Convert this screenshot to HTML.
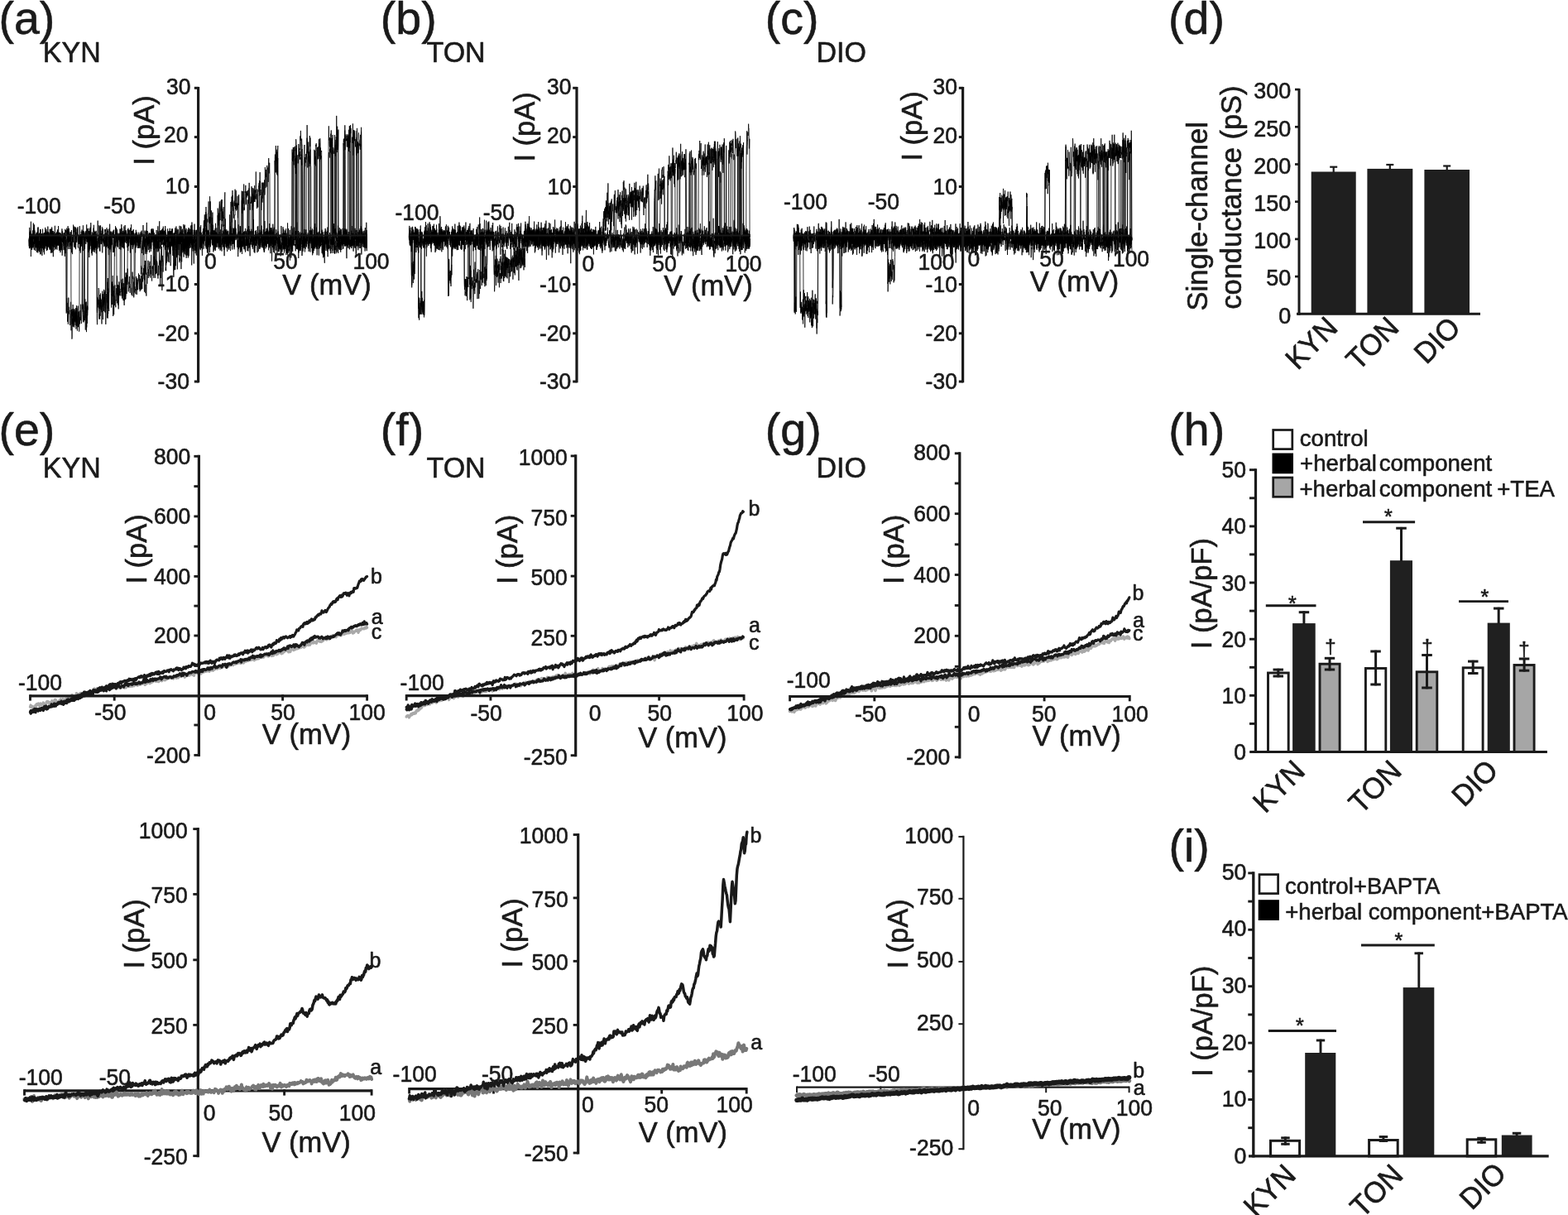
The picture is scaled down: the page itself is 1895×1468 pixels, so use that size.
<!DOCTYPE html>
<html lang="en"><head><meta charset="utf-8"><title>Figure</title>
<style>
html,body{margin:0;padding:0;background:#fff;}
body{width:1895px;height:1468px;overflow:hidden;}
svg{display:block;font-family:"Liberation Sans",sans-serif;}
text{fill:#1a1a1a;stroke:#1a1a1a;stroke-width:.6px;stroke-linejoin:round;}
</style></head><body>
<svg width="1895" height="1468" viewBox="0 0 1895 1468">
<rect width="1895" height="1468" fill="#fff"/>
<text transform="translate(-1.6 40.9)" font-size="55.5">(a)</text>
<text transform="translate(51.8 75) scale(1 1.035)" font-size="34">KYN</text>
<path transform="translate(35 285.5) scale(0.24044 .1)" d="M0 33l1 91 1 19 1-110 1-18 1-20 1 68 1-21 1 48 1-159 1 181 1-56 1 35 1-44 1-29 1 48 1 38 1-57 1-14 1 52 1-89 1-69 1 106 1-39 1-96 1 45 1 36 1-119 1 49 1 92 1 84 1-51 1-50 1 60 1 40 1-57 1 39 1 44 1-70 1-63 1 60 1 10 1 60 1-141 1-1 1-13 1-64 1 105 1 58 1-69 1 122 1-2 1-14 1-20 1 31 1-144 1 87 1 25 1-152 1 96 1-11 1 66 1-62 1 10 1 27 1-74 1 77 1-25 1 33 1-59 1 91 1-5 1-54 1 38 1 53 1 52 1-210 1 102 1 2 1-37 1-72 1 130 1-130 1 83 1 74 1-173 1 34 1-57 1 86 1 110 1 66 1-235 1 10 1 87 1 85 1-53 1-95 1 42 1-9 1-16 1-40 1 63 1 14 1-23 1-15 1-77 1 31 1 123 1-57 1-100 1 155 1-7 1 104 1-106 1-66 1-86 1 161 1 132 1-187 1-44 1 70 1-74 1 15 1 0 1 36 1 72 1-51 1 45 1-76 1 27 1-157 1-1 1 150 1-47 1 63 1 17 1 57 1-17 1 9 1-73 1-62 1-20 1 10 1-41 1 27 1 38 1 35 1-30 1-114 1 89 1 47 1 72 1-13 1-85 1-31 1 173 1-32 1 63 1 38 1-186 1 24 1 12 1 10 1 1 1-23 1-9 1-116 1 54 1-24 1 51 1-25 1 65 1 32 1-25 1-8 1-17 1-42 1 5 1-20 1 52 1-10 1 34 1-118 1 112 1-77 1-22 1 29 1-16 1 52 1-43 1-46 1 1 1 146 1-41 1-93 1 51 1-89 1 197 1-163 1 86 1 30 1-124 1 131 1 22 1-14 1-17 1 42 1-39 1 1 1-30 1 43 1-91 1 90 1-59 1-56 1 82 1 114 1-14 1-103 1 52 1-61 1 4 1 17 1-156 1 122 1-45 1 9 1-49 1-17 1 33 1 129 1 95 1-85 1 50 1-77 1-134 1 98 1 48 1-44 1 35 1 28 1-88 1-69 1 63 1 19 1-5 1 88 1 74 1-122 1 37 1 27 1-8 1 19 1-91 1 49 1 100 1-53 1-111 1 48 1 58 1-42 1-75 1 118 1-151 1 73 1-13 1-82 1 137 1-17 1-106 1 87 1-43 1-110 1 49 1 79 1 49 1-16 1-12 1 24 1-38 1 82 1-44 1-3 1 16 1-101 1-7 1 148 1-35 1-52 1 27 1-47 1 19 1-34 1 48 1-110 1 162 1-75 1-94 1 62 1 9 1 37 1-76 1 80 1 240 1-257 1 31 1-34 1 23 1-127 1 6 1 110 1-1 1 112 1-124 1 22 1 190 1-190 1-66 1 38 1 11 1 62 1-29 1-68 1 45 1 176 1-39 1-283 1 92 1-21 1 94 1-25 1 134 1-26 1-11 1-50 1-30 1 16 1 70 1-30 1-68 1 87 1-44 1-32 1-57 1-1 1-5 1-145 1 212 1 34 1-41 1 73 1-18 1-10 1-193 1 93 1 80 1 97 1 45 1-15 1-177 1-122 1 149 1 8 1 65 1-53 1 7 1-113 1 97 1-31 1 44 1 20 1-32 1 19 1-17 1 46 1-4 1-71 1-25 1 149 1-79 1 49 1-26 1-71 1-34 1 48 1 24 1 31 1-116 1 10 1 37 1 125 1-227 1 120 1-29 1 58 1-44 1 45 1 94 1-51 1-9 1-5 1-76 1 65 1-31 1-48 1 37 1 0 1 66 1-33 1-43 1 121 1 5 1 20 1-38 1-60 1-38 1-3 1 81 1-32 1-117 1 61 1-74 1 83 1-68 1-25 1 84 1 11 1-104 1 130 1 133 1-206 1 159 1-122 1-24 1 13 1-82 1 159 1-7 1-86 1 6 1-82 1 53 1 102 1-148 1 42 1 51 1 75 1 43 1-108 1-51 1 65 1-36 1-6 1 91 1 69 1-75 1-52 1 36 1-153 1 74 1-41 1 218 1-47 1-53 1-38 1-167 1 166 1 112 1-125 1 56 1 19 1-147 1 122 1 64 1-58 1-37 1 45 1-143 1 65 1 83 1-129 1 110 1-63 1-131 1 93 1-30 1 77 1-77 1 125 1-83 1 48 1-50 1 3 1 102 1-34 1-51 1-73 1 141 1 14 1-66 1 19 1-79 1-22 1 7 1 82 1 21 1-62 1 81 1 29 1-32 1 50 1-73 1-9 1 38 1-21 1 50 1-121 1 144 1-104 1 11 1-77 1 110 1 78 1 11 1-13 1-163 1 3 1 23 1-24 1 131 1-23 1-21 1 29 1-88 1-23 1-5 1 91 1 17 1 22 1 40 1-152 1 9 1 50 1-86 1 29 1 112 1 40 1 11 1-66 1-37 1 76 1-75 1 25 1 74 1-91 1-44 1 28 1 48 1 7 1-20 1 21 1-138 1 7 1 71 1-52 1-43 1-4 1 19 1 55 1-39 1 73 1 120 1-88 1 69 1-45 1-107 1 26 1-41 1 105 1-97 1 136 1-9 1-177 1 135 1 91 1-129 1 80 1-163 1 59 1-72 1 113 1-118 1-93 1 175 1 179 1-140 1 54 1-33 1-39 1 50 1 84 1-168 1 69 1 6 1-117 1 168 1 73 1-173 1 128 1-74 1-38 1 101 1-56 1-11 1 76 1 7 1-25 1-161 1-61 1 162 1-89 1 45 1-68 1 38 1-62 1 177 1-125 1 22 1 2 1 94 1-147 1 48 1 2 1 51 1 11 1-60 1 29 1-32 1 46 1-24 1-44 1 29 1 35 1 138 1-143 1 10 1 80 1-213 1-42 1 24 1 79 1 194 1-80 1 31 1-87 1-177 1-44 1 210 1 6 1-97 1 132 1-139 1 137 1 62 1-131 1-62 1 111 1-97 1 101 1-108 1 101 1-17 1-41 1-44 1 63 1-124 1 71 1 13 1 76 1-107 1 167 1-87 1-81 1 144 1 62 1-106 1-79 1 37 1-37 1 14 1 129 1-40 1-29 1 5 1-26 1 52 1 17 1-79 1 8 1 156 1-87 1-67 1 129 1-98 1-104 1 87 1-78 1 3 1 56 1-14 1-46 1 0 1-4 1 117 1-91 1-17 1 169 1-122 1 100 1 18 1-93 1-112 1 46 1 88 1 32 1-50 1 61 1 30 1-155 1 120 1-49 1-65 1-3 1 145 1-16 1-191 1 68 1 5 1 0 1-23 1-70 1 135 1-81 1 14 1-11 1-12 1 95 1 5 1-69 1-39 1 20 1 66 1 12 1-1 1-37 1-6 1 30 1-128 1 193 1-102 1-15 1 123 1-37 1-24 1-49 1-80 1 94 1 95 1-111 1 119 1-131 1-12 1 79 1-9 1 44 1-82 1-44 1-68 1 24 1 17 1-18 1 112 1-32 1-97 1 270 1-140 1-70 1 147 1 40 1-143 1-63 1 13 1 147 1-52 1-48 1 39 1 95 1-145 1 25 1-59 1 221 1 43 1-45 1-86 1 28 1-176 1 107 1-76 1-21 1 34 1 35 1 72 1 30 1-21 1-87 1 82 1-29 1 78 1-117 1-160 1 105 1 208 1-51 1-61 1 54 1-10 1-6 1-67 1 19 1 13 1-52 1-48 1 69 1 76 1 2 1-10 1-3 1 139 1-114 1 18 1 67 1-108 1-18 1 47 1 57 1-75 1-18 1-24 1-93 1 128 1-53 1-113 1 72 1-85 1 24 1 76 1-40 1 122 1-133 1 76 1 42 1 74 1-14 1-51 1-25 1-17 1 74 1-97 1 49 1-27 1 15 1-30 1 151 1-142 1 18 1 7 1 24 1-4 1-3 1 37 1-155 1 55 1-66 1 78 1-70 1-6 1 59 1 115 1-19 1-24 1 67 1-136 1-118 1 78 1 34 1 112 1 95 1-203 1 195 1-3 1-48 1-128 1 206 1-119 1-73 1 20 1-95 1 95 1-11 1 27 1 10 1-92 1 131 1-116 1 92 1-139 1 90 1-53 1 42 1-35 1-113 1 37 1 90 1 64 1-121 1-81 1 59 1 62 1-10 1-15 1 106 1 39 1-4 1-114 1 33 1-9 1-85 1 128 1-15 1-43 1 114 1-10 1 3 1 23 1-27 1-141 1 15 1 97 1-91 1 26 1 31 1 78 1 13 1-23 1-81 1 49 1-11 1-51 1 87 1-33 1-93 1 107 1-70 1 36 1-131 1 61 1-43 1-15 1-68 1 252 1-78 1 3 1 60 1-64 1 39 1-133 1 69 1-20 1 55 1-5 1-107 1-63 1 37 1 128 1 17 1 3 1-163 1-94 1 110 1 51 1-3 1 63 1-17 1-73 1-2 1 67 1 15 1-7 1 154 1-123 1-12 1-79 1 19 1 65 1 22 1-42 1 24 1-15 1-134 1-133 1 335 1 1 1-58 1-130 1-8 1 174 1-226 1 98 1 109 1-16 1 36 1-48 1 154 1-182 1-78 1 86 1 103 1-69 1 53 1-101 1-60 1 151 1 56 1 14 1-129 1-87 1-28 1 55 1 71 1 16 1-126 1 72 1 10 1 9 1-4 1-13 1 51 1-16 1 3 1-60 1 56 1-17 1-138 1 133 1 54 1 14 1-50 1-10 1 18 1-9 1-32 1-99 1 214 1-165 1 33 1 77 1 5 1 14 1 17 1 38 1-53 1 158 1-215 1 19 1-35 1-23 1 49 1 93 1-118 1-36 1 86 1 13 1 98 1-33 1-64 1-57 1 20 1-21 1-87 1 66 1 7 1-2 1-14 1 137 1-26 1 8 1-102 1-59 1 32 1 44 1-26 1 3 1 78 1-20 1-92 1 10 1-12 1 53 1-74 1 45 1 72 1-22 1-70 1-1 1 50 1 38 1 36 1-55 1-95 1 156 1-29 1-2 1-7 1-92 1 20 1 45 1 65 1-46 1-227 1 10 1 191 1 86 1-14 1 116 1-37 1-16 1-32 1-165 1 101 1 14 1-71 1 54 1 79 1-130 1 6 1-8 1 32 1-34 1 55 1-148 1 66 1-74 1 59 1 85 1-7 1-11 1 9 1 103 1-148 1 89 1-134 1 30 1 51 1-52 1 55 1 51 1-113 1 41 1-8 1-107 1 86 1-14 1 138 1-106 1 141 1-107 1 134 1-54 1-21 1 17 1 12 1 37 1 34 1-129 1-99 1-125 1 116 1 112 1 8 1-15 1-35 1-30 1 15 1 50 1-128 1 129 1-108 1 56 1-15 1 14 1-41 1-19 1 57 1-39 1 227 1-124 1-52 1-8 1-36 1-103 1 117 1 74 1-99 1 73 1-59 1 61 1 46 1 22 1 4 1-75 1 84 1-64 1 35 1 34 1-57 1-83 1 102 1-85 1-11 1-18 1 125 1-31 1-149 1 155 1 136 1 21 1-152 1-3 1 27 1 33 1-48 1-91 1 96 1 19 1-125 1 27 1 50 1-3 1 33 1 28 1-9 1-48 1-97 1 102 1 83 1 63 1-116 1-35 1 88 1 26 1-65 1 5 1-97 1 62 1-76 1 23 1 8 1-20 1-116 1 52 1 93 1 2 1-21 1 49 1 33 1 21 1-104 1 25 1-16 1-41 1-54 1 77 1-28 1 194 1-93 1-36 1-22 1 145 1-145 1 9 1-38 1 32 1 15 1 81 1-144 1 50 1 125 1-106 1-9 1-50 1-132 1 129 1 125 1-73 1-114 1 108 1 20 1 68 1 14 1-74 1 22 1-141 1 153 1-16 1 55 1 15 1-86 1-17 1-54 1-96 1 101 1 49 1-69 1 100 1-11 1 21 1-76 1-90 1 144 1 32 1-38 1-32 1 0 1 11 1-22 1-106 1 155 1-105 1 47 1 17 1 43 1-112 1 156 1 11 1 11 1 37 1-126 1-194 1 174 1 118 1 26 1-105 1-2 1 25 1-132 1 37 1 13 1 153 1-104 1 118 1-68 1-134 1 221 1-148 1 62 1 91 1-122 1-84 1 127 1-27 1-95 1-19 1 40 1 103 1-53 1 47 1 80 1-2 1 10 1-11 1-194 1 130 1-21 1-38 1-76 1-57 1 14 1 78 1-54 1 7 1 16 1 90 1-38 1-2 1 98 1-81 1 37 1-100 1 63 1 4 1 5 1-42 1-51 1 34 1-1 1 100 1 22 1-135 1 82 1-49 1 48 1-49 1-81 1 142 1 4 1-111 1-78 1 67 1-23 1 47 1 80 1 81 1-99 1 87 1 12 1-104 1-113 1 134 1 24 1 124 1-30 1-46 1 46 1-181 1 43 1-21 1 128 1-40 1-255 1 221 1-87 1 87 1-58 1 32 1 36 1-18 1-82 1 133 1-27 1-36 1 38 1-71 1 140 1-68 1-11 1-4 1-86 1-43 1 80 1 33 1 77 1-38 1-115 1 74 1 42 1 24 1-38 1-115 1 124 1-90 1 60 1-126 1 119 1-68 1 105 1 76 1-17 1-161 1-34 1-6 1 101 1 9 1-10 1 7 1 20 1 10 1 73 1-95 1-12 1-141 1-7 1 39 1-21 1 87 1 82 1-75 1-26 1-9 1 39 1-84 1 105 1 8 1 4 1 30 1-41 1-5 1 107 1-89 1 29 1-40 1-47 1-14 1-28 1 48 1-27 1 5 1 112 1-57 1 69 1-38 1 28 1-89 1 24 1 174 1-68 1-8 1-53 1 26 1-126 1-17 1 82 1 51 1-67 1-5 1-13 1 8 1-66 1-35 1 80 1-87 1 25 1 30 1-18 1 82 1-21 1 18 1-57 1 1 1 84 1 15 1-51 1 41 1 0 1-2 1 95 1-105 1 23 1 7 1-42 1-75 1 101 1 2 1-14 1-6 1-2 1-63 1 60 1-123 1 82 1-75 1 54 1 88 1-40 1-27 1 57 1-36 1-21 1-6 1 124 1-20 1-20 1-119 1 85 1-103 1 87 1-81 1 180 1-190 1 137 1 13 1-169 1 53 1 128 1 18 1-182 1 22 1-37 1-1 1 26 1 175 1-62 1-42 1-20 1 63 1 21 1-100 1 131 1-131 1 16 1 55 1 101 1-106 1 11 1 72 1-23 1 27 1 2 1-51 1 10 1 22 1-56 1 92 1-213 1 8 1 161 1-19 1-77 1 45 1 61 1-92 1 62 1-41 1-12 1-1 1 79 1-127 1 12 1 73 1-105 1-56 1 127 1 0 1-10 1 17 1-71 1 240 1-190 1-20 1-72 1 45 1 143 1-58 1 21 1-67 1 133 1-70 1-116 1 100 1-46 1 52 1-16 1 3 1-7 1-72 1-62 1 147 1-31 1 19 1-45 1-118 1 14 1 184 1-92 1 0 1-73 1 41 1 22 1 17 1 15 1-32 1-7 1 36 1 33 1-22 1 120 1-67 1-23 1-62 1 95 1-160 1-21 1 22 1 114 1-84 1 139 1-46 1-209 1 147 1 151 1-75" fill="none" stroke="#000" stroke-width="0.8" stroke-linejoin="bevel" vector-effect="non-scaling-stroke"/>
<path transform="translate(35 285.5) scale(0.24044 .1)" d="M0 51l1-30 1 13 1-21 1 6 1-3 1 79 1-2 1-40 1-47 1 239 1-146 1 58 1-148 1-17 1 121 1-113 1-32 1 55 1-28 1 20 1 34 1 55 1-28 1-2 1 65 1 25 1-106 1-129 1 15 1 137 1-58 1-33 1 34 1 104 1-59 1-45 1-35 1-36 1 239 1-112 1-22 1-37 1 78 1-110 1-92 1 59 1 75 1 146 1-106 1-82 1 15 1-31 1-9 1 53 1 29 1-53 1 97 1-46 1-1 1-41 1 45 1 16 1 21 1-88 1 67 1-56 1 26 1 49 1 65 1-106 1-74 1 58 1 87 1-74 1 155 1-229 1 148 1 23 1 4 1-124 1 104 1 20 1 11 1-91 1-29 1 91 1-34 1-38 1-64 1 57 1-87 1 98 1 2 1-108 1 95 1 77 1-38 1-113 1 13 1 96 1-108 1 27 1 106 1-60 1-36 1 78 1 75 1-55 1-127 1-56 1 70 1-78 1 87 1 90 1-201 1 99 1 62 1-37 1 50 1 22 1 43 1 119 1-116 1-114 1-41 1-26 1 117 1 11 1 12 1-14 1 86 1-6 1-7 1-111 1-11 1-66 1 22 1 54 1-68 1 17 1 176 1-89 1-111 1-17 1 70 1 80 1-35 1 51 1-19 1-97 1 109 1-62 1 132 1-119 1-7 1-27 1 9 1 50 1-26 1 81 1-24 1-66 1 57 1 55 1 11 1-83 1 147 1-22 1-69 1-69 1-14 1-11 1 25 1-84 1 51 1-28 1 136 1-17 1 52 1 61 1-104 1 66 1-86 1-10 1-105 1 34 1 96 1-31 1-66 1 4 1-47 1-10 1-53 1 147 1 43 1-64 1-99 1 41 1 156 1-167 1 2 1 2 1 82 1-108 1 65 1-50 1 14 1-50 1 96 1-36 1-18 1 103 1-17 1 124 1-87 1-47 1-12 1 165 1-46 1-112 1 5 1-52 1 61 1-57 1-20 1 58 1 76 1-9 1-10 1-48 1-172 1 92 1 26 1 55 1 94 1-35 1-171 1 61 1 2 1 61 1-32 1-128 1 26 1 45 1-98 1 94 1 17 1 92 1-49 1-47 1 19 1-28 1 109 1-104 1-114 1 288 1-42 1-59 1 136 1-189 1-34 1 13 1 64 1-42 1 67 1-53 1 91 1-26 1-145 1 61 1-53 1 48 1 23 1 151 1-114 1-124 1 73 1-61 1 174 1-20 1 49 1-113 1-76 1 62 1-89 1-1 1 13 1 44 1-76 1-58 1 209 1-65 1 5 1 52 1 6 1-68 1-7 1 132 1 17 1-27 1 52 1-214 1 68 1-6 1-108 1 115 1 92 1-45 1-135 1 63 1 48 1-15 1 30 1 24 1 67 1-57 1 139 1-115 1-30 1 24 1-49 1-30 1 93 1-192 1-33 1 239 1-14 1-17 1-21 1-7 1-82 1 19 1-42 1 129 1 4 1-24 1 2 1-34 1-76 1 162 1-20 1-60 1 32 1 53 1 10 1-31 1 1 1-68 1 82 1-1 1 0 1-147 1 83 1 26 1 76 1-277 1-18 1 134 1-41 1 75 1-9 1 59 1-75 1-55 1 86 1-26 1-66 1-73 1 312 1-135 1-33 1-122 1 24 1 63 1 50 1 44 1-87 1 54 1 59 1-91 1 2 1-113 1 30 1-28 1 126 1-19 1 110 1-58 1 22 1-13 1-24 1-91 1 151 1-69 1-136 1 42 1-22 1 143 1 34 1 42 1 72 1-185 1-132 1 23 1 96 1-176 1 86 1 121 1-75 1 26 1-44 1 162 1 62 1-176 1-42 1 53 1 53 1-1 1 15 1 28 1 24 1 52 1-95 1-71 1 6 1 155 1-45 1-21 1 36 1 4 1 76 1-186 1 11 1 40 1 17 1-75 1-105 1 59 1-11 1 36 1 91 1 1 1-122 1-10 1 60 1 80 1-55 1 2 1-113 1 33 1-9 1 62 1-12 1-45 1-27 1 77 1-35 1 108 1-34 1-38 1 66 1-157 1 141 1-78 1 72 1-72 1-39 1-72 1 103 1 59 1-107 1 177 1-66 1-94 1 175 1-104 1 91 1-256 1 251 1-60 1-24 1 12 1-94 1 109 1 0 1-8 1-61 1-58 1 83 1 56 1-29 1-31 1-31 1 72 1 69 1-85 1-71 1 196 1-205 1 58 1-7 1 91 1-68 1-120 1-2 1 81 1 16 1-37 1-5 1-67 1-15 1 51 1 12 1 39 1-56 1 163 1-169 1 122 1 16 1 73 1 9 1-175 1 57 1 44 1 25 1-21 1-77 1 99 1-63 1-43 1 31 1-32 1-24 1 45 1 177 1-98 1-45 1-48 1 38 1-89 1 82 1 10 1-9 1 23 1-38 1 46 1 5 1 4 1-35 1 47 1-55 1 80 1-67 1 71 1-45 1-32 1-73 1 2 1 92 1-18 1 19 1-11 1-72 1-38 1 108 1 3 1 89 1 60 1-59 1-29 1-13 1-34 1-58 1-147 1 177 1 42 1-23 1-1 1 55 1 13 1-43 1-42 1 43 1 26 1 100 1-174 1 40 1-79 1 5 1 184 1-125 1-19 1-35 1 84 1-59 1-99 1 88 1 72 1-35 1 2 1-55 1-33 1 52 1-59 1 28 1-28 1 41 1 80 1-31 1 67 1-30 1-41 1-63 1 46 1-68 1 105 1-106 1-35 1 24 1-46 1 102 1-26 1 12 1 74 1-162 1 79 1 64 1 63 1-39 1-65 1 86 1 26 1 92 1 24 1-147 1 59 1-57 1-98 1 83 1 65 1-220 1 175 1-89 1 132 1-50 1-20 1 75 1-90 1 131 1-160 1-24 1-39 1 95 1-11 1 53 1 36 1-9 1 15 1 5 1-75 1-66 1-36 1 102 1-53 1-45 1-5 1 38 1 41 1-20 1-56 1 85 1-156 1 77 1 112 1-18 1 55 1-55 1 14 1-32 1-40 1 40 1 51 1-178 1 23 1-78 1 53 1-7 1 50 1 27 1 90 1 45 1-119 1-15 1 69 1-62 1-3 1-94 1 140 1 13 1-75 1-46 1 4 1 99 1-30 1-56 1 42 1 90 1 54 1 23 1-72 1-12 1-1 1 25 1 3 1-99 1-15 1 19 1 76 1-55 1-34 1 107 1 60 1-135 1 9 1 87 1-75 1 64 1-133 1 38 1 68 1 76 1-15 1-172 1-47 1 29 1 119 1 29 1 31 1-17 1-87 1-14 1-39 1 100 1-107 1 53 1 28 1 71 1-109 1 43 1-79 1 107 1-59 1-14 1-47 1 8 1 0 1 2 1 115 1-105 1 48 1 52 1-112 1-100 1 139 1-96 1 27 1 52 1 40 1-24 1-36 1 99 1-20 1 104 1-152 1 7 1 5 1 39 1-8 1-16 1 121 1-101 1 8 1-13 1-56 1 72 1-147 1 150 1-129 1 42 1 39 1-26 1-10 1 109 1 110 1-54 1-73 1-73 1-30 1 118 1 16 1 32 1-10 1 18 1-119 1-48 1-29 1 55 1 6 1 21 1-78 1 65 1 60 1-29 1-187 1 116 1 13 1 85 1-44 1 38 1-55 1 30 1 50 1-65 1 17 1-4 1 27 1-40 1 26 1-141 1 60 1 86 1 15 1-101 1-21 1 71 1 18 1 12 1-23 1-5 1 58 1-109 1-61 1 134 1-73 1 71 1-66 1-47 1 155 1-57 1-103 1 45 1 17 1 3 1 26 1-77 1 33 1 57 1-35 1 39 1-64 1-93 1 192 1-107 1 11 1 34 1 38 1-18 1-55 1 33 1 145 1 72 1-152 1 10 1-150 1 81 1 56 1-48 1 122 1-24 1-24 1-213 1 63 1 104 1-45 1-95 1 47 1 149 1-10 1 10 1-40 1 79 1-258 1 25 1 207 1 7 1-49 1-52 1-109 1 56 1 35 1-39 1 135 1 19 1-78 1 52 1-44 1 7 1-46 1 175 1-201 1 26 1 83 1 24 1-162 1-6 1 53 1-30 1 0 1 26 1 15 1 84 1-154 1 130 1-43 1 39 1-48 1 158 1-218 1 126 1-67 1 5 1 93 1-75 1 52 1 51 1-116 1 133 1-8 1-97 1 0 1-60 1 47 1 51 1 24 1-42 1-60 1-26 1-28 1 36 1 67 1-56 1-22 1-31 1 96 1-25 1-93 1 146 1 41 1-54 1-40 1 9 1-54 1 107 1 57 1-5 1-52 1-16 1 14 1 80 1-136 1 9 1-40 1-46 1 86 1 76 1-116 1 95 1 9 1-11 1 54 1-113 1 111 1-92 1 29 1-124 1 123 1-23 1-45 1-43 1 65 1 91 1-23 1-63 1-46 1-31 1 36 1-70 1 57 1 111 1-41 1-18 1-34 1 73 1 17 1 55 1-118 1-63 1 14 1-37 1 64 1-6 1-29 1 42 1 80 1 5 1-84 1 16 1 23 1 28 1-56 1-77 1 80 1-60 1 20 1 12 1 79 1-65 1 21 1-18 1-27 1 83 1-61 1 42 1 0 1-135 1-28 1-103 1 188 1 54 1-33 1-10 1 10 1-17 1 33 1 11 1-51 1 132 1 13 1-86 1 139 1 59 1-59 1-21 1-119 1-18 1-86 1 48 1 104 1-57 1-98 1 180 1 77 1-5 1-195 1 91 1-77 1 20 1 59 1 71 1-117 1-17 1-64 1 62 1-44 1 17 1 86 1-23 1 1 1 11 1 37 1 48 1-147 1-73 1 114 1 46 1 58 1-21 1 55 1-62 1-91 1 77 1-97 1-15 1 65 1-22 1 70 1-62 1 122 1-145 1 68 1-54 1 104 1-96 1 57 1-233 1 85 1 179 1-40 1-18 1 45 1 111 1-191 1 9 1-22 1 69 1-70 1-75 1-20 1 134 1 12 1 45 1-144 1 2 1 64 1 55 1 3 1-39 1-65 1 56 1-26 1 79 1 78 1-81 1-103 1 193 1-54 1-23 1-34 1-7 1-8 1 8 1-111 1 17 1 44 1 28 1 12 1 18 1-139 1 13 1 23 1 59 1-4 1 139 1-109 1-24 1-90 1 189 1-54 1-29 1-42 1 34 1-18 1 95 1-101 1-7 1-8 1 69 1 5 1 43 1-15 1-3 1-34 1 44 1-13 1-14 1-120 1 26 1-5 1-74 1 178 1 62 1-6 1-34 1 48 1-189 1 132 1-172 1 88 1 24 1 33 1 18 1 10 1-88 1-24 1-18 1 56 1-13 1-84 1 138 1-93 1 14 1-12 1-4 1 84 1-56 1-63 1 30 1-14 1-35 1 146 1 60 1-147 1 149 1 62 1-186 1 59 1-26 1 63 1-221 1 162 1-14 1 50 1 41 1-194 1 90 1 30 1 49 1 49 1-9 1-100 1 65 1-74 1 76 1-37 1-12 1 17 1-105 1 50 1-41 1 123 1 59 1-156 1-97 1 129 1-13 1-27 1 198 1-113 1-74 1 26 1 44 1 95 1-52 1-115 1 14 1 153 1-183 1 53 1 94 1-30 1-40 1-55 1 50 1 38 1-8 1 48 1-38 1 58 1-56 1 32 1-69 1 111 1 2 1-36 1-118 1 40 1-188 1 107 1 66 1-47 1 52 1 47 1 88 1-89 1-127 1-55 1 79 1 102 1 44 1-52 1-64 1-22 1 21 1 32 1 40 1-19 1 115 1-84 1-4 1 69 1-31 1-100 1-93 1-7 1 105 1 45 1-2 1 28 1 41 1-119 1 177 1 60 1-102 1-90 1 0 1-105 1 61 1-35 1 36 1-3 1 152 1-140 1 33 1-35 1 118 1 2 1-164 1-14 1 77 1-34 1 59 1-6 1-75 1 27 1 59 1-18 1 8 1 18 1-27 1 86 1-141 1 68 1-43 1 46 1 41 1-1 1 1 1 6 1-13 1-54 1 46 1 28 1 1 1-37 1 138 1-298 1 30 1 48 1 91 1 40 1-55 1-98 1 74 1 54 1 2 1-92 1-52 1-5 1-12 1 129 1-5 1 117 1 2 1-40 1-119 1 50 1 2 1-118 1-26 1 26 1 135 1-65 1-83 1 69 1 54 1-100 1 169 1-119 1 80 1 0 1-91 1 12 1 13 1-20 1 65 1-26 1-122 1 80 1-55 1 42 1 42 1-10 1 69 1-49 1-43 1 126 1-21 1-63 1-10 1-29 1 22 1-60 1 156 1 12 1-219 1 16 1 63 1-20 1-101 1 151 1-76 1 97 1 15 1 72 1-133 1 134 1-155 1 127 1 11 1-38 1-109 1 140 1-9 1-162 1-108 1 91 1 15 1 105 1-5 1 10 1-50 1 79 1-74 1-83 1-82 1 164 1-24 1-78 1 31 1 40 1 83 1-157 1 65 1 93 1 12 1 27 1 83 1-157 1-30 1 100 1 2 1 1 1-60 1-72 1 94 1 11 1-88 1 9 1-27 1 93 1-13 1 78 1 32 1-56 1 39 1 2 1 30 1-117 1 35 1 90 1-50 1-83 1 17 1 137 1-131 1-55 1 83 1-58 1-94 1-29 1 94 1-14 1 131 1-93 1-79 1 16 1-25 1 147 1-81 1 123 1-24 1 88 1-111 1 27 1-180 1 50 1-3 1 122 1-46 1 38 1-78 1-60 1 60 1 107 1-55 1 89 1-97 1-30 1-10 1 4 1-27 1 21 1-31 1-24 1 157 1 5 1-75 1-43 1-75 1 116 1-48 1 153 1-192 1 76 1 78 1-90 1 138 1-25 1-9 1-123 1 85 1 24 1-50 1 92 1-66 1-189 1 112 1 125 1-115 1 53 1-74 1 19 1-200 1 39 1 100 1 12 1-80 1 142 1 49 1-103 1-99 1 141 1-27 1 71 1 47 1-82 1-17 1 58 1-49 1-126 1 129 1 19 1-52 1 54 1-42 1-15 1 73 1-120 1-51 1 79 1-52 1 126 1-66 1-84 1 62 1-101 1 204 1-29 1 37 1 1 1-20 1-87 1 93 1-44 1-41 1-94 1 187 1-42 1-24 1-104 1 153 1-22 1 66 1-48 1-67 1 71 1-117 1-34 1 86 1 78 1 48 1-64 1-20 1 15 1-23 1-25 1 56 1-48 1 4 1 93 1-35 1-59 1 62 1-36 1 41 1-86 1-21 1-48 1 150 1 63 1 5 1-53 1-26 1-36 1 42 1-38 1-64 1 110 1 26 1-16 1-43 1-33 1 21 1 14 1-84 1 20 1-32 1 130 1-119 1-26 1 13 1 71 1-49 1 158 1-18 1-206 1 107 1 40 1-92 1 48 1 25 1-39 1 22 1 34 1-44 1 14 1-69 1 96 1-53 1 103 1 84 1 0 1-138 1 16 1-41 1 34 1-73 1-34 1 51 1-33 1 119 1 3 1-24 1-39 1-13 1 69 1-36 1-15 1 114 1-76 1-48 1-13 1 93 1-86 1-24 1 93 1 32 1 26 1-137" fill="none" stroke="#000" stroke-width="0.8" stroke-linejoin="bevel" vector-effect="non-scaling-stroke"/>
<path transform="translate(35 285.5) scale(0.24044 .1)" d="M0 50l1-3 1 57 1-158 1 202 1-59 1-12 1-93 1-19 1 83 1-226 1 239 1-64 1-23 1 49 1 141 1-72 1 38 1-148 1 0 1 100 1-108 1-133 1 91 1 50 1 25 1 71 1 17 1-68 1 47 1-31 1 6 1-70 1 89 1-41 1 94 1-150 1 127 1-118 1 74 1-82 1-10 1 107 1-127 1 136 1 122 1-58 1-170 1 98 1-21 1 13 1-9 1 71 1 65 1-73 1 52 1-113 1 160 1-178 1-63 1 30 1 90 1 38 1-162 1 74 1 33 1 156 1-147 1-119 1-55 1 84 1 73 1 2 1-21 1-54 1 34 1 15 1 174 1-126 1-106 1 12 1 19 1-124 1 105 1 64 1-7 1-74 1 28 1 46 1 52 1-21 1-115 1 102 1 90 1-95 1-188 1 179 1 69 1-48 1-44 1 95 1 7 1-54 1-26 1 18 1 62 1-42 1-102 1 8 1 55 1 32 1-56 1 74 1-72 1 88 1 74 1-36 1-60 1 14 1-181 1 190 1-102 1-40 1 26 1-31 1 54 1-4 1 14 1 87 1-25 1-76 1 4 1-42 1 112 1-110 1 14 1 144 1-89 1 4 1 25 1-138 1 84 1 78 1-31 1 19 1-96 1 35 1-14 1 18 1-86 1 22 1 81 1-52 1 64 1 87 1-60 1-29 1 27 1-94 1-2 1-38 1 5 1 173 1-114 1 18 1-18 1-10 1 6 1 7 1 40 1-31 1 38 1-26 1-16 1 1 1 128 1-154 1 24 1 64 1 9 1-98 1-36 1 58 1 99 1 2 1-53 1-35 1-1 1 885 1-109 1-31 1 108 1-718 1-63 1-149 1-2 1 68 1-40 1 69 1-42 1-16 1-40 1 103 1 25 1 12 1 22 1-46 1 74 1-125 1 80 1-52 1-21 1 848 1 103 1-2 1 79 1-154 1 53 1-88 1 105 1 110 1-177 1 128 1-149 1 176 1-65 1 15 1-142 1 197 1-93 1-60 1 109 1-123 1 8 1-8 1-40 1 154 1 99 1-204 1 162 1 6 1-128 1 51 1 134 1-193 1-52 1-55 1 256 1-19 1-166 1 7 1 74 1-60 1 108 1-66 1 86 1-55 1-28 1-81 1 59 1 60 1-194 1 131 1 102 1-1 1-46 1-68 1-235 1-722 1 889 1-49 1 88 1-26 1-38 1 184 1-49 1 30 1-1041 1 104 1-60 1 140 1 688 1-1 1 139 1 150 1-263 1 30 1-37 1 195 1 100 1-123 1 18 1-128 1-84 1 121 1-48 1-795 1-47 1 88 1-68 1-11 1 59 1-32 1 67 1-108 1-53 1 101 1 5 1-69 1-56 1 11 1 44 1-2 1-55 1-2 1 90 1 63 1 45 1-135 1-61 1 88 1-31 1 60 1 27 1-76 1-7 1-53 1-70 1 137 1 129 1-204 1-46 1 47 1 91 1-139 1 79 1 109 1-199 1 11 1 122 1 64 1-105 1 866 1 35 1-192 1 53 1-26 1 15 1 49 1-100 1-99 1 13 1 10 1 98 1 128 1-88 1-43 1 4 1 111 1-108 1 64 1-63 1 35 1-20 1 127 1-58 1 82 1-42 1-31 1-183 1 76 1-42 1 154 1-12 1 0 1-51 1 116 1-260 1 158 1-52 1-71 1 2 1 58 1 46 1 83 1-841 1 662 1-592 1 37 1-128 1-19 1 61 1 679 1 75 1-105 1-23 1 318 1-76 1 21 1-100 1-123 1 124 1 67 1-836 1-35 1 44 1-30 1-103 1 113 1 42 1-157 1 185 1-136 1-49 1 654 1 79 1 16 1-141 1 117 1 62 1-83 1-172 1 53 1 52 1 143 1-67 1 61 1 231 1-185 1-73 1-604 1 41 1 18 1-80 1-111 1-76 1 46 1 49 1-43 1-32 1 66 1 640 1-7 1 212 1-15 1-208 1 138 1-55 1-77 1-4 1 292 1-165 1-120 1 28 1 90 1-29 1-41 1-79 1 0 1-650 1 79 1 57 1 14 1-31 1 85 1-35 1 638 1-151 1 18 1-2 1 138 1-68 1-24 1-14 1 156 1-143 1-63 1 72 1-7 1 129 1 18 1-71 1-63 1-3 1 120 1-50 1 4 1-275 1 29 1 96 1 100 1 30 1-42 1-183 1 112 1-51 1-141 1 69 1 64 1 72 1 73 1-33 1-28 1-56 1 26 1-93 1 138 1-24 1 85 1-18 1-93 1-2 1-546 1 6 1-173 1 564 1 283 1-82 1 95 1-150 1-137 1 70 1 15 1-34 1 169 1 72 1-172 1 188 1-38 1-203 1 140 1-20 1-39 1-160 1-384 1-51 1 157 1-160 1-58 1 110 1-77 1 156 1-114 1 75 1-93 1 4 1 46 1-43 1 81 1-70 1 122 1 1 1-169 1 193 1-55 1-94 1 47 1 3 1 49 1 17 1 29 1-157 1 56 1 420 1-104 1 37 1-13 1 125 1-25 1 51 1-26 1 11 1 33 1-108 1 25 1 5 1-32 1-55 1 99 1 60 1 128 1-113 1-30 1-134 1 52 1 135 1 106 1-106 1 72 1 23 1 45 1-111 1-159 1 22 1 100 1-134 1 7 1-73 1 2 1-82 1 212 1-106 1 38 1 46 1-61 1-93 1 14 1-40 1 94 1-41 1 145 1-93 1 50 1-119 1-115 1 95 1 145 1 44 1 32 1-139 1-39 1 32 1-34 1 68 1 47 1-372 1-112 1 512 1-262 1 64 1-2 1 44 1-353 1 94 1-100 1 432 1-142 1 57 1 53 1 69 1-175 1-248 1 412 1-148 1 13 1 14 1 146 1-19 1 38 1 21 1-69 1-89 1 116 1 2 1-63 1-215 1 47 1 107 1-53 1 113 1 189 1-177 1-30 1 35 1-256 1-243 1 37 1 141 1-57 1-131 1 113 1-91 1 124 1 42 1-79 1-77 1 91 1-32 1-5 1-22 1 1 1-33 1 114 1 54 1-119 1 165 1-111 1 365 1-40 1 42 1-306 1 212 1-53 1-63 1 42 1-141 1-17 1 107 1 78 1 31 1-34 1-7 1-71 1 12 1 109 1-228 1-131 1 47 1-101 1 84 1 36 1-86 1 420 1-198 1-65 1-155 1 115 1-144 1 52 1-39 1 97 1-47 1 27 1 38 1-72 1 5 1 262 1-87 1 95 1-171 1 297 1 3 1-407 1-7 1 27 1 71 1 33 1 250 1 20 1-204 1 54 1-14 1 64 1-51 1-299 1 51 1 441 1-327 1 50 1 105 1-212 1 9 1-14 1 69 1 86 1-158 1 201 1 27 1-79 1-148 1 62 1-8 1-95 1 130 1 120 1 27 1-150 1 142 1 72 1-189 1-114 1-22 1 70 1-36 1 45 1 13 1-108 1 145 1 139 1-274 1 80 1 2 1-30 1 65 1-85 1 144 1-65 1-83 1 105 1 1 1 120 1-191 1-54 1 138 1-73 1-11 1 70 1-115 1-3 1-47 1 170 1-139 1-59 1-20 1 195 1 8 1-117 1-38 1 197 1-71 1-66 1 1 1 132 1-73 1-154 1 132 1-24 1-31 1-38 1-87 1 37 1 200 1-179 1 145 1 113 1-30 1-75 1 42 1 10 1-173 1 78 1-82 1-98 1 178 1-67 1 52 1-90 1 130 1 11 1-60 1-58 1-5 1 58 1-38 1-36 1 98 1 66 1-2 1 5 1-139 1 47 1-54 1-49 1 88 1-1 1 47 1-44 1 62 1-38 1 17 1 60 1 65 1-124 1-149 1-14 1 186 1 91 1-33 1 33 1-115 1-47 1 110 1-2 1-15 1 0 1-43 1-124 1 152 1-140 1-101 1-11 1 116 1-107 1-79 1 112 1 72 1 25 1-4 1-53 1-64 1-181 1 104 1 184 1 180 1-99 1 26 1 40 1-118 1-38 1 153 1 42 1-182 1 64 1 105 1-114 1-215 1 13 1-39 1-28 1-205 1 76 1 93 1 77 1 166 1 111 1-65 1-130 1-157 1 34 1 125 1-75 1 14 1 96 1-172 1 253 1 142 1-19 1 21 1-39 1-99 1 130 1-78 1 38 1 17 1-2 1-109 1 78 1-97 1 81 1-25 1 123 1-105 1-2 1-1 1-119 1 79 1 36 1-38 1 30 1-258 1 25 1 22 1 52 1 23 1-124 1 19 1-28 1-48 1-19 1-59 1 97 1 98 1-97 1-35 1-51 1-53 1 4 1 116 1-133 1 256 1 3 1-69 1-80 1 112 1-79 1 182 1-135 1 13 1-114 1 139 1-12 1-4 1 104 1-199 1-149 1-57 1 481 1 45 1 12 1 62 1 58 1-104 1 100 1-89 1-57 1 99 1 37 1-1 1-113 1 125 1-28 1-88 1 29 1 19 1-10 1-40 1 140 1-104 1 28 1-21 1 15 1-121 1 205 1 29 1-95 1-305 1-75 1 42 1 316 1-538 1 40 1 14 1-7 1-122 1 123 1 110 1 14 1-103 1 192 1-30 1-66 1-47 1-69 1 64 1-79 1-40 1-83 1 158 1 85 1-36 1-42 1 1 1 92 1-93 1 11 1 39 1-32 1 29 1 36 1-74 1 173 1-182 1 5 1 23 1-21 1-106 1 71 1 414 1 38 1 57 1 32 1-42 1-42 1 161 1-101 1 97 1-142 1 25 1 96 1-626 1-84 1 167 1 103 1-38 1-46 1-101 1 46 1 538 1-69 1-103 1 150 1-106 1-43 1 45 1 117 1-122 1 51 1 135 1-56 1-58 1-56 1-67 1 174 1-128 1 59 1 72 1-81 1 0 1-427 1-49 1 81 1 513 1 27 1-183 1-477 1 1 1-24 1-143 1 93 1 153 1 532 1-106 1 8 1 1 1 61 1-50 1-52 1-57 1 128 1-399 1-88 1-9 1 14 1-168 1 104 1 634 1-534 1-113 1-85 1 567 1 119 1-82 1 23 1 15 1-30 1-50 1 74 1-56 1 5 1 105 1 4 1-188 1 13 1 128 1-72 1 92 1 44 1 13 1 51 1-184 1-29 1 18 1 8 1 96 1-2 1-85 1-1 1-50 1-569 1-71 1 828 1-11 1-79 1-11 1 60 1-36 1-495 1-68 1 170 1-96 1-188 1-49 1 27 1 212 1-123 1 74 1-190 1 118 1-119 1 11 1 687 1-81 1 223 1-792 1-80 1 182 1-20 1-315 1 153 1 97 1-166 1 35 1-64 1-27 1 208 1-4 1-166 1-88 1 149 1 800 1-36 1 27 1-94 1 8 1 4 1 132 1-43 1-79 1-5 1 119 1-12 1-62 1-7 1 71 1-47 1-11 1-32 1-125 1 163 1-1 1 66 1 172 1-178 1 9 1-61 1-43 1-17 1 24 1 35 1 123 1-54 1-79 1 80 1-102 1 77 1-8 1-1021 1 63 1 77 1-23 1-235 1-63 1 126 1 18 1-97 1 167 1 26 1 72 1-61 1 111 1-181 1-30 1 1067 1 2 1-126 1-30 1 138 1-2 1-57 1 13 1 13 1 0 1 45 1 27 1-87 1 180 1-79 1-53 1 118 1-88 1-105 1-41 1 36 1 8 1-72 1 69 1-11 1 139 1-14 1-90 1 97 1-51 1-136 1 90 1 125 1-53 1-62 1 27 1-36 1 68 1-1 1-40 1 64 1 78 1-67 1 44 1-17 1-72 1-6 1 94 1-44 1 25 1-160 1 106 1-134 1 207 1-48 1 24 1-96 1 12 1-65 1-11 1 75 1-14 1-1 1 8 1 105 1 7 1 62 1-123 1-59 1 36 1 46 1-1210 1 132 1-45 1 56 1 2 1-53 1-61 1 28 1 130 1-214 1 105 1 2 1-4 1 34 1 30 1-30 1 109 1-113 1 188 1-310 1 221 1-112 1-111 1 1082 1 24 1 51 1-2 1 31 1-10 1-31 1-13 1 55 1-17 1 94 1-1178 1-28 1-19 1-35 1 21 1-38 1-131 1 2 1 51 1-119 1 122 1 166 1 19 1-167 1-43 1 75 1-1 1 1190 1-3 1 7 1-32 1 70 1-28 1-853 1-105 1-81 1-60 1-50 1-55 1 1169 1-1017 1 110 1-78 1 32 1-45 1-61 1 49 1 19 1-70 1-22 1 4 1-173 1 161 1-108 1 305 1-130 1 0 1 7 1-187 1 240 1-122 1 120 1 59 1-20 1-352 1 52 1 79 1-107 1 152 1 178 1 23 1 927 1-79 1 104 1 30 1-60 1-58 1 148 1 54 1-13 1-35 1-94 1 19 1-89 1 155 1-136 1-19 1-1063 1 21 1 156 1-12 1-154 1 1129 1-1060 1 116 1-256 1 22 1-38 1 102 1 1156 1-54 1 147 1-172 1 24 1-49 1-65 1 47 1 47 1-37 1-10 1 39 1-32 1 102 1-1053 1-48 1 76 1-279 1 34 1 218 1-136 1 95 1 29 1-32 1 1045 1-76 1-45 1-28 1 140 1 11 1 27 1-91 1 55 1 88 1-99 1-11 1 6 1 170 1-13 1 54 1 64 1-178 1-15 1-189 1 114 1-8 1 36 1 16 1-153 1 125 1-16 1-63 1 27 1 104 1-70 1 121 1-25 1-46 1-78 1-19 1-965 1-55 1 5 1 2 1 52 1 5 1-102 1 29 1-38 1 53 1-177 1 1220 1 120 1-142 1-1169 1 80 1-112 1 1243 1 35 1 42 1-1173 1 1145 1-51 1-1126 1 12 1 22 1 32 1 9 1-3 1-41 1-30 1-64 1 88 1 79 1-136 1 62 1-53 1-22 1-85 1 43 1 95 1 15 1 36 1-131 1-183 1 217 1-7 1 1229 1 94 1-25 1-229 1 43 1 24 1 140 1-121 1-8 1 96 1-172 1 34 1-48 1 6 1 108 1 3 1-12 1 2 1-26 1 18 1 45 1-76 1 41 1-29 1 88 1 47 1-25 1 19 1-1301 1-26 1 42 1-34 1 72 1-50 1-119 1-11 1 115 1 232 1 1044 1-146 1 80 1-41 1-56 1 257 1 61 1-151 1-45 1-31 1 68 1 21 1-1154 1-195 1 18 1 106 1-29 1-162 1 90 1 121 1-258 1 268 1-79 1 130 1-10 1 1141 1-45 1-19 1-42 1 46 1 27 1-120 1 27 1-115 1 21 1 60 1 106 1-1 1 6 1-1275 1-77 1 160 1 1242 1-1372 1 31 1 71 1-115 1-10 1 113 1 4 1 80 1-94 1 59 1 7 1 130 1-211 1 3 1-87 1 124 1 46 1 103 1-144 1 54 1-41 1 125 1-117 1 1184 1 59 1-47 1-56 1-91 1 128 1 92 1-49 1 46 1-82 1-1175 1 32 1-109 1-125 1 67 1 1300 1 58 1-166 1 186 1-5 1-60 1-74 1 7 1 75 1 22 1 2 1-133 1 37 1 41 1-1 1-29 1 46 1 87 1-147 1 130 1-112 1-33 1-14 1 119 1 15 1 45 1-113 1-62" fill="none" stroke="#000" stroke-width="0.8" stroke-linejoin="bevel" vector-effect="non-scaling-stroke"/>
<path transform="translate(35 285.5) scale(0.24044 .1)" d="M0 53l1 64 1-20 1-203 1 105 1-18 1 99 1 56 1-37 1-64 1 44 1 38 1 33 1 3 1-84 1 4 1-9 1 75 1-156 1-51 1 159 1 48 1-13 1-58 1 55 1-52 1-54 1 70 1-97 1 68 1-18 1 17 1 118 1-175 1 61 1 76 1 2 1-30 1-95 1 121 1-81 1 133 1-90 1 40 1 5 1-91 1 1 1 82 1-79 1 58 1-53 1 43 1-19 1 0 1 70 1-122 1-43 1-72 1 302 1-139 1 62 1-78 1-35 1-30 1 181 1-136 1-54 1 77 1 36 1-3 1-93 1 46 1 63 1-84 1 129 1-102 1 36 1-7 1-36 1 79 1-138 1 47 1-61 1 90 1-122 1 127 1-46 1 88 1-60 1 113 1-86 1-6 1-54 1 3 1-67 1 86 1-100 1 78 1-4 1 9 1-29 1 26 1 20 1 26 1 91 1-90 1 45 1 22 1 2 1-65 1 126 1-191 1 0 1 59 1-47 1 40 1 44 1-33 1-27 1 44 1-43 1-27 1-85 1 130 1 109 1-147 1-19 1 121 1-132 1-24 1 90 1-4 1 38 1-125 1 106 1-64 1 100 1 8 1-86 1 81 1-63 1-72 1 15 1-57 1 56 1-32 1 130 1-106 1 118 1 2 1-156 1 52 1 7 1-21 1 21 1 152 1-98 1-98 1-10 1 88 1 125 1-124 1 91 1-164 1 15 1 11 1 1 1 47 1 24 1-30 1-86 1 75 1 8 1 49 1-88 1 118 1-28 1-110 1 102 1-88 1-7 1 25 1 47 1 148 1-123 1 14 1 0 1-47 1 751 1 100 1-155 1 169 1-111 1 123 1 104 1-127 1 39 1 118 1-177 1-144 1 89 1 108 1-84 1 66 1 40 1 57 1 57 1-51 1-126 1 10 1-114 1 169 1 176 1-252 1 93 1 45 1 217 1-20 1-223 1 58 1-4 1-227 1 102 1-6 1 171 1-118 1 28 1 98 1-11 1-206 1 49 1 49 1 29 1-60 1 91 1-124 1-10 1 167 1-106 1-131 1 213 1-179 1 0 1 85 1 76 1 20 1 26 1-10 1-20 1-54 1-48 1-37 1 242 1-51 1-969 1 45 1-29 1-5 1-25 1 16 1-22 1-105 1 71 1 45 1-25 1-26 1 22 1-11 1-74 1 47 1 826 1-59 1 130 1 27 1 60 1-84 1 40 1-17 1 34 1-114 1 119 1-109 1-150 1 127 1-89 1 192 1-139 1 75 1-133 1 143 1 166 1-149 1 101 1-90 1-114 1 41 1-883 1 86 1 21 1 82 1-139 1 3 1-30 1-23 1 24 1 66 1 27 1 34 1-81 1-12 1-23 1-205 1 167 1 51 1-23 1 41 1 73 1-132 1 68 1-48 1 18 1 3 1-4 1 115 1-72 1-31 1-65 1 160 1-29 1-37 1-69 1 12 1 135 1-126 1-46 1 144 1-115 1 77 1 105 1-178 1-25 1 126 1 859 1 77 1-135 1-47 1-135 1 39 1 19 1 52 1-94 1 29 1 118 1 88 1-63 1 0 1 62 1-295 1 258 1-97 1-177 1 124 1 72 1-96 1 131 1 10 1 130 1-173 1-48 1-60 1-70 1 106 1 190 1-193 1-78 1 62 1-58 1 89 1-42 1-37 1-14 1 47 1 137 1-263 1 265 1-58 1 202 1-150 1-35 1-141 1-44 1 134 1 18 1 140 1-434 1 103 1-150 1 367 1-133 1-109 1 158 1 54 1-165 1 1 1-646 1 127 1-115 1 13 1 74 1-35 1-45 1 19 1 87 1 639 1 65 1-162 1 13 1-28 1 140 1-151 1-97 1 160 1 107 1 122 1-303 1-61 1 212 1 3 1-100 1 35 1 85 1-23 1-224 1 90 1 45 1 96 1 38 1-90 1 10 1-81 1-70 1 77 1-128 1-98 1 33 1 185 1 9 1-16 1 142 1-64 1-82 1 112 1-77 1-171 1 38 1 17 1 78 1-13 1 51 1-31 1-36 1-17 1 7 1-19 1-102 1 25 1 129 1-113 1 188 1-33 1-61 1-145 1 81 1 11 1 79 1 82 1 8 1-25 1 7 1 79 1-707 1 602 1-117 1 23 1 49 1-191 1 266 1-108 1 40 1-249 1 134 1-74 1 69 1-74 1-19 1-62 1-344 1-79 1-48 1-43 1 79 1 139 1-69 1-75 1 29 1-28 1 21 1-27 1 137 1 92 1-142 1-80 1 53 1 10 1 61 1-83 1-1 1 12 1-7 1 36 1 17 1 2 1-148 1 112 1 11 1-137 1 91 1-23 1 31 1 440 1 151 1 34 1 40 1-34 1-9 1 1 1 60 1-90 1 47 1-170 1 124 1-49 1 145 1-57 1-141 1 74 1-57 1 124 1-62 1-35 1-1 1-101 1 79 1-8 1 25 1 98 1-177 1 45 1 155 1-104 1-50 1 35 1 99 1-72 1 74 1-173 1 159 1-102 1 52 1 52 1-138 1-320 1-72 1-65 1 118 1-24 1 91 1-118 1-124 1 531 1-168 1 184 1-14 1-223 1 129 1-33 1-95 1 54 1 20 1 91 1-71 1-279 1 103 1-78 1-118 1 19 1 7 1 4 1-38 1 110 1-106 1 81 1-51 1-67 1 27 1 85 1-40 1-46 1 10 1-50 1 66 1 67 1 27 1 60 1-59 1-209 1 111 1-85 1 39 1-8 1 79 1-13 1-51 1 47 1-102 1 9 1 109 1 114 1-126 1 87 1-74 1 72 1-137 1 415 1 104 1-516 1 39 1-51 1 28 1 53 1-29 1-31 1 46 1-47 1 11 1-22 1 58 1-51 1-25 1-9 1-17 1 99 1 67 1-54 1-87 1 225 1 77 1 26 1 45 1 3 1 56 1-106 1 213 1-203 1 1 1 12 1-52 1-138 1 245 1 284 1-122 1-299 1 72 1-3 1 128 1-58 1-47 1-68 1-200 1-31 1 34 1 17 1-17 1-11 1-22 1 12 1-82 1 130 1 141 1 121 1-64 1-52 1 58 1-80 1-24 1 45 1-193 1 6 1 88 1-79 1-100 1 0 1 25 1 37 1-56 1 100 1 137 1-186 1 107 1-54 1 146 1 7 1-13 1-100 1-74 1 96 1-21 1-36 1 26 1-40 1-25 1-63 1 127 1 139 1-188 1 12 1 377 1 60 1-12 1-155 1 81 1-311 1 92 1 80 1 34 1 102 1-155 1-251 1 65 1 35 1 82 1-63 1-76 1 11 1 193 1-261 1 46 1 130 1-64 1-89 1-6 1 89 1-90 1 53 1 173 1 53 1 28 1 9 1-48 1 26 1-64 1-95 1-109 1 54 1 41 1 274 1-169 1-112 1-35 1 98 1-171 1-95 1 109 1 177 1-151 1 6 1 132 1-93 1 33 1-69 1 119 1 34 1-128 1 102 1-156 1 187 1 6 1-108 1 26 1-43 1 69 1 99 1-105 1-100 1 66 1 44 1 63 1-223 1 95 1 94 1 63 1-198 1 39 1 138 1-44 1-194 1 51 1-44 1 108 1-107 1-48 1 62 1 10 1 2 1-56 1 89 1-33 1-26 1 340 1-123 1-195 1 63 1-100 1 111 1 48 1-29 1 7 1 13 1 68 1 118 1-350 1 96 1-20 1 116 1-69 1 2 1-60 1 82 1 2 1-42 1 97 1 47 1-86 1-69 1-56 1 172 1-151 1 38 1-67 1-23 1-9 1 152 1-83 1-113 1 10 1-23 1 59 1 10 1 138 1-120 1-52 1 75 1 134 1-109 1-58 1 123 1-168 1 59 1-9 1 68 1 8 1-40 1-26 1 19 1-19 1-22 1 32 1 18 1 15 1-79 1-145 1 56 1-71 1 193 1-72 1-113 1-70 1 123 1-105 1-69 1 76 1-48 1 57 1-6 1 189 1 12 1-12 1-182 1 39 1-100 1 3 1-7 1-57 1-91 1 228 1-6 1 172 1-183 1-27 1 81 1-77 1 55 1-243 1 312 1-15 1 129 1-67 1-90 1 90 1 13 1 29 1 8 1 28 1-120 1-34 1 169 1-2 1 74 1-140 1 17 1-51 1 242 1-226 1-18 1 96 1 73 1-189 1 19 1-83 1 187 1 39 1-44 1-73 1 49 1 6 1 32 1-78 1 126 1-109 1-317 1 24 1 110 1-55 1 143 1 268 1-430 1 92 1-164 1-69 1 540 1-19 1 70 1-103 1-55 1-35 1 155 1-21 1-518 1-5 1 11 1-43 1 201 1-52 1 59 1 300 1-129 1 34 1-20 1 127 1 3 1-66 1 117 1 106 1-201 1-120 1 107 1 47 1-140 1-5 1 24 1 109 1 9 1-105 1-7 1-16 1 75 1 163 1 7 1-38 1-149 1 107 1-92 1-31 1 119 1-53 1 51 1 2 1-81 1 30 1 37 1-33 1-87 1 142 1-82 1-40 1-401 1 135 1-24 1 135 1-261 1 16 1 55 1-20 1-116 1 438 1 32 1 13 1 26 1-1 1-52 1-58 1 187 1 68 1-80 1-337 1 5 1-2 1-143 1 25 1-49 1-118 1-11 1 136 1 19 1 48 1-23 1 2 1 12 1-122 1-8 1 273 1 331 1 40 1-107 1 8 1 91 1-43 1 3 1 26 1-55 1-97 1-35 1-9 1-11 1-48 1 48 1 47 1 174 1-117 1-454 1-17 1-2 1-101 1 126 1 445 1 99 1-511 1-160 1 152 1-148 1-90 1 318 1-37 1 29 1-122 1-41 1-60 1 18 1-3 1-88 1 235 1-140 1 129 1-149 1 71 1-77 1 18 1 35 1-26 1 30 1-9 1-59 1 63 1 24 1 77 1-75 1-112 1 17 1 57 1 1 1 87 1 101 1-72 1-20 1 10 1-80 1 8 1 70 1 5 1-206 1 66 1 13 1 45 1 130 1 33 1-195 1 151 1-136 1 87 1-28 1 14 1-136 1 129 1 13 1-196 1 198 1-75 1 39 1-110 1 31 1 3 1-253 1 320 1 12 1-62 1 160 1 15 1-13 1-222 1 216 1-79 1 83 1-201 1 9 1-64 1 5 1-31 1-14 1 160 1-49 1-27 1-212 1 189 1-78 1 168 1-70 1 52 1 553 1-49 1-43 1 133 1-17 1-86 1 63 1 73 1-40 1 33 1-69 1-123 1 3 1 67 1 56 1 62 1 89 1-103 1-26 1 42 1-29 1-44 1 14 1 103 1-80 1-131 1 176 1-59 1 75 1-100 1-129 1 57 1-41 1 98 1 29 1-875 1 175 1-205 1-83 1 103 1 81 1-34 1-94 1 126 1 676 1 2 1 64 1-83 1 97 1 1 1 18 1 24 1 38 1-13 1-9 1-134 1 67 1-22 1 9 1-121 1 60 1 67 1 131 1-127 1-74 1 98 1 144 1-23 1-79 1-942 1-96 1 59 1-34 1 194 1-202 1 57 1 6 1-48 1 14 1 195 1-273 1 60 1 82 1-148 1-68 1 995 1 226 1-22 1-85 1-19 1 11 1 48 1 35 1-19 1 28 1 56 1-42 1 2 1-16 1 42 1-25 1-61 1-41 1-12 1 42 1-48 1 36 1-36 1 44 1 5 1 30 1 63 1-52 1-135 1 120 1 0 1 9 1-19 1-46 1-59 1 165 1-58 1-98 1 32 1-83 1-9 1 173 1-20 1 102 1-170 1 62 1 74 1 18 1 74 1-79 1-22 1-7 1 16 1-22 1-28 1-20 1 51 1-60 1-45 1 107 1-50 1-19 1 37 1-43 1-42 1 111 1 48 1-125 1 11 1 51 1 62 1-1053 1-6 1-106 1 25 1 82 1-171 1 1185 1-1076 1-81 1 83 1 12 1-91 1 10 1-54 1 1118 1-51 1-38 1 140 1-118 1-1137 1 25 1 285 1-236 1 1112 1-13 1 96 1-73 1 111 1-1116 1 101 1-60 1-19 1-155 1 22 1 45 1 2 1 80 1-32 1 69 1-67 1-32 1 96 1-22 1 4 1 11 1 989 1-1039 1 31 1-18 1 116 1-195 1 1112 1 19 1 62 1-78 1 27 1-55 1-70 1 11 1 157 1-134 1 77 1-98 1 115 1 25 1-26 1-53 1 20 1 26 1-37 1-126 1 146 1-1078 1-17 1-36 1-278 1 209 1 40 1 90 1 5 1-90 1 86 1 1047 1 18 1-19 1 42 1-1049 1-8 1 95 1-10 1-59 1-101 1 1077 1 21 1 6 1-56 1-35 1 93 1 1 1 5 1-121 1-35 1 120 1 84 1 28 1-27 1 9 1-144 1 114 1 8 1-182 1 182 1 51 1-92 1-83 1 145 1-40 1-100 1 3 1 84 1-42 1 127 1-120 1 67 1 43 1-52 1-1057 1-109 1 145 1-65 1-87 1 33 1 113 1-88 1-149 1 3 1 200 1-62 1-92 1 1169 1 29 1-1057 1-87 1 28 1 14 1 0 1 8 1-13 1-2 1 995 1-2 1 142 1-41 1-46 1 83 1 126 1 36 1-147 1-24 1-85 1 91 1 39 1-90 1-91 1 11 1 74 1-93 1 135 1-27 1-45 1 27 1-49 1 92 1-38 1 44 1 77 1-98 1-5 1-166 1 153 1 28 1 10 1-66 1-1164 1-183 1 171 1-18 1 69 1 20 1 11 1-116 1 130 1 10 1-85 1-99 1 39 1-81 1 123 1-21 1 188 1-8 1-149 1-32 1 1 1-47 1 1302 1-55 1-145 1 85 1-114 1 127 1 87 1-45 1-97 1-1144 1 1305 1-35 1-119 1 2 1 76 1-1170 1 1220 1-1263 1-247 1 190 1 201 1 18 1-233 1 27 1-2 1 211 1-53 1-192 1 1248 1 149 1-7 1-47 1-118 1-40 1 267 1-110 1-86 1 26 1 192 1 7 1-54 1-95 1 65 1 57 1-82 1-50 1 24 1 29 1-58 1-124 1 223 1-2 1-98 1-1153 1 67 1 41 1 1082 1-32 1 4 1-1144 1-234 1 299 1-95 1-5 1-66 1-22 1 77 1-18 1 18 1-62 1 137 1-102 1 23 1-75 1 115 1 30 1 12 1-124 1 32 1 42 1 101 1-103 1 1224 1-25 1-71 1-1309 1-13 1 189 1-211 1 101 1-62 1 1330 1 0 1 94 1-26 1-86 1-1130 1-75 1 75 1-83 1-155 1 190 1-33 1 226 1-124 1-181 1 32 1 1388 1-71 1-51 1 9 1 21 1-34 1-48 1-38 1 149 1 162 1-1311 1-2 1-7 1-52 1-170 1 1330 1 32 1-19 1-20 1 26 1 2 1-1271 1-26 1 28 1 43 1 15 1 10 1 63 1-26 1 49 1 23 1-179 1 17 1 6 1 15 1-78 1 236 1 993 1 21 1 84 1-123 1 51 1 46 1-43 1 75 1-133 1-3 1 193 1-48 1-9 1-143 1 42 1 88 1-84 1-6 1 117 1-100 1 47 1-10 1-65 1 68 1 37 1-140 1 159 1-81" fill="none" stroke="#000" stroke-width="0.8" stroke-linejoin="bevel" vector-effect="non-scaling-stroke"/>
<line x1="35" y1="284.5" x2="443.5" y2="284.5" stroke="#1a1a1a" stroke-width="2.0"/>
<line x1="239.6" y1="105" x2="239.6" y2="462.2" stroke="#1a1a1a" stroke-width="3.2"/>
<line x1="234.8" y1="106.3" x2="240.1" y2="106.3" stroke="#1a1a1a" stroke-width="3.0"/>
<line x1="234.8" y1="165.6" x2="240.1" y2="165.6" stroke="#1a1a1a" stroke-width="3.0"/>
<line x1="234.8" y1="225.5" x2="240.1" y2="225.5" stroke="#1a1a1a" stroke-width="3.0"/>
<line x1="234.8" y1="343.5" x2="240.1" y2="343.5" stroke="#1a1a1a" stroke-width="3.0"/>
<line x1="234.8" y1="402.8" x2="240.1" y2="402.8" stroke="#1a1a1a" stroke-width="3.0"/>
<line x1="234.8" y1="461" x2="240.1" y2="461" stroke="#1a1a1a" stroke-width="3.0"/>
<text transform="translate(201.1 113.5) scale(1 1.035)" font-size="26.5">30</text>
<text transform="translate(198.1 172.2) scale(1 1.035)" font-size="26.5">20</text>
<text transform="translate(199.7 234.3) scale(1 1.035)" font-size="26.5">10</text>
<text transform="translate(190.6 352.2) scale(1 1.035)" font-size="26.5">-10</text>
<text transform="translate(190.6 411.7) scale(1 1.035)" font-size="26.5">-20</text>
<text transform="translate(190.6 469.9) scale(1 1.035)" font-size="26.5">-30</text>
<text transform="translate(20.7 257.7) scale(1 1.035)" font-size="26.5">-100</text>
<text transform="translate(125.2 257.7) scale(1 1.035)" font-size="26.5">-50</text>
<text transform="translate(246.9 325.2) scale(1 1.035)" font-size="26.5">0</text>
<text transform="translate(330.2 325.2) scale(1 1.035)" font-size="26.5">50</text>
<text transform="translate(426.4 325.2) scale(1 1.035)" font-size="26.5">100</text>
<text transform="translate(341.3 356)" font-size="34.5">V (mV)</text>
<text transform="translate(186.2 199.7) rotate(-90)" font-size="34.5">I (pA)</text>
<text transform="translate(459.8 41)" font-size="55.5">(b)</text>
<text transform="translate(515.5 75) scale(1 1.035)" font-size="34">TON</text>
<path transform="translate(494.3 285.5) scale(0.24250 .1)" d="M0 12l1-81 1-31 1 37 1 151 1-161 1 124 1 59 1-92 1-50 1 64 1 70 1 85 1-60 1 30 1-130 1-67 1-77 1 15 1 58 1 56 1-86 1 119 1-26 1-45 1-21 1 182 1-71 1-94 1-32 1 180 1-110 1 86 1 42 1-241 1 176 1-53 1-76 1 14 1 78 1 11 1-4 1-66 1 112 1 49 1 36 1-45 1 46 1 28 1-87 1-14 1-24 1-10 1 19 1-169 1 43 1 68 1-155 1-2 1 204 1-117 1 5 1 58 1-40 1-37 1 12 1 9 1-7 1 50 1 111 1-51 1 71 1-39 1-5 1-18 1-65 1 29 1 1 1-96 1 97 1 18 1-9 1-65 1-160 1 229 1-35 1-153 1 146 1-48 1 80 1-30 1 75 1-39 1-8 1-12 1 70 1-150 1 122 1 3 1-83 1 12 1-27 1 26 1 67 1-90 1 70 1 33 1-11 1 60 1-94 1 24 1 127 1-127 1-50 1-6 1 38 1-71 1 4 1-101 1 17 1 7 1-8 1 46 1 91 1-46 1-77 1 82 1 20 1-100 1 74 1-60 1 57 1-49 1 105 1-80 1 10 1 37 1 69 1 30 1-139 1 107 1-27 1 53 1 6 1-105 1 7 1-20 1 39 1 99 1-79 1-72 1 195 1-179 1 13 1 3 1-83 1 114 1 53 1-62 1-9 1-17 1-114 1 102 1-70 1-2 1 91 1 64 1-103 1 106 1 74 1-86 1-42 1 6 1-28 1-69 1 104 1 32 1-73 1-16 1-19 1-11 1-22 1-43 1 150 1-39 1 16 1 122 1-118 1 37 1-119 1 13 1 93 1-37 1-90 1-35 1 116 1-51 1 93 1 1 1-40 1 5 1 56 1-31 1-76 1 64 1-27 1 0 1 54 1 0 1 46 1-67 1-38 1-4 1 47 1-65 1 10 1-28 1-4 1 38 1 185 1-130 1 3 1-9 1-20 1 8 1 130 1-107 1 91 1-35 1-111 1-19 1 8 1-39 1 136 1-8 1 6 1-101 1 69 1-45 1 183 1-112 1-8 1 6 1-57 1-11 1-4 1 81 1-80 1 14 1 36 1-38 1-130 1 44 1 48 1-22 1 120 1-26 1-11 1-68 1 81 1-35 1-49 1 5 1 200 1-137 1-58 1 114 1 8 1-66 1 89 1-160 1 16 1-71 1 175 1-34 1 156 1-93 1-27 1-114 1-38 1 34 1 101 1-98 1-118 1 176 1 57 1-104 1 57 1 62 1 21 1-174 1 55 1-39 1 102 1-27 1-95 1 58 1 49 1-127 1-26 1 36 1 34 1-7 1-86 1-9 1 97 1 58 1-68 1 48 1 128 1-100 1-45 1-31 1 68 1 5 1 3 1-40 1 40 1 12 1-33 1 76 1-156 1 103 1-24 1 57 1 87 1-96 1-44 1-2 1 93 1 39 1-79 1 8 1 79 1-59 1-153 1 0 1 22 1 66 1-44 1 116 1-88 1 109 1-114 1 99 1-47 1 68 1 57 1 4 1-46 1-132 1-43 1-171 1 260 1 64 1 4 1-143 1 218 1-163 1 54 1-150 1 23 1 130 1 26 1-133 1 27 1 89 1-172 1 123 1-118 1 111 1-27 1 75 1-78 1-13 1-5 1-42 1 32 1-41 1 18 1 89 1-41 1 81 1 0 1 8 1-130 1 65 1 89 1-10 1 19 1 25 1-196 1 81 1 23 1-43 1-89 1 72 1 1 1 142 1-1 1-115 1-79 1-9 1 51 1-30 1 173 1-161 1 25 1 24 1 26 1-83 1 23 1 34 1 20 1-55 1 2 1 37 1 125 1-172 1 76 1 82 1-174 1 139 1 39 1-78 1 37 1 47 1-96 1-2 1-88 1-1 1 52 1 5 1 116 1-88 1-93 1 114 1 36 1-24 1-42 1-56 1-8 1 144 1-6 1-47 1 8 1-49 1-53 1 14 1 33 1-97 1 16 1-55 1 78 1 95 1-103 1-18 1-37 1 65 1-30 1 3 1-6 1 224 1-91 1-65 1-6 1 86 1 33 1-37 1-162 1 150 1 50 1-5 1-21 1-34 1 66 1-82 1 66 1-82 1-19 1-9 1-11 1 1 1 84 1 80 1-129 1-61 1 207 1-137 1 22 1-2 1 50 1-105 1 105 1 8 1-199 1 77 1 8 1 54 1-14 1-50 1 12 1 50 1-5 1-15 1 155 1-67 1-130 1 44 1 27 1-80 1 51 1-49 1-107 1 140 1 61 1 18 1-46 1-43 1 42 1 26 1 41 1 41 1-23 1-100 1 5 1-88 1 116 1 25 1 49 1-32 1 62 1-133 1 29 1-30 1-8 1-106 1 36 1-73 1 89 1 2 1 56 1-115 1 53 1 33 1-127 1 225 1-10 1-86 1 151 1 9 1-253 1 70 1-1 1 45 1-53 1 30 1 32 1-163 1 127 1 115 1-38 1 54 1 46 1-72 1-14 1-3 1-56 1 165 1-73 1-14 1 23 1 42 1-177 1-31 1 70 1 46 1-102 1-42 1 131 1 36 1-57 1-17 1-29 1-45 1 6 1 71 1-3 1 77 1-132 1-65 1 133 1-63 1 23 1 30 1-78 1-42 1 108 1-169 1 174 1-110 1 140 1 9 1-2 1 16 1-18 1-107 1 115 1-12 1 19 1-112 1 60 1 74 1 23 1-40 1-108 1-14 1-9 1 140 1 2 1-29 1-22 1-46 1 91 1-97 1-16 1 110 1 19 1-41 1-93 1-27 1 134 1 8 1 78 1-109 1-6 1-60 1 156 1-177 1 101 1 98 1-144 1-76 1 6 1-26 1 111 1 4 1-55 1 26 1 128 1-80 1-35 1 147 1-147 1-16 1 126 1-60 1-149 1 25 1-86 1 82 1 89 1-106 1 182 1 36 1-20 1-110 1 18 1 41 1 39 1 33 1-222 1 31 1-21 1 49 1 51 1 157 1-115 1 33 1-44 1-23 1 114 1-160 1 74 1 116 1 127 1-229 1-97 1-51 1 42 1 40 1 13 1 80 1-74 1 20 1-127 1 29 1 43 1-137 1 127 1 90 1-27 1 1 1-15 1-85 1 58 1-23 1 37 1 9 1 6 1-96 1 56 1 140 1-14 1-84 1-59 1 99 1-38 1-132 1 50 1 159 1-181 1 64 1-37 1 36 1-14 1-36 1-126 1 122 1 53 1 5 1-63 1 12 1 197 1-169 1 4 1-62 1 52 1 47 1 80 1-43 1-27 1 16 1 18 1-35 1-9 1 82 1-107 1 10 1-53 1 11 1 140 1-107 1 50 1 125 1-71 1-68 1-62 1-139 1 66 1 22 1 134 1 23 1-129 1 91 1-58 1 150 1 21 1-48 1-86 1 121 1-23 1 12 1-37 1-65 1 53 1-94 1 82 1-17 1-130 1 106 1-5 1-24 1 13 1 62 1-111 1-30 1 114 1-3 1-131 1 86 1-98 1 133 1 12 1 17 1-132 1 11 1 115 1-120 1 94 1-22 1 18 1-61 1 79 1 10 1 35 1 262 1-287 1-24 1-83 1 166 1-93 1 49 1-114 1 26 1 66 1 11 1-47 1 66 1-33 1 55 1-71 1 39 1-63 1 99 1-56 1-12 1-47 1 94 1-29 1-35 1 94 1-113 1 85 1 60 1-201 1 117 1 12 1-21 1 4 1-105 1 85 1 7 1-115 1 54 1-53 1 72 1-45 1 54 1-88 1 34 1 18 1 19 1 97 1 100 1-220 1 93 1-47 1-15 1-5 1 9 1 7 1 64 1 50 1-47 1-35 1 25 1-3 1 94 1-159 1-77 1 52 1 54 1-20 1 23 1-182 1 67 1 26 1-38 1 38 1 35 1 52 1-72 1-72 1 117 1 136 1-77 1-25 1-82 1 56 1 108 1-203 1 137 1-156 1 183 1 11 1-72 1 19 1 98 1-153 1 105 1-7 1-41 1 84 1-180 1 47 1-57 1 59 1 57 1-126 1 88 1 26 1-50 1 19 1 83 1-27 1 80 1-155 1-60 1 144 1-125 1 132 1-43 1 33 1-58 1 74 1 42 1 4 1-47 1-134 1 117 1-29 1 73 1-166 1 80 1-35 1 17 1 65 1 16 1 45 1-51 1-9 1-18 1-103 1 117 1-91 1-7 1 61 1-55 1-2 1-136 1 186 1-116 1 33 1 87 1-27 1 0 1 17 1 65 1 25 1-37 1-54 1 59 1-60 1-10 1 29 1-43 1-53 1-25 1 54 1 51 1 43 1-80 1 42 1 1 1-31 1 187 1-158 1-54 1 49 1 108 1-93 1 84 1-128 1 2 1 15 1 0 1 21 1-3 1-7 1-53 1 82 1-4 1 13 1 66 1-24 1-23 1 70 1-100 1-102 1 34 1-32 1 55 1-84 1 118 1 28 1 31 1-4 1-19 1-34 1-23 1 24 1-9 1-56 1 27 1 79 1-18 1-62 1 50 1 40 1-97 1 147 1 11 1-80 1 58 1-37 1 13 1-93 1-3 1 16 1 13 1-21 1-76 1 7 1 100 1-23 1 125 1 17 1-96 1-1 1-130 1 122 1 62 1-100 1-31 1 4 1 83 1 45 1-115 1 4 1 59 1-2 1-33 1 42 1-78 1-60 1 115 1 43 1 49 1-87 1-60 1 40 1 3 1 10 1-7 1 87 1-38 1 54 1-114 1-53 1 106 1-103 1-27 1-7 1-47 1 132 1 116 1-36 1 7 1-73 1-61 1 77 1-84 1-49 1 27 1 130 1-5 1-41 1-65 1-12 1 78 1-3 1-46 1 108 1-82 1-86 1 60 1 102 1 7 1 16 1-106 1 47 1-5 1-27 1-65 1 132 1-33 1-52 1 67 1 134 1-217 1 47 1 114 1 35 1-173 1-19 1-103 1 97 1-69 1 11 1 161 1-119 1-72 1 95 1 42 1 15 1 66 1-99 1 8 1 53 1-51 1 102 1 5 1-59 1-31 1 6 1 20 1-141 1 1 1 33 1 6 1 15 1 6 1 46 1-12 1 39 1 10 1-21 1-30 1-29 1 88 1-53 1 27 1 46 1-25 1-124 1 16 1 180 1-179 1 132 1-112 1 42 1 76 1-112 1 96 1-180 1 79 1-7 1 65 1 43 1 40 1 9 1-98 1-61 1 68 1-42 1-115 1-39 1 101 1 31 1 41 1 20 1-111 1 90 1-67 1 83 1-5 1 103 1-48 1-72 1-3 1 18 1 41 1 25 1-98 1-39 1 104 1-16 1 65 1-18 1 74 1-46 1-134 1 11 1 68 1-85 1 44 1 57 1 46 1-2 1-154 1 128 1-96 1 35 1-48 1 100 1-34 1 10 1 15 1-28 1-45 1 22 1 80 1 7 1-162 1-64 1 217 1 3 1-160 1 93 1 5 1-67 1 15 1 150 1-120 1 41 1-71 1-68 1 234 1-43 1-87 1-20 1 0 1-51 1 81 1 36 1-57 1 6 1-79 1 76 1-121 1 84 1 125 1-74 1 171 1-194 1-4 1 14 1 64 1 38 1-55 1-125 1 151 1-4 1 8 1-152 1 87 1-16 1 68 1 70 1-145 1 4 1 10 1-48 1 69 1 19 1-84 1-24 1 65 1-111 1 100 1 65 1 19 1-109 1 142 1 61 1-185 1 126 1 12 1-22 1-112 1 80 1-111 1 40 1 62 1 0 1-50 1 26 1-23 1 19 1-60 1-44 1 26 1-36 1 139 1 135 1-81 1 7 1-139 1 16 1-57 1 94 1-5 1-73 1 131 1-52 1 36 1 18 1 39 1 2 1-78 1-41 1-39 1-38 1 164 1-98 1 94 1-116 1-26 1 97 1-43 1-54 1 135 1-142 1-14 1 89 1 78 1-72 1-74 1 171 1-89 1-67 1 27 1 75 1-229 1 43 1 124 1 26 1-22 1-20 1 41 1-19 1-27 1-18 1 70 1-48 1-76 1 49 1-43 1 96 1 45 1-80 1 8 1 34 1 67 1 6 1-43 1-6 1 62 1-24 1-14 1-103 1 49 1 31 1-13 1-73 1-70 1 130 1 41 1-19 1-70 1 6 1 27 1 59 1-23 1-64 1 0 1-41 1 174 1-105 1 103 1-41 1 84 1-155 1 67 1-84 1-23 1 1 1-36 1 14 1 43 1 132 1-91 1-96 1 105 1 79 1-224 1 122 1-81 1-53 1 141 1 93 1 52 1-98 1-54 1 19 1 32 1 29 1 39 1-48 1-2 1-23 1-68 1 55 1 82 1-20 1-189 1 177 1-98 1 169 1 42 1-79 1 50 1-154 1-8 1-34 1 57 1-3 1 10 1-4 1 85 1-68 1-49 1 19 1 29 1 6 1-92 1 6 1 13 1-37 1-55 1 46 1-116 1 113 1-30 1 52 1 28 1 139 1 47 1 30 1-127 1-76 1 63 1-102 1 29 1-34 1 35 1 63 1-100 1 56 1 12 1 5 1 19 1-51 1 4 1-16 1-82 1 171 1 0 1-1 1-86 1-96 1 101 1-45 1 160 1 2 1-88 1 80 1-15 1-55 1-112 1 106 1 51 1 18 1-87 1 12 1 6 1 1 1-226 1 282 1-2 1-63 1 35 1 46 1-27 1-9 1 27 1-91 1 67 1-67 1 36 1 77 1-85 1 78 1-8 1 44 1-171 1-207 1 129 1 234 1-44 1-48 1 5 1 29 1-31 1 151 1-96 1-122 1-35 1 65 1 26 1 62 1 26 1 13 1-128 1 55 1-53 1 38 1-68 1 133 1 44 1-180 1 26 1 94 1-13 1-113 1 95 1 43 1-12 1-150 1 114 1 51 1-85 1 83 1-12 1 26 1-167 1 43 1 63 1-110 1 71 1 125 1-174 1 139 1 8 1-113 1-89 1 47 1 73 1-150 1 149 1-98 1 45 1 9 1 80 1-91 1-16 1 125 1 68 1-91 1-48 1 25 1-4 1-6 1-68 1-101 1 129 1 20 1 83 1 23 1 41 1-128 1 41 1-116 1 63 1 49 1-85 1 19 1 139 1-130 1 75 1-138 1 130 1-209 1 19 1 76 1 147 1-76 1-93 1 24 1 87 1-127 1 67 1 3 1-13 1 49 1-60 1 69 1 24 1 79 1-67 1-46 1-82 1 12 1-46 1 161 1-193 1 121 1 39 1 25 1-65 1 154 1-120 1-119 1 25 1 2 1 134 1-48 1-72 1-21 1 44 1-8 1 22 1 79 1-132 1 7 1 63 1-94 1 111 1 83 1-56 1 30 1-66 1 4 1 19 1-14 1 78 1-86 1 64 1-68 1 111 1 21 1-61 1-133 1-26 1-102 1 192 1-29 1-28 1 42 1-85 1 38 1 54 1 68 1 104 1-169 1 64 1-83 1-53 1 76 1-5 1-98 1 68 1 153 1-133 1-41 1 121 1-28 1-74 1 60 1-49 1-31 1 68 1-65 1 91 1 81 1-124 1-40 1-14 1 41" fill="none" stroke="#000" stroke-width="0.8" stroke-linejoin="bevel" vector-effect="non-scaling-stroke"/>
<path transform="translate(494.3 285.5) scale(0.24250 .1)" d="M0 21l1-73 1-74 1 44 1 192 1-137 1 128 1-58 1-12 1-11 1-19 1 124 1-165 1-20 1 148 1-32 1-7 1 34 1-126 1 72 1-114 1 37 1 5 1 47 1 73 1 5 1-69 1-21 1 99 1-168 1 55 1 118 1-109 1-7 1 39 1 146 1 31 1-77 1 11 1-151 1-13 1-57 1 30 1 88 1 14 1-10 1 46 1-60 1 0 1 90 1 4 1-13 1-102 1-48 1 184 1-63 1-39 1 107 1-103 1 38 1-91 1 1 1 171 1-73 1-93 1 97 1-62 1-51 1 114 1 16 1-45 1 18 1-46 1 111 1-8 1-125 1 82 1-135 1-24 1 42 1-81 1 100 1 76 1-11 1 25 1 20 1-70 1 212 1-93 1-45 1-76 1-3 1-25 1 6 1-159 1 138 1-74 1 31 1 38 1 35 1 17 1 15 1 31 1-28 1 33 1 9 1-139 1 83 1 110 1-65 1 15 1-118 1-36 1 88 1 31 1-80 1 56 1 39 1-12 1-13 1-51 1 69 1 15 1-55 1 56 1-50 1 72 1-47 1-41 1 15 1 61 1 100 1-159 1 24 1-68 1-20 1 21 1-12 1 168 1-43 1-80 1-21 1 45 1 6 1-39 1-4 1 150 1-151 1 64 1-230 1 149 1 76 1 23 1-82 1-12 1 168 1-159 1-31 1 78 1 89 1-191 1 52 1 48 1 134 1-80 1-84 1-54 1 106 1 5 1-3 1-4 1-96 1 81 1-46 1 29 1 4 1-52 1-60 1 26 1 45 1 93 1-37 1-107 1 59 1-21 1 65 1-2 1-57 1 56 1-52 1 5 1-55 1-20 1 216 1-77 1-33 1-129 1 108 1-38 1-87 1 105 1 91 1 19 1-31 1-26 1 25 1-88 1 141 1-139 1 8 1 10 1-63 1 75 1 13 1-53 1-18 1 130 1-180 1 78 1 90 1 29 1-42 1-116 1 34 1-45 1-24 1 103 1-86 1 120 1-135 1 69 1 39 1-22 1 115 1-127 1 23 1 56 1 22 1-70 1 51 1-2 1 48 1-174 1 105 1-47 1 8 1 1 1 7 1 51 1 32 1-12 1-22 1 43 1-164 1 97 1 57 1 29 1 21 1-2 1-34 1-29 1 13 1-72 1 54 1-43 1-147 1 108 1-42 1 111 1 22 1 14 1-118 1 88 1-3 1-86 1-10 1 50 1-30 1 64 1-19 1 116 1-20 1-13 1-57 1 40 1-30 1-130 1 73 1 40 1-59 1 54 1-6 1-124 1 74 1 139 1-104 1-53 1-18 1 129 1-79 1-7 1 23 1 64 1-79 1-18 1-40 1 152 1-114 1 58 1-82 1-36 1 77 1 89 1-52 1-51 1 69 1-24 1-36 1 21 1 41 1 111 1-129 1 25 1 48 1-18 1-72 1 101 1-51 1 45 1-18 1-112 1 109 1 60 1-181 1-8 1 42 1 47 1 32 1-114 1 130 1-54 1-102 1 34 1 160 1-117 1-9 1-43 1-4 1 3 1 132 1-3 1 52 1-103 1 43 1-108 1-9 1 37 1 63 1-135 1 70 1-104 1 14 1 68 1-40 1 73 1 74 1-51 1 156 1-79 1-90 1-87 1 109 1 8 1-21 1-46 1 60 1-60 1 113 1 37 1-35 1-8 1-11 1-33 1-39 1 25 1-243 1 203 1 77 1-142 1 147 1-12 1 4 1-151 1-33 1 85 1 85 1 47 1-41 1 4 1 1 1-40 1 18 1-40 1 21 1 121 1-123 1-88 1 7 1 52 1 13 1-85 1 15 1 98 1-15 1-80 1 138 1 82 1-101 1-67 1 124 1 30 1-31 1 32 1-43 1-45 1 10 1-57 1 48 1 30 1-81 1 24 1-41 1 55 1 48 1 45 1-98 1 10 1 76 1-98 1 48 1-16 1-175 1-27 1 181 1-56 1 97 1 33 1-39 1-9 1-78 1 66 1-36 1 45 1-23 1-70 1 50 1 182 1-230 1-86 1 138 1-18 1-34 1-13 1 69 1-27 1 75 1 39 1-27 1 83 1-68 1-153 1 101 1 33 1-79 1 101 1-125 1 63 1-32 1-111 1-22 1 66 1 18 1 11 1 79 1 41 1-75 1 35 1 34 1-49 1 94 1-155 1-37 1 81 1-63 1 66 1 70 1-58 1-11 1-6 1-17 1-123 1-67 1 115 1-23 1 109 1-54 1 45 1 43 1-123 1 110 1-33 1 53 1-152 1 176 1-43 1 78 1-160 1 80 1-29 1 29 1-35 1 139 1-3 1-168 1 107 1-26 1 15 1-109 1 201 1-50 1-38 1-143 1 41 1 94 1 48 1-10 1-157 1 108 1 105 1-86 1-121 1-20 1-37 1 105 1 23 1-34 1 64 1 20 1-68 1-12 1 58 1-37 1 168 1-182 1-19 1 58 1-119 1 10 1 69 1 21 1-64 1 6 1 77 1 50 1-68 1-45 1 71 1-80 1 87 1 56 1-101 1 73 1 13 1-84 1 58 1-85 1 125 1-127 1 76 1-55 1-160 1 97 1-42 1 101 1-25 1 1 1 16 1 58 1-24 1-31 1 31 1 164 1-87 1-30 1-88 1 44 1 60 1-127 1-37 1 107 1-150 1 37 1 98 1-14 1-69 1 178 1-16 1-104 1 2 1-72 1-2 1 40 1 126 1-96 1-22 1 84 1-72 1 97 1 30 1-77 1 6 1-132 1 125 1-153 1 146 1-24 1-25 1 213 1-73 1 58 1-149 1-83 1 101 1-40 1 79 1-47 1-128 1 190 1-82 1-47 1 117 1-37 1 9 1-114 1 48 1-175 1 175 1-10 1-101 1 53 1 32 1 14 1 45 1-7 1 14 1-100 1 11 1 65 1 75 1 57 1-145 1 28 1-30 1 228 1-221 1-86 1 86 1-46 1 59 1 34 1-27 1 75 1 19 1-54 1-70 1 130 1-104 1-19 1 41 1-21 1-85 1 132 1-64 1 46 1 4 1 38 1-8 1-78 1 96 1 8 1-55 1-96 1 119 1 46 1-49 1 59 1 90 1-160 1-68 1 74 1-31 1-59 1-56 1 106 1 124 1-137 1 129 1-137 1 69 1-47 1-17 1-59 1 60 1 239 1-190 1-28 1-35 1 43 1-18 1 117 1-17 1-87 1-119 1 90 1 45 1-64 1 27 1-26 1-1 1 60 1 12 1-53 1 31 1 45 1-67 1-77 1 19 1 46 1 69 1-145 1 38 1 123 1-43 1 5 1-90 1-1 1-16 1 202 1 43 1-78 1-118 1 30 1-141 1 139 1 83 1 31 1-32 1-7 1-139 1 145 1 9 1-12 1-147 1 97 1-29 1 11 1 24 1-26 1 41 1-113 1 19 1 62 1 15 1-90 1 182 1-75 1-128 1 44 1 109 1-116 1 58 1-113 1 166 1-22 1-103 1 103 1 65 1-99 1 28 1-62 1 42 1 50 1-32 1-22 1 91 1-136 1 96 1-51 1 37 1-9 1 67 1-58 1 1 1-75 1-136 1 125 1 90 1-94 1 68 1-70 1 111 1-5 1-160 1 105 1-1 1-77 1-69 1 74 1 181 1 41 1-171 1-41 1 9 1-79 1 258 1-75 1 6 1 22 1-91 1-3 1-17 1 65 1 67 1-151 1 135 1 36 1 22 1-139 1-113 1 8 1 47 1 187 1-77 1-81 1 45 1-99 1 4 1 70 1 162 1-49 1-149 1 179 1-36 1-125 1 146 1-86 1-58 1-12 1 98 1-62 1 37 1-56 1-91 1-57 1 88 1 70 1 28 1-72 1 23 1 54 1-8 1 17 1-112 1 10 1-9 1 145 1-56 1-68 1-20 1 65 1 107 1 8 1-108 1-21 1 105 1-47 1 29 1 56 1-163 1 47 1 67 1-12 1-51 1-79 1-24 1 70 1-16 1-119 1 145 1-28 1-162 1 132 1 1 1 143 1 27 1-164 1 53 1-89 1-30 1 43 1 83 1 2 1 114 1-82 1-77 1 141 1-60 1 20 1-134 1 136 1-81 1-21 1-33 1 61 1-52 1 30 1 110 1-162 1-24 1 12 1-51 1 93 1 86 1-64 1 164 1-65 1 41 1-5 1-118 1-7 1 35 1-10 1 6 1-85 1 112 1-91 1 119 1-36 1-63 1 20 1-1 1-57 1 99 1 39 1-8 1-168 1 107 1 92 1-72 1-16 1-25 1 166 1-132 1 161 1-41 1 15 1-17 1-90 1-4 1-134 1 15 1-41 1 198 1-67 1 42 1-59 1 105 1-62 1-46 1 31 1-1 1-23 1 93 1-52 1 12 1-61 1-32 1 73 1-98 1 53 1-117 1 123 1-20 1 30 1-1 1-46 1 61 1 101 1-19 1-19 1 19 1 19 1 51 1-75 1-79 1-60 1 31 1 5 1 33 1 136 1-99 1 54 1-75 1-34 1-41 1 74 1-69 1 144 1-74 1 51 1-72 1 87 1-118 1 16 1 41 1-59 1-8 1 25 1 32 1-60 1 16 1 87 1 78 1-71 1-121 1-2 1 41 1 111 1-88 1-73 1 10 1 148 1-39 1-45 1-44 1 34 1 89 1-57 1-86 1 100 1 65 1-47 1-38 1-23 1 66 1-18 1-10 1 29 1-72 1-41 1 84 1 53 1 6 1-16 1 44 1-115 1-6 1 62 1 78 1 1 1-157 1 84 1-84 1 116 1-32 1 22 1-152 1 27 1 143 1-113 1-183 1 84 1-72 1 185 1-32 1-51 1 108 1 2 1-4 1-122 1 173 1 5 1-135 1 81 1-175 1 162 1 51 1-2 1-38 1-97 1-12 1 70 1 45 1-179 1 198 1 14 1 37 1-6 1-36 1-102 1-36 1-29 1 50 1-7 1 112 1 47 1 26 1-144 1 71 1-82 1-8 1-4 1 127 1-90 1 143 1 32 1-218 1-82 1 134 1-66 1 67 1 79 1-41 1-181 1 119 1 49 1-101 1 13 1 103 1 116 1-178 1-21 1 7 1-69 1 26 1-19 1 24 1 24 1-1 1-17 1 25 1 11 1 60 1-31 1 149 1-287 1 23 1 73 1 80 1-88 1 28 1-57 1 98 1 66 1 18 1-176 1-20 1 104 1-33 1-19 1 90 1-105 1-28 1 124 1-102 1 56 1-48 1 50 1 29 1-175 1 69 1 59 1-123 1 69 1 4 1 106 1-121 1 45 1 37 1 2 1-17 1-94 1 42 1 32 1-47 1 62 1 33 1-151 1 107 1 48 1-83 1-5 1 258 1-102 1-89 1-53 1 119 1-53 1 20 1 56 1-65 1-4 1-43 1 1 1-28 1 84 1-109 1 228 1-56 1-85 1 30 1-22 1 23 1-50 1-44 1 18 1 94 1-196 1 126 1 2 1 15 1-59 1 103 1-103 1 73 1-152 1 145 1 19 1-18 1-78 1 78 1 95 1 78 1-119 1-165 1 56 1-50 1-108 1 227 1 14 1 21 1-132 1-32 1 104 1 41 1-92 1 75 1-144 1 118 1 38 1 8 1 5 1-5 1-7 1 2 1-61 1-128 1 46 1 55 1-72 1 78 1 77 1-8 1 102 1-57 1-42 1-66 1-58 1 28 1 19 1 5 1-74 1 30 1 207 1-93 1 88 1-123 1 33 1-8 1 40 1 17 1-44 1-8 1-81 1 93 1-56 1 44 1-97 1 63 1-24 1-3 1 62 1 60 1-130 1 58 1-27 1 169 1 24 1-191 1-96 1 172 1-55 1-81 1 302 1-57 1-210 1 53 1-46 1 22 1 15 1-65 1-14 1 93 1 24 1-71 1 104 1-45 1-63 1 25 1-12 1-5 1 41 1-92 1 75 1-148 1 25 1 62 1 109 1 78 1 67 1-118 1-20 1 6 1 31 1 3 1-4 1 63 1-165 1-46 1-1 1 20 1 9 1 164 1-110 1 4 1-104 1 28 1-21 1 84 1 98 1 27 1 41 1-168 1 49 1 57 1 30 1-67 1 8 1 73 1-92 1-17 1-5 1-127 1 140 1-15 1-39 1 49 1 8 1 40 1-55 1-24 1-45 1-8 1 32 1-57 1 44 1 22 1 7 1-72 1 169 1-98 1-18 1 62 1-19 1 23 1 4 1-8 1 0 1-34 1 53 1-196 1 101 1 33 1 79 1 31 1-32 1-146 1 112 1-71 1-6 1-54 1 38 1 115 1-50 1 1 1-107 1-35 1 14 1 54 1-40 1 21 1 136 1-75 1 47 1 87 1-164 1-13 1-62 1 43 1 0 1 21 1 106 1-110 1-25 1-25 1 64 1-15 1-86 1 127 1-7 1 50 1-13 1-58 1-1 1 6 1-124 1 29 1-10 1 99 1-79 1 102 1-24 1 50 1 10 1 43 1 32 1-142 1 28 1-59 1 50 1 26 1-17 1 87 1-37 1-99 1-59 1 40 1 33 1 99 1-76 1 57 1-82 1-125 1 142 1 17 1-82 1 114 1 1 1-63 1 35 1 11 1 12 1-87 1-83 1 104 1 4 1 55 1-8 1-23 1-34 1 78 1-119 1 159 1-84 1-52 1 14 1 15 1 33 1 124 1-159 1 138 1 16 1-54 1-40 1 67 1-46 1-2 1-27 1 59 1-81 1-68 1 71 1-70 1 38 1-10 1 20 1 159 1-73 1 138 1-118 1 134 1-202 1-35 1-28 1 36 1-64 1 100 1-20 1-45 1 161 1-132 1-76 1 178 1-119 1-14 1 24 1 54 1-112 1 8 1 126 1-170 1 38 1-83 1 77 1-80 1 153 1-149 1 28 1 139 1-120 1 91 1-96 1 25 1 10 1 175 1-2 1-99 1-46 1 40 1 156 1-190 1-24 1-68 1 100 1-38 1 6 1 90 1 114 1-89 1-12 1-22 1-173 1 172 1-15 1 91 1-119 1 23 1 81 1-28 1 33 1-141 1 71 1 7 1 50 1-148 1 21 1 7 1 22 1-4 1-16 1 113 1-1 1-46 1-7 1 82 1-114 1-36 1 51 1-137 1 114 1 72 1 30 1-43 1 57 1-107 1 25 1 32 1-28 1-13 1 6 1 7 1-11 1 83 1 25 1 82 1-135 1-84 1 5 1 106 1-63 1-24 1-204 1 108 1 144 1 62 1-133 1 109 1-70 1 72 1-135 1 100 1 81 1-212 1 88 1 44 1-44 1 42 1-8 1 47 1-7 1 13 1-100 1-44 1 15 1 66 1 46 1 25 1 57 1-107 1 7 1 25 1 29 1 79 1-114 1-71 1-41 1 81 1-87 1 104 1 75 1-15 1-35 1-13 1-101 1 67 1 32 1 9 1 36 1-69 1-129 1 58 1 59 1-55 1 56 1 18 1-43 1-40 1 86 1-48 1 11 1 14 1 52 1 5 1-35 1-21 1-91 1-47 1 22 1 14 1 162 1-156 1 18 1 127 1-122 1 92 1 60 1-117 1 105 1-104 1 100" fill="none" stroke="#000" stroke-width="0.8" stroke-linejoin="bevel" vector-effect="non-scaling-stroke"/>
<path transform="translate(494.3 285.5) scale(0.24250 .1)" d="M0 22l1 25 1-60 1 51 1-79 1-28 1 155 1-88 1-3 1-9 1 130 1-224 1 578 1 3 1 146 1-99 1-201 1 101 1 59 1-56 1 121 1 21 1-206 1-56 1 79 1 72 1 66 1-239 1-123 1 75 1-337 1-12 1 125 1 44 1-20 1-19 1-81 1 78 1-96 1-7 1 114 1 114 1-199 1 23 1-21 1 24 1 46 1 886 1 93 1-231 1 29 1-45 1 4 1 28 1 43 1 112 1-122 1 32 1 104 1-35 1-128 1 60 1-72 1 108 1 70 1-117 1-85 1 72 1-3 1 105 1-48 1 77 1-95 1-28 1 92 1-145 1 185 1-94 1-923 1 87 1 75 1-155 1-58 1 126 1-69 1 42 1-55 1 52 1-11 1 75 1-82 1 70 1-38 1-64 1 32 1-68 1 6 1 49 1 94 1-37 1 11 1-41 1-1 1-35 1-95 1 96 1-19 1 13 1-50 1 58 1 10 1 46 1-58 1 17 1 136 1-99 1-48 1 82 1-44 1-115 1 110 1-38 1 56 1 1 1-150 1 135 1 123 1-149 1 120 1-111 1 93 1 55 1-188 1 181 1-124 1-9 1 19 1 68 1-155 1 190 1-82 1 58 1 78 1-4 1-116 1 36 1-61 1 79 1-103 1 38 1 67 1-18 1 4 1-56 1-156 1-107 1 54 1 137 1 45 1-90 1 106 1 25 1-84 1-11 1 61 1-64 1 66 1-27 1 2 1-39 1 151 1-68 1-72 1 110 1-89 1-45 1 134 1-85 1 144 1-56 1-57 1-9 1 94 1 20 1-69 1-137 1-46 1 30 1 56 1 10 1 1 1 92 1 17 1 23 1-31 1 519 1 150 1-105 1-184 1-157 1-6 1 38 1 220 1-24 1-43 1 15 1 90 1-87 1 13 1 110 1-162 1-64 1-35 1 125 1-429 1 144 1-305 1 219 1-75 1 25 1-92 1-29 1 46 1-29 1 38 1-14 1 50 1-34 1-73 1-60 1 42 1 120 1 65 1-45 1-51 1 105 1-113 1 20 1-17 1 60 1-30 1 69 1-2 1-55 1 3 1 83 1 3 1-46 1-80 1-40 1-111 1 183 1-49 1-60 1 136 1-53 1 25 1 40 1-125 1 1 1 48 1 8 1 81 1 21 1-89 1 82 1-40 1 21 1 33 1-161 1-10 1 117 1-138 1-6 1-26 1 28 1 593 1 114 1-90 1 197 1 6 1-42 1 13 1-148 1 46 1-71 1 208 1-238 1 22 1-11 1 279 1-234 1 16 1-65 1 78 1 43 1-111 1-1 1 12 1-551 1 62 1-30 1 590 1-51 1-41 1 5 1-144 1 203 1-144 1 381 1-747 1-1 1-57 1 12 1-58 1 86 1-103 1 72 1-26 1 82 1-76 1 648 1-79 1-146 1 90 1 6 1 42 1-69 1-113 1-47 1 86 1-7 1 144 1 24 1-576 1 38 1-39 1 49 1 39 1-110 1-72 1 137 1-17 1 87 1-40 1-172 1-23 1 16 1 34 1-1 1 120 1 31 1-127 1-28 1-56 1 135 1 486 1 48 1-513 1 53 1 91 1-76 1-125 1 25 1 33 1 51 1 7 1 454 1-528 1 44 1-83 1 118 1-44 1 217 1-278 1-62 1-98 1 159 1 646 1-65 1-45 1-26 1-231 1 194 1 39 1-56 1 53 1 44 1-555 1-8 1-21 1 192 1-79 1-131 1 54 1 9 1-133 1 111 1-26 1 44 1 12 1 55 1 33 1-51 1-34 1 47 1-23 1-43 1 41 1-7 1-51 1 72 1 31 1-82 1-8 1-97 1 25 1 90 1-146 1 280 1 16 1-51 1-39 1-89 1 413 1 114 1 189 1-49 1-168 1-81 1-90 1 96 1-45 1-98 1 226 1-314 1 120 1 145 1 81 1-81 1 71 1-30 1-27 1 59 1-57 1-73 1 74 1 6 1-92 1 63 1 58 1 7 1 47 1-26 1-5 1-40 1 8 1 112 1-73 1-49 1 47 1-170 1 27 1-37 1 63 1 21 1-125 1 212 1-139 1-20 1 216 1-52 1 60 1-98 1-144 1 40 1-132 1 109 1 157 1-88 1-226 1 153 1-65 1 89 1-93 1 157 1-135 1-13 1 94 1 34 1-96 1-30 1 124 1-45 1-54 1 68 1-82 1 36 1 258 1-12 1-160 1-116 1 20 1 44 1-16 1 47 1-82 1 55 1-261 1 136 1 89 1 61 1-52 1-3 1-7 1-58 1-10 1-7 1 141 1-26 1-44 1-46 1 57 1-171 1 108 1 135 1 60 1-12 1-40 1-37 1 3 1-52 1-74 1-10 1 145 1-134 1 91 1 75 1-110 1-154 1 89 1 125 1-103 1-4 1 23 1 43 1 64 1 160 1-327 1-20 1 138 1-61 1 12 1-315 1 359 1 67 1-112 1-53 1-55 1 213 1-149 1-49 1 126 1 0 1-163 1 22 1 148 1-60 1 52 1 42 1-178 1 40 1 197 1-123 1-23 1 46 1-32 1-7 1 105 1-473 1-79 1 68 1 235 1-41 1-28 1-9 1 131 1-197 1-71 1 13 1-74 1 281 1-42 1-101 1 49 1 80 1-10 1 26 1-19 1-92 1 25 1 71 1-48 1 4 1-162 1-9 1 140 1-92 1 104 1-65 1 38 1 11 1-92 1 8 1 9 1-25 1 87 1 16 1-115 1-4 1 104 1 40 1 48 1-13 1-132 1-24 1-16 1 119 1 32 1-81 1-33 1 180 1-65 1-151 1 40 1-2 1 4 1-113 1 85 1-23 1 89 1-40 1-34 1 16 1 193 1-195 1-14 1 47 1-35 1 15 1-34 1 5 1 128 1-35 1-42 1 55 1-18 1 0 1-27 1-16 1 79 1-86 1 32 1 77 1 97 1-66 1-98 1 48 1-165 1 30 1 90 1-9 1-28 1-73 1 133 1 32 1-191 1 140 1 125 1-122 1 69 1-131 1-53 1 101 1-32 1 55 1 2 1-39 1 48 1-57 1 19 1 21 1-51 1 105 1 8 1-86 1 94 1-81 1-44 1 79 1 59 1-144 1 26 1-1 1 99 1 7 1-61 1-15 1 25 1 71 1-55 1-59 1-7 1 177 1-140 1-35 1-24 1-13 1 76 1-34 1 31 1-23 1-36 1-56 1-6 1-22 1 92 1 16 1-1 1 94 1 109 1-131 1-43 1-20 1 27 1 41 1 13 1-71 1 73 1-2 1-146 1 84 1-5 1-68 1 13 1 43 1 2 1 92 1 22 1-71 1-66 1-44 1 23 1 39 1-26 1 87 1-111 1-79 1 134 1 33 1 5 1 7 1-83 1 102 1-1 1-48 1 113 1-99 1-24 1-36 1 19 1 44 1-28 1-30 1 18 1-59 1 11 1-17 1 38 1-4 1-145 1 64 1 24 1-13 1 62 1 85 1 56 1-47 1-86 1 41 1 52 1 143 1-69 1 2 1-45 1-114 1 72 1-40 1 10 1 26 1 12 1-1 1 54 1-142 1 100 1 79 1-93 1 86 1-107 1-127 1 83 1-106 1 74 1-33 1 119 1 108 1-166 1-38 1 54 1 31 1-18 1 2 1-18 1-80 1-100 1 150 1 93 1-48 1 59 1 66 1-71 1 15 1 22 1-82 1 30 1-68 1 125 1 96 1-116 1-33 1-191 1 109 1-21 1 13 1 48 1 71 1 51 1-112 1-18 1-23 1 229 1-119 1-52 1 56 1 56 1-24 1 30 1-190 1 63 1-141 1 15 1 54 1-39 1-108 1 196 1 57 1-97 1 194 1-140 1-75 1 76 1-121 1 63 1 40 1-58 1 21 1 42 1-128 1 49 1 7 1 84 1-189 1 118 1-64 1 141 1 3 1-78 1-70 1 15 1-79 1 59 1-15 1 125 1-77 1 16 1-39 1 127 1-47 1 43 1-80 1 99 1-84 1 112 1 21 1 10 1-82 1 88 1-67 1-91 1 211 1-76 1-35 1-97 1 51 1 45 1-34 1-58 1 160 1-55 1-126 1 8 1-5 1 128 1 61 1-49 1-72 1 40 1-48 1-30 1 8 1 43 1 16 1 1 1 112 1-103 1-66 1 38 1 105 1-119 1 40 1 22 1 22 1-87 1 24 1-94 1 150 1-33 1-46 1 45 1 46 1-22 1-107 1 32 1-6 1 135 1 29 1-64 1-19 1-62 1-121 1 251 1-73 1-6 1-57 1-8 1 90 1 2 1-143 1-152 1 0 1 103 1 133 1-128 1-166 1 65 1-128 1 23 1 99 1 3 1 145 1-138 1 131 1-266 1 117 1-182 1 78 1-81 1 220 1 6 1-193 1 22 1 127 1-64 1-12 1 158 1-61 1-68 1-26 1 15 1 74 1-66 1-92 1 21 1 92 1 50 1-52 1-78 1-93 1 354 1-344 1-34 1 276 1-88 1-34 1-10 1 2 1-85 1 56 1 28 1 108 1 75 1-148 1-203 1-32 1 220 1-111 1 81 1-237 1 138 1 60 1 30 1 39 1-61 1-15 1 9 1 73 1-106 1 28 1 22 1-138 1 46 1 116 1 102 1-129 1 35 1-108 1 84 1-61 1-36 1 112 1 139 1-105 1 52 1-90 1-80 1 77 1 47 1-26 1 137 1 44 1 20 1-68 1-232 1 46 1-106 1 213 1-122 1 61 1-160 1 132 1 10 1-112 1 15 1-79 1 86 1-175 1 228 1-89 1 211 1-121 1-8 1 189 1-208 1 52 1 57 1-49 1-53 1-35 1-21 1 84 1-7 1-9 1 2 1 115 1-50 1-183 1 129 1 46 1 46 1-94 1-96 1-13 1 63 1-128 1 108 1 10 1-125 1 74 1 112 1-78 1 231 1-345 1 40 1 13 1 96 1 44 1-40 1-1 1-58 1 215 1-36 1-193 1-34 1 21 1 41 1-52 1-96 1 270 1 75 1-187 1-146 1 195 1 122 1-179 1-126 1 149 1 96 1-158 1-24 1 21 1 43 1-132 1 55 1-31 1 193 1-49 1 13 1-48 1 124 1-102 1-200 1 162 1-106 1-10 1 101 1 13 1 3 1 23 1-117 1 122 1-125 1-38 1 1 1 70 1 99 1-168 1 85 1-114 1 105 1 165 1 84 1-198 1 100 1-117 1 12 1 15 1-25 1 108 1 24 1-127 1-43 1-49 1 57 1 100 1-44 1-23 1-75 1 78 1-108 1 50 1-73 1 88 1-4 1-32 1 79 1 450 1-53 1 150 1-27 1-54 1 22 1 60 1 50 1 18 1-106 1 78 1 24 1-181 1 52 1-32 1-44 1-5 1 67 1 51 1 108 1-114 1 29 1-59 1 37 1-16 1-23 1 7 1 14 1 47 1-73 1 46 1-632 1-15 1 584 1-91 1 159 1 17 1-111 1 15 1 93 1 134 1-55 1-93 1-25 1 78 1-22 1-88 1-3 1 3 1 96 1-38 1-62 1-54 1 27 1 70 1 113 1-48 1-589 1-68 1 87 1-69 1-78 1 84 1-106 1 237 1-257 1 54 1 27 1-98 1-17 1 140 1 38 1-170 1 103 1-127 1 110 1-18 1-54 1-69 1 816 1 12 1-176 1 91 1-62 1 109 1-45 1 136 1-42 1 5 1-93 1-4 1-50 1-33 1 86 1-105 1-656 1-8 1-120 1 22 1 37 1-58 1 27 1 51 1 22 1 69 1-74 1 77 1-87 1 29 1-6 1-39 1-46 1 850 1 69 1-59 1 56 1-81 1-882 1 113 1-98 1 42 1-95 1 195 1-185 1-13 1-48 1 225 1 7 1 22 1 130 1-167 1-54 1 914 1-57 1 38 1 2 1 30 1-23 1 68 1-76 1 96 1-52 1-994 1 196 1-34 1-112 1-157 1 35 1 87 1 12 1-20 1-131 1 990 1 86 1-42 1 22 1-1035 1 166 1 47 1-7 1 8 1 37 1-123 1 36 1 81 1-27 1-237 1 197 1-154 1 89 1 59 1 56 1-157 1 51 1 47 1-31 1-34 1-19 1 72 1 102 1-16 1-99 1-51 1-9 1 869 1 62 1 76 1-67 1-8 1-85 1 93 1-5 1-162 1 156 1 95 1-96 1 30 1 39 1-82 1-97 1 115 1-932 1 20 1-136 1 229 1-251 1-2 1 258 1-69 1 75 1 24 1-26 1-274 1 56 1 107 1-14 1 20 1-2 1-84 1 148 1-130 1 62 1 27 1 20 1 87 1-49 1 19 1-16 1-123 1-26 1 977 1 106 1-60 1 58 1-212 1 173 1-78 1 68 1 67 1-98 1-86 1 152 1-61 1-15 1 119 1-106 1 16 1-15 1-1038 1-26 1 73 1-113 1 25 1 64 1-208 1 97 1 69 1 61 1-3 1-146 1-48 1 309 1-27 1 8 1-5 1-78 1 182 1-182 1 58 1-97 1 87 1-34 1 83 1 33 1-166 1 215 1-48 1-19 1-22 1 6 1-96 1-27 1 167 1-74 1-107 1-2 1 20 1-4 1 60 1-36 1-33 1 71 1-96 1 15 1 95 1-14 1 144 1-209 1 1074 1-862 1-38 1 26 1-30 1-186 1 25 1-120 1 149 1 28 1-37 1-60 1-72 1 169 1-62 1-35 1-90 1 34 1 69 1 44 1-135 1 2 1 53 1 55 1-86 1-19 1 77 1-58 1 86 1-170 1 91 1 136 1 24 1-92 1-104 1 25 1 189 1 997 1-1177 1 1050 1 44 1-9 1 43 1-65 1-1095 1-83 1 1189 1-955 1-106 1 144 1 153 1-198 1-50 1-71 1 95 1 1041 1-43 1 86 1-925 1 134 1-119 1 811 1-84 1 79 1 42 1-144 1-1001 1 57 1 54 1-7 1 84 1 11 1-13 1-52 1-78 1-112 1-12 1 98 1 963 1 169 1-133 1 43 1 117 1-127 1 48 1 2 1-75 1-91 1-977 1 1121 1 63 1 19 1-107 1-46 1 61 1 31 1 145 1-138 1-101 1 129 1-8 1 10 1-48 1 72 1-138 1 98 1 6 1-31 1 89 1-1150 1-43 1-53 1 61 1-11 1 27 1-42 1 142 1-55 1 1025 1 55 1-16 1 48 1-75 1-86 1-10 1 56 1-119 1-82 1 248 1 7 1 55 1-39 1 110 1-177 1 59 1-39 1-27 1 15 1-40 1-66 1 121 1 10 1 21 1-76 1 14 1-26 1-1164 1 101 1 122 1-59 1-95 1 1276 1-89 1 76 1-119 1-93 1-17 1-1125 1 75 1 66 1-13 1-33 1 5 1 296 1-222 1 141 1-171 1 1 1 108 1-76 1 14 1 34 1 3 1-19 1-130 1 1070 1 25 1-92 1 75 1-46 1 96 1 9 1 78 1-36 1-125 1 80 1 34 1-57 1 117 1-123 1 57 1-123 1 247 1-9 1-130 1-91 1 119 1 111 1-45 1 21 1-6 1-58 1-132 1 145 1-46 1-3 1 75" fill="none" stroke="#000" stroke-width="0.8" stroke-linejoin="bevel" vector-effect="non-scaling-stroke"/>
<path transform="translate(494.3 285.5) scale(0.24250 .1)" d="M0 25l1 5 1-37 1-2 1 32 1 12 1 37 1-59 1 14 1 10 1-31 1 21 1 316 1 73 1 173 1-107 1-163 1 1 1-425 1 357 1 177 1-3 1-89 1 103 1-76 1-122 1-187 1 306 1 95 1-56 1-315 1-197 1 104 1-10 1 81 1 28 1-15 1-61 1 90 1-36 1-53 1 17 1 31 1-34 1-35 1-20 1-55 1 953 1-96 1 3 1 85 1 147 1-148 1-11 1 92 1-56 1-10 1-41 1-58 1-42 1-785 1 783 1 35 1 80 1-187 1 225 1-9 1-102 1 116 1 37 1-82 1-64 1 75 1 66 1 10 1 43 1-44 1-181 1-746 1-45 1 185 1-145 1-62 1 7 1 88 1-7 1 13 1-59 1 95 1 53 1-80 1-25 1 30 1-22 1-1 1 9 1-51 1 125 1-38 1 5 1 10 1-128 1-137 1 174 1 22 1-103 1-64 1 167 1 59 1-66 1 81 1-24 1-2 1 19 1-169 1 113 1-28 1-29 1 74 1-28 1-55 1-2 1 10 1 93 1-18 1-84 1-23 1 23 1-62 1 115 1 43 1-7 1-42 1 34 1 128 1-91 1-6 1-219 1 161 1 125 1-21 1-65 1-53 1-54 1 73 1 70 1-50 1 10 1-25 1-109 1 129 1-8 1-114 1 188 1-29 1-38 1-41 1 58 1-37 1 3 1-118 1 157 1-57 1-34 1-4 1 32 1-26 1-65 1 55 1 190 1-203 1 39 1-8 1 13 1 38 1 11 1-91 1 90 1 71 1-130 1 48 1 5 1-104 1 129 1-47 1 5 1-30 1 37 1-15 1 26 1 44 1-89 1 122 1-6 1-8 1 370 1 11 1 154 1 71 1-117 1-192 1 35 1-16 1 32 1 40 1 40 1-101 1-20 1 60 1 21 1-10 1-50 1-450 1 71 1-139 1 116 1 204 1-186 1 14 1 26 1-192 1 85 1 143 1-101 1 52 1 28 1-32 1 73 1-113 1 97 1-44 1 61 1-90 1 61 1-19 1-45 1 68 1-93 1 111 1 12 1-90 1-114 1 44 1-124 1 165 1 127 1-118 1 0 1-103 1-29 1 120 1 70 1 5 1-175 1-63 1 104 1 42 1-137 1 109 1-51 1 112 1 13 1 100 1-32 1-135 1 25 1 21 1-110 1-43 1 16 1 174 1-77 1-70 1 171 1-211 1 31 1 651 1 70 1-50 1-55 1-20 1 96 1-39 1-62 1 168 1 38 1-60 1-40 1-56 1 74 1 27 1-71 1 11 1-648 1 47 1 5 1-111 1 86 1-19 1 41 1-71 1 188 1-78 1 722 1-7 1-163 1 21 1-90 1 219 1-67 1-30 1-91 1 76 1-89 1-32 1-21 1 104 1-61 1 14 1 191 1 131 1-104 1-174 1 1 1 12 1 20 1 30 1-98 1 137 1-177 1 99 1-5 1-55 1 5 1-40 1 0 1-8 1 37 1-95 1 103 1-128 1 323 1-145 1-93 1-121 1 25 1 84 1 88 1 159 1-217 1 120 1 40 1-59 1-232 1 137 1 72 1 21 1-161 1 53 1-99 1 7 1 23 1 33 1 103 1-110 1-374 1 419 1 31 1-151 1 25 1-110 1-355 1 26 1 509 1-54 1 121 1-136 1-62 1 20 1 26 1-55 1 169 1 26 1 20 1 15 1-201 1 144 1-32 1-170 1 4 1-30 1-389 1 10 1-23 1-78 1 90 1 31 1 103 1-233 1 122 1-19 1 31 1-6 1 62 1 34 1-72 1 79 1-156 1 17 1 23 1 80 1-22 1-51 1 19 1 11 1-27 1 155 1 20 1-99 1 2 1-13 1 96 1-115 1 69 1 370 1 34 1-45 1 1 1-72 1 104 1-36 1 64 1-33 1-1 1 148 1-134 1-163 1 111 1 77 1-17 1-197 1 114 1-33 1 50 1 160 1-222 1 24 1-34 1-31 1 143 1 176 1-279 1 69 1-136 1 15 1 7 1 26 1-80 1 270 1-154 1 110 1-50 1 94 1-127 1 69 1-303 1 31 1 5 1 92 1-53 1-59 1 240 1 34 1 67 1-190 1 25 1 163 1-75 1-60 1-70 1 32 1 154 1-196 1 36 1 146 1 26 1-223 1 7 1 109 1 60 1 59 1-164 1-18 1 17 1 101 1-161 1-7 1 3 1 95 1-8 1 7 1 71 1-78 1 45 1 7 1 69 1-52 1-70 1-67 1 131 1-19 1-118 1-16 1 146 1-63 1-102 1 102 1 4 1 157 1-147 1-115 1 121 1 58 1-151 1 15 1-117 1 11 1 9 1 264 1-327 1 122 1 73 1 24 1-94 1-93 1 25 1 75 1-134 1 180 1 90 1-218 1-63 1 84 1 6 1 49 1 84 1-270 1 164 1-90 1 99 1 43 1 46 1-10 1-169 1 6 1-8 1 73 1-31 1 83 1-144 1 14 1 14 1-14 1 201 1-98 1 74 1-69 1 17 1 64 1-160 1-38 1 93 1 106 1-64 1-139 1 113 1-47 1-34 1 21 1-202 1 70 1-25 1-62 1 59 1 12 1-80 1 56 1-3 1-15 1-44 1 10 1-52 1-30 1-44 1 94 1 1 1 66 1 25 1-52 1-226 1 236 1-98 1 149 1-44 1-14 1 18 1-6 1 32 1-70 1 17 1-77 1 21 1 91 1 0 1-78 1 132 1-38 1 5 1-92 1 2 1 11 1 16 1 71 1-61 1-158 1 285 1-41 1-15 1 62 1-90 1-24 1-48 1 35 1-22 1 27 1 26 1-106 1 203 1-40 1-149 1 6 1 28 1 90 1 26 1 92 1-56 1 16 1-36 1 21 1-45 1-87 1 173 1-50 1-60 1-139 1 84 1 6 1-19 1-20 1 72 1 61 1-104 1 73 1-87 1-32 1 46 1 8 1 100 1 20 1-35 1 28 1-121 1-36 1 24 1 150 1-37 1-102 1 42 1-176 1 108 1-28 1 77 1-53 1-141 1 171 1 50 1-39 1-27 1 44 1-18 1-31 1 57 1 39 1-39 1-11 1-30 1 71 1 73 1-85 1-7 1-36 1 26 1-86 1 71 1-157 1 132 1 22 1 11 1 13 1-98 1 132 1 76 1-148 1 88 1 10 1 23 1 84 1-148 1 27 1 87 1-110 1-100 1 70 1 27 1 18 1-44 1-33 1 26 1 66 1-9 1-2 1-48 1-12 1 1 1-40 1 68 1-123 1 12 1 59 1 93 1-58 1-52 1-62 1 72 1 61 1-12 1-84 1 104 1-8 1 35 1-34 1-121 1 24 1-30 1 121 1 38 1-68 1 107 1-107 1-20 1-48 1 39 1-20 1 146 1 40 1-18 1 102 1-228 1-105 1 28 1 67 1 0 1 27 1 57 1-12 1-53 1-10 1 87 1-105 1 36 1 81 1-116 1 83 1 8 1-39 1-109 1-42 1 146 1 8 1-78 1 174 1-26 1-156 1-93 1 97 1 86 1-48 1 48 1-50 1 12 1-56 1-11 1 34 1-32 1 188 1-87 1 42 1-7 1-170 1 222 1-17 1-99 1-47 1 44 1-46 1 132 1 33 1 16 1-161 1 18 1 4 1-66 1 24 1 105 1 34 1-100 1 70 1 25 1-75 1-171 1 96 1-51 1 49 1 0 1 40 1 4 1 26 1-22 1-82 1-13 1-43 1 30 1 182 1-117 1 116 1-86 1 0 1 5 1-69 1 139 1 3 1 30 1-92 1-22 1-97 1 112 1 27 1-41 1 83 1-82 1 155 1-281 1 187 1-116 1-164 1 202 1 3 1 166 1-212 1 97 1 127 1-7 1-132 1 83 1-82 1 121 1 30 1-24 1-60 1-100 1-37 1-71 1-61 1-110 1 100 1 84 1-18 1 132 1 44 1 135 1-88 1-101 1 89 1-142 1 81 1 90 1-11 1-27 1-4 1 41 1-73 1 81 1-83 1-46 1 143 1 12 1 21 1-135 1-66 1 68 1 36 1-25 1 4 1 24 1 67 1-57 1-21 1-2 1 59 1-124 1 247 1-154 1 42 1-184 1 135 1-126 1 171 1-114 1 13 1 5 1 28 1-9 1 13 1-21 1 97 1 2 1 45 1-92 1-65 1 127 1-162 1 27 1 53 1 7 1-22 1-89 1 49 1 5 1 61 1-41 1-110 1 215 1-6 1-67 1-29 1-18 1 21 1-9 1 60 1 8 1-9 1-65 1 23 1 15 1-105 1 27 1-54 1 109 1-195 1 4 1-54 1-84 1 81 1-66 1-19 1-9 1 72 1 124 1-67 1-167 1 125 1-21 1-181 1 35 1 33 1 38 1 20 1-85 1-138 1 256 1-90 1-15 1-264 1 374 1-28 1-22 1-83 1 139 1 55 1-157 1 16 1 49 1-109 1 378 1-36 1-111 1-22 1 50 1 102 1 143 1-45 1-20 1 83 1-45 1-56 1-2 1 55 1-36 1-19 1 83 1-124 1-30 1-46 1-289 1 3 1 238 1 288 1 43 1-117 1-40 1 21 1-12 1 18 1-265 1-114 1-29 1-74 1 147 1-178 1 12 1 19 1 30 1-160 1 73 1 143 1-40 1 143 1-257 1 121 1 24 1-19 1-91 1 71 1-137 1 163 1-41 1 6 1-29 1 289 1-108 1-242 1 36 1-3 1-87 1 163 1-51 1 68 1-85 1-202 1 49 1 46 1-112 1 199 1-27 1 233 1-101 1-74 1 112 1 117 1-251 1 73 1-179 1 56 1 89 1-74 1 122 1-43 1 164 1-146 1-51 1 6 1-34 1-22 1 17 1 112 1 60 1-69 1-30 1 217 1-439 1 177 1 60 1-103 1 34 1-28 1 97 1-37 1 76 1-154 1 83 1-164 1 134 1 74 1-143 1-19 1 189 1-46 1 9 1-149 1 248 1-259 1 6 1 22 1-28 1-90 1 131 1 137 1-41 1 114 1-218 1-35 1-47 1-52 1 106 1 108 1 18 1-41 1 24 1-16 1 22 1 7 1 8 1-129 1 153 1-137 1 98 1-17 1 64 1-95 1 537 1-53 1-59 1 12 1 83 1-12 1-73 1 0 1 61 1-17 1 15 1-28 1-48 1 62 1-8 1 52 1-4 1 29 1-66 1 37 1-85 1 103 1-82 1-61 1 151 1 24 1-111 1 84 1-11 1 22 1-1 1-73 1-86 1-515 1-16 1 46 1 162 1-54 1 4 1-122 1-62 1-99 1 175 1 11 1-78 1 34 1 138 1 36 1 502 1-1 1 34 1-15 1-87 1-22 1 119 1-40 1-31 1 144 1-60 1-130 1 49 1-27 1 21 1-48 1 102 1-26 1-47 1-120 1 37 1 101 1 101 1-22 1-74 1-461 1-42 1-88 1 13 1-1 1-182 1 171 1-51 1-19 1-40 1 174 1 547 1-112 1 85 1-9 1 88 1-188 1-565 1-14 1-91 1 209 1 113 1-321 1 1 1-65 1 72 1 299 1-170 1-10 1 19 1-90 1 21 1 89 1 71 1-150 1 138 1-92 1-172 1-10 1 4 1-27 1-6 1 129 1-41 1 34 1-14 1-26 1-92 1 81 1 65 1 108 1 24 1 633 1-53 1-112 1 42 1-44 1 11 1 5 1 11 1 168 1-27 1-212 1 239 1-28 1-241 1 89 1 9 1-713 1 30 1 142 1-128 1 59 1-74 1 31 1-244 1 219 1-83 1 75 1 2 1 88 1-15 1-160 1 36 1-73 1 180 1-41 1-19 1-115 1 9 1 60 1 21 1-282 1 337 1-144 1 9 1-36 1 141 1-6 1-82 1 219 1-133 1-119 1 130 1-31 1-53 1 9 1-88 1 9 1-54 1-56 1 122 1 22 1-48 1-27 1 161 1 83 1-157 1-90 1 165 1 100 1-222 1-2 1 68 1-159 1 5 1 182 1-74 1 7 1 191 1-42 1-222 1-162 1 168 1 101 1-1 1-61 1 70 1-82 1-7 1-94 1 210 1-82 1 157 1-66 1-138 1 138 1-126 1-17 1-38 1-9 1 190 1-188 1 25 1 145 1-61 1-50 1 125 1-244 1 167 1 229 1 801 1-47 1 14 1-96 1-33 1-33 1 150 1-81 1-58 1 2 1-10 1-65 1 129 1-52 1 41 1-45 1 46 1-762 1-125 1 857 1 43 1-110 1 81 1 6 1 33 1-6 1-938 1 140 1-123 1 28 1 119 1 804 1 61 1 122 1-107 1-78 1 42 1-29 1-62 1 82 1-79 1 69 1 84 1-201 1-813 1-91 1 117 1-40 1 55 1-66 1 904 1 62 1 57 1 29 1-120 1-48 1 80 1-125 1 58 1 41 1 19 1-54 1 100 1-42 1 96 1-154 1 21 1 128 1-118 1 86 1 0 1-46 1 62 1-182 1 3 1 79 1-124 1-21 1 205 1-1096 1 88 1-17 1 9 1 15 1-143 1 178 1 4 1-28 1-127 1 103 1 42 1-26 1-123 1-105 1 240 1 32 1-81 1 56 1-85 1-12 1 69 1-32 1 207 1-256 1 37 1-175 1 121 1-48 1 20 1 66 1-187 1 216 1-87 1 50 1-25 1-98 1-20 1 137 1 1018 1 66 1-95 1 78 1-92 1 73 1 41 1-230 1-959 1 55 1 213 1 1 1-165 1 31 1-4 1 39 1-33 1 94 1-244 1 49 1 117 1-236 1 26 1 66 1 171 1-263 1 93 1 959 1 196 1-1083 1 1044 1-36 1 87 1-125 1 0 1 27 1 42 1-992 1 10 1-28 1-73 1 94 1-87 1 1 1-44 1 10 1-3 1 87 1-138 1 38 1 90 1 6 1 41 1 35 1-180 1 132 1 20 1-156 1 99 1-40 1-33 1-55 1 53 1 199 1 70 1 22 1-76 1-271 1 42 1 60 1-172 1 41 1 1122 1-23 1-118 1 64 1 107 1-4 1 41 1-87 1-25 1 55 1-89 1 133 1 9 1 2 1-33 1-7 1-64 1-24 1 35 1 37 1-949 1-81 1 161 1-45 1-100 1-113 1 140 1-4 1-151 1 196 1-156 1-11 1 108 1-48 1-36 1-62 1 48 1 23 1-62 1 33 1 8 1 108 1-173 1 110 1 93 1 51 1-12 1-54 1 1089 1 26 1-147 1-48 1-925 1-276 1 9 1 33 1 161 1 2 1-108 1 83 1 43 1 35 1 44 1-103 1-111 1 1245 1-16 1-22 1-40 1 44 1 3 1 16 1-96 1-1031 1 48 1-119 1 31 1 1085 1 37 1 90 1-1086 1-12 1 1171 1-50 1 1 1-38 1-97 1-932 1-18 1-73 1-61 1 96 1-18 1-8 1 1132 1 9 1-206 1 93 1-23 1 38 1 41 1-24 1-31 1-56 1 31 1-18 1 36 1 184 1-967 1-284 1-37 1-158 1 283 1-102 1-51 1-33 1-84 1 44 1-54 1-89 1 52 1 1 1 245 1-2 1-116 1 1222 1-5" fill="none" stroke="#000" stroke-width="0.8" stroke-linejoin="bevel" vector-effect="non-scaling-stroke"/>
<line x1="494.3" y1="284.5" x2="906.3" y2="284.5" stroke="#1a1a1a" stroke-width="2.0"/>
<line x1="697" y1="105" x2="697" y2="462.2" stroke="#1a1a1a" stroke-width="3.2"/>
<line x1="692.2" y1="106.3" x2="697.5" y2="106.3" stroke="#1a1a1a" stroke-width="3.0"/>
<line x1="692.2" y1="165.6" x2="697.5" y2="165.6" stroke="#1a1a1a" stroke-width="3.0"/>
<line x1="692.2" y1="225.5" x2="697.5" y2="225.5" stroke="#1a1a1a" stroke-width="3.0"/>
<line x1="692.2" y1="343.5" x2="697.5" y2="343.5" stroke="#1a1a1a" stroke-width="3.0"/>
<line x1="692.2" y1="402.8" x2="697.5" y2="402.8" stroke="#1a1a1a" stroke-width="3.0"/>
<line x1="692.2" y1="461" x2="697.5" y2="461" stroke="#1a1a1a" stroke-width="3.0"/>
<text transform="translate(661 113.8) scale(1 1.035)" font-size="26.5">30</text>
<text transform="translate(661 172.5) scale(1 1.035)" font-size="26.5">20</text>
<text transform="translate(661.5 234.8) scale(1 1.035)" font-size="26.5">10</text>
<text transform="translate(651.9 352.5) scale(1 1.035)" font-size="26.5">-10</text>
<text transform="translate(651.9 412) scale(1 1.035)" font-size="26.5">-20</text>
<text transform="translate(651.9 470.2) scale(1 1.035)" font-size="26.5">-30</text>
<text transform="translate(477.4 265.9) scale(1 1.035)" font-size="26.5">-100</text>
<text transform="translate(583.7 265.9) scale(1 1.035)" font-size="26.5">-50</text>
<text transform="translate(703.6 328) scale(1 1.035)" font-size="26.5">0</text>
<text transform="translate(788.2 328) scale(1 1.035)" font-size="26.5">50</text>
<text transform="translate(876.4 328) scale(1 1.035)" font-size="26.5">100</text>
<text transform="translate(802.3 357.4)" font-size="34.5">V (mV)</text>
<text transform="translate(646 195.6) rotate(-90)" font-size="34.5">I (pA)</text>
<text transform="translate(924.8 41.2)" font-size="55.5">(c)</text>
<text transform="translate(986.5 75.3) scale(1 1.035)" font-size="34">DIO</text>
<path transform="translate(959 285.5) scale(0.24073 .1)" d="M0 22l1-38 1 66 1-17 1-115 1 140 1-33 1 39 1 94 1-78 1-114 1-8 1 113 1-134 1 76 1 31 1-94 1 61 1 44 1-76 1-3 1 68 1-104 1-3 1 124 1-22 1-108 1 64 1 150 1-189 1 101 1 26 1-56 1 36 1-76 1 127 1 50 1-161 1-4 1 22 1-45 1 53 1-79 1 85 1-34 1 6 1 37 1 41 1-117 1 84 1 32 1-59 1 94 1-128 1-23 1 55 1-55 1 123 1-44 1 90 1-161 1-41 1 142 1-118 1 108 1-95 1 44 1 74 1-60 1-92 1 17 1 116 1-29 1 26 1-34 1 3 1-31 1-66 1 86 1 1 1-146 1 90 1 93 1 92 1-195 1 41 1 42 1 26 1-91 1 55 1-47 1 11 1-30 1 48 1-33 1 37 1-16 1 63 1 71 1-98 1-74 1 12 1-17 1-81 1 89 1-8 1 92 1-42 1 58 1-62 1-15 1-13 1-18 1 0 1 86 1-65 1-13 1-30 1 140 1-77 1-9 1-51 1 58 1-51 1-8 1-95 1-2 1 123 1 75 1-141 1 81 1 26 1 202 1-213 1-42 1-39 1 116 1 50 1-85 1 110 1 69 1-153 1 24 1-44 1-42 1-1 1 15 1-66 1 61 1 79 1-94 1 1 1-26 1 79 1-8 1 67 1-63 1-97 1 108 1-25 1 90 1-2 1-226 1-24 1 129 1-15 1-105 1 84 1 149 1 0 1-102 1 48 1 64 1-62 1 114 1-134 1 150 1 6 1-67 1-40 1-25 1-74 1 108 1 52 1-18 1-40 1-24 1-78 1-5 1-56 1 114 1-60 1 100 1-72 1 119 1 45 1 11 1-23 1-105 1-33 1-38 1 60 1 109 1-154 1 191 1-145 1-84 1 76 1 73 1-75 1-68 1 168 1-143 1 99 1-28 1-44 1 15 1-72 1-23 1 89 1-65 1-1 1 150 1 68 1-26 1-22 1-116 1 30 1-57 1-157 1 156 1 49 1 66 1-128 1 121 1-78 1-71 1 45 1 94 1-36 1 20 1-83 1 66 1 55 1-111 1 55 1-103 1 76 1-94 1 100 1 2 1-75 1 78 1-68 1 51 1-52 1 82 1-50 1 120 1-31 1-3 1-128 1-90 1 60 1 194 1-128 1 108 1 34 1-114 1-10 1 100 1-77 1-33 1-22 1 37 1-1 1 90 1-41 1 51 1-72 1 155 1-131 1-41 1-57 1-77 1 32 1 83 1-57 1 106 1-134 1-44 1 121 1 41 1-89 1 122 1 57 1-51 1-127 1 133 1-64 1-11 1 41 1-67 1 129 1-105 1 83 1 5 1 69 1-64 1 5 1-83 1-14 1-29 1 83 1-69 1 125 1-72 1-93 1 7 1 125 1-73 1 51 1-131 1 98 1 51 1-2 1 18 1-113 1-79 1 0 1 145 1 14 1 31 1-82 1 67 1-137 1 90 1-70 1 20 1 80 1 38 1-57 1-31 1 106 1 11 1-112 1 32 1-23 1 72 1-12 1-6 1-24 1-49 1 95 1-17 1-188 1 74 1 65 1-47 1-26 1-5 1 86 1-66 1 69 1 87 1-1 1 3 1-80 1 70 1-56 1 40 1-122 1 123 1-87 1 16 1 73 1-49 1-46 1 6 1 87 1 26 1-22 1-94 1-13 1 67 1 25 1-90 1-27 1 85 1 52 1-53 1-101 1 155 1-58 1 11 1-173 1 44 1 48 1 48 1-67 1-65 1-27 1 75 1 68 1 17 1-128 1 29 1 49 1 87 1-3 1-21 1-137 1 144 1-36 1 10 1-57 1 14 1-5 1-6 1-34 1 94 1 43 1-84 1-44 1-13 1 31 1 125 1-67 1 111 1-173 1-41 1 8 1-2 1 78 1 118 1-129 1 33 1 75 1 95 1-118 1 17 1 28 1-73 1 9 1-58 1-53 1 4 1 118 1 48 1-58 1-116 1 129 1-43 1 87 1-67 1-103 1 27 1-18 1 146 1-214 1 48 1 33 1-105 1 133 1 53 1 31 1 9 1-60 1 52 1-78 1 9 1 15 1-5 1 28 1-70 1 14 1-59 1 68 1 27 1-63 1 128 1 72 1-71 1-52 1-64 1 12 1 0 1 61 1-28 1 39 1 3 1-69 1-77 1-13 1 4 1 71 1 102 1-110 1 72 1-32 1 86 1 92 1-51 1-64 1-173 1 218 1-91 1-60 1 46 1 110 1-121 1 105 1-10 1-70 1-59 1-74 1 9 1 91 1 65 1-71 1-18 1-19 1 209 1-193 1-65 1 150 1-99 1 110 1-90 1 98 1 52 1-107 1-3 1-66 1 105 1-48 1-57 1 76 1 17 1-22 1-33 1 83 1-83 1-39 1 29 1 60 1-43 1 31 1-95 1 4 1 10 1 182 1-200 1 29 1 44 1-50 1-36 1 107 1 87 1 8 1-71 1-52 1 58 1-138 1 14 1 159 1-22 1-25 1-31 1-22 1-38 1 84 1 21 1 7 1-198 1 192 1 29 1 57 1-127 1-147 1 15 1 33 1 206 1-126 1-18 1 94 1 21 1 12 1-94 1 130 1-60 1-102 1 54 1-107 1-21 1 32 1-24 1 39 1 2 1 13 1-24 1 128 1-105 1 0 1-26 1 14 1-43 1 217 1-96 1 45 1-67 1-83 1 28 1-3 1-38 1 79 1 126 1-58 1 40 1 29 1-209 1 196 1-158 1 165 1-59 1 8 1 111 1-44 1-194 1-71 1 20 1 214 1-60 1 40 1-21 1 47 1-138 1-96 1 50 1 115 1-89 1-103 1 73 1 109 1 15 1-47 1-26 1-116 1 105 1 161 1-113 1 109 1-161 1 7 1-4 1 30 1-112 1 168 1-53 1-141 1 147 1 10 1-93 1 50 1 78 1 16 1-18 1-74 1 43 1 82 1 85 1-78 1-10 1 8 1-80 1-125 1 42 1 37 1 38 1-6 1-55 1-6 1 17 1-41 1-11 1-66 1 71 1 50 1-37 1 13 1 27 1-72 1 7 1-16 1 87 1-80 1 54 1-123 1 218 1-14 1-95 1 23 1 141 1-78 1-103 1 33 1-11 1 65 1-1 1-120 1 91 1 78 1 54 1-54 1 87 1-1 1-46 1 40 1-263 1 177 1 66 1-84 1 37 1-89 1 6 1 2 1-59 1 38 1-93 1 82 1 149 1 58 1-112 1 86 1-65 1-132 1 4 1 40 1 15 1 50 1-76 1-3 1 98 1-31 1 10 1-29 1 44 1 18 1-98 1 101 1-90 1 40 1-31 1 56 1-8 1-72 1 66 1-24 1 14 1-10 1-58 1-136 1 191 1 88 1-126 1 62 1-57 1 37 1 58 1-17 1-46 1-129 1 78 1 35 1 96 1-102 1 10 1 23 1 78 1-141 1 93 1-34 1-49 1-62 1 8 1 124 1-54 1-45 1 23 1 124 1 14 1-7 1 8 1-11 1-83 1-72 1 136 1-51 1 1 1-39 1 53 1 73 1-96 1 8 1-3 1 39 1-33 1-6 1 45 1-61 1-42 1 85 1-33 1 110 1-124 1-60 1 112 1-27 1-89 1 228 1-118 1 51 1-86 1 47 1 42 1-94 1 28 1 43 1 92 1-44 1 16 1-50 1-7 1-11 1-55 1-126 1-27 1 127 1 48 1-14 1-48 1-10 1-54 1 147 1-147 1 178 1-86 1 174 1-85 1-80 1 6 1-39 1 123 1-67 1-3 1-76 1 76 1-117 1 20 1 135 1-183 1 4 1 191 1-44 1 77 1 9 1-48 1-155 1 29 1 18 1 94 1-45 1-28 1-75 1 49 1 44 1-167 1 109 1 62 1-25 1 0 1-28 1 89 1-70 1 96 1-27 1-161 1 60 1 57 1 55 1-32 1-26 1 55 1 69 1-207 1 17 1 161 1-46 1-98 1 151 1 63 1-128 1 28 1-41 1 11 1 45 1-70 1-8 1-18 1-100 1 116 1 60 1-27 1-16 1 47 1-87 1-50 1 86 1 6 1 109 1-180 1 39 1-68 1 205 1-109 1 47 1-187 1 29 1 125 1-42 1-26 1 79 1-14 1-3 1 8 1-47 1 121 1 2 1-77 1-38 1-111 1 15 1 169 1-118 1 16 1 145 1 3 1-47 1-10 1-52 1 18 1-3 1 85 1-12 1-104 1 113 1-4 1 18 1 15 1-47 1-26 1 19 1 62 1-102 1-22 1 22 1 24 1-30 1-98 1 142 1-82 1-56 1 3 1 61 1-1 1-139 1 7 1 0 1 54 1 76 1-30 1 165 1-23 1 33 1-38 1-143 1 73 1-107 1-1 1 82 1 13 1 43 1-46 1 76 1 5 1-28 1-54 1-41 1 105 1 153 1-176 1-10 1-73 1-127 1 166 1 19 1 41 1-76 1-37 1 143 1-118 1 73 1 38 1-53 1-53 1 37 1-123 1 62 1 12 1-65 1 55 1 95 1 123 1-190 1 46 1 13 1-44 1-31 1 62 1 35 1-134 1 156 1-63 1-2 1-45 1 106 1-138 1 15 1 46 1-57 1 29 1 58 1 62 1-71 1-40 1 50 1-8 1-79 1 103 1-45 1-54 1 107 1 7 1-88 1 71 1-70 1-12 1-33 1 113 1-32 1 38 1-114 1 24 1-77 1 45 1 30 1 22 1-83 1 147 1-135 1 147 1-43 1 65 1-118 1 41 1 42 1 120 1-80 1 66 1-72 1 50 1-169 1 76 1 53 1-129 1-62 1 101 1 161 1 4 1-89 1 9 1-24 1 5 1 70 1-150 1-47 1-65 1 52 1 142 1-31 1-92 1 17 1 16 1 104 1-5 1-6 1 53 1-30 1 29 1-117 1-45 1 25 1 167 1-161 1 40 1 34 1-88 1-45 1 205 1-86 1-40 1 36 1-6 1-106 1-52 1 86 1-13 1 44 1-63 1 232 1-71 1 83 1-141 1-16 1-30 1 30 1 34 1-53 1-53 1 8 1 34 1 79 1-137 1 10 1 80 1 86 1-94 1 21 1-28 1-12 1 22 1-40 1 8 1-3 1 123 1-68 1 91 1-92 1-9 1-69 1 47 1 95 1 42 1-166 1 186 1-87 1-13 1 28 1-55 1-76 1 37 1-16 1 148 1-81 1-177 1 185 1 7 1-41 1-133 1 301 1-149 1-46 1-29 1 41 1-4 1 25 1 19 1-26 1 66 1-124 1 95 1-9 1-25 1 39 1-19 1-8 1-47 1-40 1-52 1-3 1 40 1 108 1-37 1 14 1-76 1-53 1 91 1 176 1-176 1 109 1-132 1-43 1 5 1 6 1 113 1-8 1-9 1-44 1 83 1 86 1-75 1-65 1-64 1 29 1-51 1 156 1-91 1 101 1-126 1 101 1 12 1 17 1-25 1-96 1 220 1-206 1 105 1-54 1-76 1 102 1 74 1-6 1-157 1-9 1 85 1 65 1-12 1-64 1-123 1-2 1 98 1-58 1-41 1 119 1 86 1-108 1-2 1 4 1 71 1-57 1-18 1 9 1-75 1 145 1 59 1-81 1-19 1 18 1-30 1-56 1 77 1 27 1 28 1-126 1 40 1-88 1 182 1-168 1 41 1 124 1-181 1 68 1-99 1 103 1-4 1-28 1-32 1 87 1 1 1 38 1 20 1-87 1 31 1 78 1-28 1-15 1-23 1-44 1 18 1 1 1 168 1-133 1-87 1 65 1-21 1-33 1 85 1-40 1-54 1 75 1 115 1-9 1-72 1-19 1-28 1 40 1-48 1 22 1-28 1 16 1-142 1 89 1-10 1 12 1 51 1-95 1-2 1 68 1 13 1 61 1-20 1-136 1 93 1-9 1 16 1 62 1-40 1-33 1-103 1 47 1 97 1 10 1-113 1-44 1 52 1 72 1-58 1 121 1 88 1-189 1 153 1 40 1-253 1-49 1 83 1 36 1-46 1 43 1 65 1-91 1-119 1 94 1 102 1 76 1-4 1-257 1 28 1 81 1-25 1 87 1 20 1 35 1 49 1-117 1 120 1-175 1-29 1-10 1 11 1 107 1 101 1-181 1 95 1 60 1-42 1-167 1 116 1 66 1-160 1 39 1 116 1-12 1 50 1 25 1-162 1-44 1 127 1-44 1 67 1-1 1-93 1 89 1-6 1-75 1-15 1-9 1 55 1 59 1-10 1-51 1-98 1 70 1 7 1-35 1-27 1 157 1 43 1-183 1 104 1-9 1 92 1-149 1 76 1-81 1-3 1 29 1 58 1-38 1-125 1 122 1-20 1-21 1-107 1 54 1 123 1 43 1-40 1-103 1 80 1-85 1 85 1-64 1-85 1 106 1 16 1 5 1-72 1-32 1 135 1-37 1 101 1 31 1-173 1-4 1-172 1 139 1 2 1 60 1-20 1-19 1-24 1-4 1 133 1 1 1 102 1-60 1-97 1-35 1 131 1-196 1 75 1 4 1-128 1 176 1-18 1-22 1-50 1 40 1 6 1 79 1-67 1 166 1-154 1 4 1-51 1 85 1-60 1 108 1 4 1-38 1-152 1 65 1 15 1 52 1-121 1 101 1 34 1-42 1 12 1-49 1 83 1-119 1-1 1 217 1-111 1-31 1-69 1 25 1 43 1-84 1-43 1 57 1 153 1-82 1 172 1-42 1-50 1-90 1 40 1 177 1-237 1 46 1 101 1-17 1-63 1-58 1 75 1-158 1 191 1-121 1-116 1 79 1 33 1-5 1-88 1 33 1 111 1 7 1 55 1-50 1-99 1 22 1 33 1 20 1 12 1 0 1 30 1 11 1-100 1 102 1-2 1-69 1 16 1-23 1 21 1-133 1-42 1 171 1-29 1 108 1 42 1-66 1 87 1-164 1 29 1-90 1 72 1 86 1-38 1-2 1-88 1 57 1-52 1 44 1-43 1 98 1 9 1-11 1 25 1 38 1-73 1-71 1-15 1 149 1-43 1-112 1-30 1 143 1-56 1 117 1 21 1-113 1-38 1-54 1 97 1-117 1 88 1-30 1 119 1-91 1-57 1 75 1-87 1 89 1-41 1-32 1 8 1 7 1-66 1 105 1-13 1-41 1 117 1-36 1 84 1-206 1 151 1-35 1 93 1-78 1-62 1-28 1 61 1-115 1 47 1-30 1 216 1-57 1-71 1-203 1 130 1 4 1 38 1 16 1-46 1-53 1 52 1 27 1 13 1 6 1 32 1-74 1 93 1-57 1 21 1-35 1 38 1 101 1-43 1-35 1-12 1-52 1-59 1-76 1 125 1 64 1 31 1-165 1 23 1 90 1-31 1 69 1 35 1-138 1 103 1-33 1-37 1 44 1-52 1-82 1 145 1 24 1 7 1-22 1-113 1 60 1 131 1-45 1-37 1 4 1-30 1 8 1 0 1-46 1 18 1 14 1 10 1 167 1-141 1-102 1 44 1-96 1 211 1-100 1 0 1 25 1 56 1-82 1 38 1-27" fill="none" stroke="#000" stroke-width="0.8" stroke-linejoin="bevel" vector-effect="non-scaling-stroke"/>
<path transform="translate(959 285.5) scale(0.24073 .1)" d="M0 41l1-72 1 21 1-93 1 127 1-53 1 97 1 23 1-117 1 135 1-71 1 40 1 22 1 25 1-110 1 25 1-68 1 59 1 84 1 3 1-29 1 0 1-116 1-117 1 197 1-156 1 153 1-18 1-30 1-15 1 21 1 79 1-100 1-32 1 31 1 137 1 2 1-76 1-130 1 135 1 121 1-64 1-208 1 107 1 98 1-83 1 9 1 5 1-18 1 41 1 87 1-20 1 37 1-81 1-12 1-123 1 132 1-39 1 15 1 43 1-42 1 112 1-33 1-56 1-88 1-53 1 166 1 72 1-85 1 49 1-256 1 73 1 100 1 70 1-50 1-30 1-4 1 28 1-67 1 3 1-9 1 77 1-19 1-81 1-55 1 113 1-82 1 99 1 152 1-227 1 67 1 32 1-107 1 107 1 67 1-91 1 2 1 75 1-47 1-120 1 84 1 48 1-84 1-15 1 18 1-9 1-5 1 9 1 35 1 24 1 5 1 12 1 66 1-62 1-101 1 31 1-106 1 148 1 117 1-149 1 92 1-6 1-68 1-13 1-31 1 32 1-27 1 147 1-140 1 88 1 42 1-165 1 14 1 153 1-42 1 12 1-1 1-86 1 7 1-153 1 171 1 42 1 14 1-5 1 10 1-137 1-65 1 53 1-16 1 141 1-73 1 40 1-87 1 134 1 36 1-223 1 117 1-18 1 18 1 1 1-40 1 117 1-73 1-102 1 70 1 35 1-123 1 72 1 31 1 27 1 29 1-63 1 70 1-10 1-96 1 28 1 56 1-37 1 30 1-99 1-14 1 148 1-9 1-43 1 15 1 47 1 0 1-22 1-61 1-110 1 87 1 18 1 125 1-41 1 46 1-107 1 34 1 1 1-71 1-6 1-14 1 124 1-3 1-124 1-48 1 108 1-27 1 25 1 90 1 13 1-12 1-92 1 16 1 50 1-39 1-66 1-42 1 87 1-54 1 22 1-23 1 98 1 47 1 74 1-199 1 63 1 28 1-135 1 146 1 91 1-24 1-112 1-105 1 64 1 101 1-20 1-46 1 97 1-23 1 13 1-126 1 84 1-62 1 25 1-33 1 27 1-30 1 26 1-172 1 21 1 225 1-102 1-27 1 21 1-130 1 130 1-33 1 60 1 151 1-139 1-77 1 134 1-89 1 85 1-6 1-1 1-44 1-92 1-65 1 78 1-62 1 49 1-30 1 31 1 28 1 54 1-45 1 34 1 50 1-71 1 74 1 7 1-165 1 55 1 133 1 1 1-124 1 152 1-133 1-65 1 127 1-106 1 4 1 8 1 86 1-23 1 25 1-43 1-130 1 107 1-30 1 36 1-24 1 77 1-48 1-117 1 19 1 17 1-7 1 225 1-167 1-22 1-25 1-60 1 116 1-19 1 111 1 45 1-129 1-143 1 66 1 106 1-45 1-16 1 38 1-5 1-52 1 82 1-86 1 126 1 78 1-11 1-156 1-55 1 102 1-5 1-84 1 40 1-9 1 17 1 34 1-45 1-38 1-100 1 209 1-98 1 159 1-74 1 5 1-47 1 13 1 52 1-187 1 204 1 17 1-156 1 126 1-97 1 21 1 22 1-62 1 8 1-2 1-11 1-74 1 210 1 11 1-95 1-40 1 131 1 7 1-84 1-16 1 47 1 17 1-24 1 9 1-38 1-73 1 87 1 46 1-28 1-50 1-20 1-3 1 88 1-39 1 95 1-76 1-86 1 87 1-17 1-90 1 97 1 33 1 59 1-37 1-82 1 43 1-59 1 90 1 64 1-82 1-150 1 78 1 45 1 13 1-71 1 117 1 36 1-213 1 84 1 76 1 36 1-32 1 32 1-110 1-35 1 9 1 79 1 66 1-67 1-25 1 14 1-55 1 51 1 12 1 35 1-70 1 67 1-44 1-34 1-44 1 98 1-27 1-4 1 5 1-111 1 75 1 14 1 87 1-1 1-10 1 106 1-138 1-65 1 21 1-27 1-22 1 196 1 28 1-117 1-49 1-85 1 74 1-26 1-47 1 55 1 15 1-22 1-70 1 102 1-50 1-26 1 106 1-117 1 12 1 89 1 32 1-21 1-122 1 26 1 76 1-65 1-40 1 27 1-17 1 69 1 56 1-65 1-15 1 108 1 18 1-77 1-104 1 103 1 127 1-110 1-36 1-55 1 125 1 23 1-31 1 95 1-194 1-141 1 213 1 16 1 7 1 1 1-50 1-106 1 45 1 85 1 77 1-72 1 85 1-53 1-126 1 5 1-117 1 163 1-23 1 18 1 126 1-213 1 11 1 42 1 2 1 132 1 22 1-36 1-53 1 7 1-50 1 102 1 44 1-4 1-143 1 83 1-36 1 116 1-16 1-69 1-69 1 43 1-49 1-12 1 76 1-21 1-13 1-109 1-29 1 5 1-6 1 140 1 51 1-34 1-116 1 12 1 49 1 27 1-5 1 188 1-98 1 18 1 71 1-204 1-66 1 128 1-84 1 89 1 62 1-83 1 15 1-2 1 99 1-74 1-34 1 21 1-5 1-4 1-7 1 96 1-104 1 18 1-22 1 34 1-137 1 144 1-67 1 32 1 160 1-188 1 42 1-33 1-2 1-3 1-6 1 134 1-125 1 144 1-59 1-99 1-71 1 143 1-22 1 50 1 83 1-150 1-17 1-4 1-73 1 61 1-65 1 18 1 11 1 0 1 49 1 80 1-22 1-184 1 169 1-47 1-29 1 87 1-100 1-21 1 42 1 121 1-54 1 63 1-47 1-10 1-77 1 21 1-28 1 17 1 92 1 2 1-28 1 38 1-100 1 201 1-15 1-85 1-56 1 21 1-52 1-4 1-49 1 40 1 15 1 133 1-57 1-111 1 12 1 64 1 27 1 62 1 29 1-53 1-52 1-101 1 106 1-14 1-34 1-17 1 74 1 18 1-92 1 149 1-44 1-155 1 218 1-88 1-61 1-12 1 85 1-75 1-1 1-115 1 101 1 6 1 10 1 107 1-49 1-19 1-21 1-17 1-3 1 114 1 30 1-84 1 17 1 79 1-64 1-49 1 0 1-73 1 50 1-35 1-15 1 92 1-123 1 24 1-64 1-25 1 160 1-92 1 102 1-64 1 6 1 40 1 84 1-43 1-87 1 65 1 35 1 52 1-106 1-44 1-48 1 3 1 141 1 49 1-152 1 84 1-175 1 82 1-67 1 22 1 181 1-37 1-27 1 66 1-109 1 64 1 7 1 41 1-48 1-67 1 27 1-103 1 144 1 44 1-55 1-38 1 49 1 25 1-23 1-146 1 162 1-25 1-89 1 8 1-34 1 100 1-71 1 66 1-15 1 9 1 53 1-19 1 2 1-100 1-11 1-85 1 185 1-98 1-2 1-29 1 19 1 143 1-148 1 33 1-45 1 41 1 40 1 26 1-32 1 25 1-59 1 184 1-54 1-21 1-122 1-29 1 63 1 59 1 66 1-85 1-132 1 121 1-89 1 80 1 40 1 40 1 11 1-87 1 51 1-37 1 120 1-125 1-14 1 120 1-148 1 82 1-109 1 87 1-108 1 182 1-11 1-22 1 46 1-158 1 63 1-6 1 1 1-73 1 56 1 71 1-77 1-89 1-72 1 208 1-114 1 63 1 154 1-86 1 46 1-48 1-4 1 16 1-56 1 35 1 19 1-109 1 65 1 23 1 11 1-37 1-32 1-40 1-3 1 64 1 47 1-98 1-37 1 113 1 87 1-111 1 27 1 82 1-167 1 92 1 21 1 38 1-43 1 41 1-126 1-52 1 91 1-50 1 73 1 62 1-64 1 43 1-44 1-35 1-11 1 58 1 116 1-148 1-66 1 33 1-88 1 133 1 109 1-170 1 33 1-75 1 77 1 13 1 98 1-57 1 49 1-118 1 80 1-49 1-106 1 55 1 22 1-28 1 45 1-54 1 67 1-99 1 157 1-46 1-42 1-13 1 30 1-36 1 23 1-47 1 111 1-39 1 63 1-110 1 62 1 153 1-157 1-59 1-33 1 5 1-72 1 215 1-34 1-39 1 37 1 105 1-174 1 34 1 37 1-43 1 182 1-223 1-11 1-30 1 75 1 26 1 118 1-185 1 104 1-4 1 26 1-81 1-25 1 74 1-98 1-10 1 103 1-51 1 98 1-77 1 12 1-102 1 92 1-191 1 40 1 169 1-20 1 46 1-136 1 91 1 23 1-53 1-34 1 70 1 44 1-11 1-38 1 24 1-19 1-114 1 119 1-21 1-7 1 81 1-88 1 18 1-52 1-153 1 110 1-37 1-31 1 162 1 110 1-104 1 59 1-57 1-82 1 63 1 60 1 121 1-133 1 99 1-48 1-100 1 114 1-51 1-68 1 13 1 66 1-79 1-64 1 85 1-3 1-54 1-31 1 139 1-75 1-35 1-99 1 67 1 87 1 21 1-106 1 210 1-212 1 66 1-155 1 89 1 67 1 72 1 62 1-130 1-92 1 95 1 39 1-46 1 102 1-70 1 71 1-165 1 53 1 96 1-85 1 137 1-75 1 131 1-119 1-98 1-14 1 53 1-33 1-90 1 52 1 75 1-26 1-28 1 181 1-96 1 42 1-188 1 60 1 112 1-30 1-70 1-115 1 81 1 154 1 21 1-30 1-58 1-12 1-5 1-113 1 22 1 59 1 101 1 17 1-50 1-54 1-9 1-136 1 184 1-29 1 17 1 13 1-26 1 83 1 26 1 51 1-76 1-112 1 29 1 39 1 9 1 31 1 64 1-97 1-58 1 220 1-199 1-25 1 50 1 94 1-69 1-112 1 98 1-11 1-59 1-38 1 35 1-3 1-9 1 55 1-53 1-4 1 61 1-98 1 36 1 99 1-57 1 79 1-105 1-33 1-49 1 11 1 108 1-44 1-51 1 63 1-12 1 1 1 32 1 61 1-39 1 21 1 2 1 19 1-99 1-63 1 15 1 83 1 117 1-62 1-114 1 65 1-21 1-153 1 63 1-36 1 154 1-46 1 163 1-95 1 22 1-75 1 49 1-22 1-4 1 10 1-64 1 71 1 73 1-64 1-23 1 14 1-27 1-93 1 73 1-7 1 31 1 31 1 45 1-65 1-133 1 211 1-98 1 188 1-135 1 65 1-184 1 49 1 43 1 83 1-149 1-7 1-19 1 11 1 138 1-22 1-43 1 7 1-70 1 186 1-63 1-103 1 83 1-28 1 118 1-132 1 103 1 53 1-54 1-96 1 75 1-88 1-88 1 300 1-83 1-38 1-50 1-144 1 64 1-13 1-41 1 36 1-96 1 61 1 191 1-93 1-48 1 144 1-37 1-86 1 95 1-4 1 27 1-118 1 7 1 5 1-10 1-57 1 50 1-32 1 77 1 48 1-147 1 149 1-92 1-56 1 94 1-51 1-3 1 62 1 2 1-211 1 202 1 47 1-79 1-79 1 99 1 72 1-8 1-20 1-18 1 98 1-46 1-104 1 65 1-25 1 12 1 121 1-53 1-218 1 29 1 55 1 110 1-105 1-24 1 73 1 62 1-200 1 215 1-52 1 46 1-230 1 192 1-6 1-76 1 39 1-20 1-51 1 80 1 77 1-23 1-67 1-22 1 50 1 53 1 14 1-5 1-56 1-9 1 172 1-145 1 64 1-187 1 109 1-125 1 116 1-9 1 55 1-1 1-47 1-38 1 54 1-105 1 74 1 72 1-145 1 135 1 37 1-87 1-62 1 108 1-18 1-40 1-28 1 70 1-10 1-56 1-22 1 134 1-128 1-145 1 124 1-42 1 66 1 47 1-57 1 105 1-34 1-34 1 100 1 3 1 56 1-113 1-31 1-66 1 82 1-14 1-67 1-46 1 135 1-58 1-123 1 116 1 97 1-111 1-67 1 115 1 117 1-170 1 29 1 89 1 9 1 63 1-136 1-76 1 61 1-25 1-24 1 99 1-13 1-25 1 28 1 17 1-33 1 56 1-121 1 11 1 33 1 25 1 76 1-59 1 66 1-34 1-55 1 23 1-7 1 9 1-164 1 40 1 10 1 34 1-20 1 12 1 112 1 2 1-91 1 22 1-30 1 69 1 28 1-19 1-56 1 46 1-121 1 161 1-206 1 35 1 3 1 22 1 23 1 235 1-5 1-26 1-138 1 75 1-123 1 52 1-15 1 0 1-37 1-3 1-20 1-106 1 210 1-50 1-42 1 139 1-152 1 85 1 2 1-30 1-40 1 22 1-29 1 32 1 81 1-22 1 57 1-36 1 61 1 80 1-123 1-73 1-65 1 1 1 144 1 36 1-78 1 117 1 5 1-159 1-21 1-95 1 182 1 42 1-119 1-28 1 113 1-70 1 88 1-54 1-109 1-86 1 220 1-101 1 52 1 109 1-51 1-37 1-131 1 47 1 114 1 25 1-37 1-82 1 116 1-112 1 73 1 75 1 6 1-80 1 53 1-98 1 34 1-5 1-53 1 23 1-31 1 16 1-108 1 120 1-45 1 103 1-31 1-14 1-34 1 18 1-10 1 10 1 116 1 98 1-132 1 84 1-20 1-21 1-62 1-44 1 78 1-66 1 78 1-11 1 29 1-213 1 52 1 96 1-3 1 61 1-70 1-47 1-119 1 135 1 34 1-50 1 30 1-81 1 88 1-2 1 34 1-30 1 15 1-54 1 123 1-32 1-86 1 66 1-13 1-177 1 121 1 142 1 58 1-70 1-13 1-125 1-12 1-123 1 85 1 153 1 62 1-183 1 64 1-11 1-44 1-68 1 112 1 61 1 26 1-40 1-153 1 197 1-107 1-10 1 82 1-115 1 34 1 2 1 62 1-148 1 102 1 4 1 68 1-199 1-15 1 53 1 141 1 36 1-74 1 26 1-31 1 50 1-137 1 103 1 104 1-65 1-55 1 20 1 63 1-11 1 7 1-39 1-84 1-59 1 134 1 45 1-8 1-105 1-74 1 98 1-44 1 107 1-109 1 41 1 21 1-2 1-17 1 73 1-91 1 75 1 12 1 11 1-75 1-27 1 60 1 56 1-131 1 43 1-44 1 90 1-73 1 39 1-82 1-7 1 166 1-186 1 8 1 93 1-19 1 47 1-29 1-17 1 157 1-171 1 94 1 41 1 15 1-36 1-196 1-5 1 54 1 63 1 2 1-47 1 74 1-18 1 67 1 51 1-119 1 66 1 106 1-82 1-163 1-139 1 40 1 132 1-1 1 175 1-50 1 12 1-78 1-147 1 123 1-14 1-32 1 158 1-104 1-19 1-27 1-41 1 94 1-120 1 107 1 12 1-30 1 19 1-86 1 74 1-10 1-126 1-14 1 38 1 33 1-19 1 141 1-31 1-30 1 44 1-70 1 72 1-17 1 29 1-70 1 33 1 67 1-4 1 40 1 25 1-59 1-37 1-11 1-61 1 24 1-17 1 40 1 47 1-230 1 144 1-79 1-11 1 88 1 92 1 99 1-138 1-74 1 184 1-133 1-58 1 49 1 111 1-43 1-93 1 76 1-32 1-75 1 114 1-111 1 156 1-30 1 15 1-3 1-125 1 38 1-32" fill="none" stroke="#000" stroke-width="0.8" stroke-linejoin="bevel" vector-effect="non-scaling-stroke"/>
<path transform="translate(959 285.5) scale(0.24073 .1)" d="M0 39l1 1 1-47 1 62 1 46 1 823 1-905 1-64 1 925 1 60 1-19 1-149 1-787 1 92 1-2 1-117 1-8 1 161 1-258 1 181 1-46 1 63 1-19 1-105 1-56 1 131 1-28 1 190 1-54 1-54 1 76 1-56 1-23 1 788 1 24 1-195 1 260 1-110 1 26 1 70 1-122 1 107 1 33 1-81 1 156 1-45 1-64 1-139 1 298 1-152 1-42 1 105 1-40 1-95 1 9 1-27 1 72 1 213 1-153 1-32 1-6 1-141 1 119 1-13 1-20 1-17 1 53 1-51 1 5 1-170 1 36 1 253 1-206 1 2 1-33 1 168 1-34 1-41 1-8 1 19 1 108 1-11 1 110 1-112 1-46 1-109 1 208 1-194 1 183 1-116 1 222 1-68 1 77 1-151 1-81 1 73 1-122 1 27 1-73 1 37 1 129 1 15 1-138 1-34 1 87 1 12 1 75 1-4 1-198 1-39 1 222 1 79 1-193 1-54 1 20 1 152 1-47 1 302 1-159 1-104 1-134 1 31 1-114 1-720 1 99 1 44 1-104 1 97 1-46 1-42 1 89 1-63 1-103 1 56 1 118 1-181 1 123 1 45 1-156 1 46 1 68 1-7 1 73 1-40 1-207 1 98 1 61 1-38 1 53 1 77 1-166 1 114 1-64 1 20 1 76 1-90 1 9 1-61 1 101 1-8 1-85 1 65 1-56 1 918 1 64 1-108 1 113 1-73 1-790 1 43 1-125 1 0 1 4 1-1 1 2 1 82 1-193 1 98 1 34 1 41 1-10 1-83 1 117 1 0 1 47 1-39 1-140 1-30 1 121 1-29 1-51 1 152 1-83 1 42 1 39 1-168 1 634 1-78 1-26 1-158 1-389 1-28 1-8 1 123 1 9 1-62 1-32 1 64 1-42 1 36 1 26 1 60 1-54 1-149 1 100 1 35 1 46 1-42 1-59 1 28 1-101 1-12 1 158 1-5 1 18 1-67 1 47 1-56 1-32 1 55 1 72 1-105 1 175 1 623 1 77 1-211 1 152 1 12 1 84 1-77 1 55 1-909 1 78 1 37 1 149 1-234 1-49 1 122 1 37 1-137 1 72 1-144 1 194 1 104 1-102 1-9 1-17 1-24 1 31 1-125 1 94 1-36 1-45 1 166 1-126 1-71 1 26 1 33 1 64 1-87 1 68 1-18 1-27 1 42 1-107 1 19 1 68 1 46 1 78 1-200 1 83 1 32 1-97 1 84 1 37 1-61 1 38 1 16 1-122 1 217 1-104 1 12 1-29 1-21 1-131 1 197 1-68 1-60 1 110 1-93 1 148 1-64 1-72 1 37 1 4 1 16 1 26 1 32 1 43 1-86 1-55 1 12 1-59 1 25 1 73 1 35 1-14 1 41 1 37 1-138 1-15 1 68 1-44 1-6 1 77 1-82 1 103 1-98 1-3 1 2 1 55 1 123 1-121 1 27 1-167 1 208 1-169 1-21 1 153 1 1 1-112 1 3 1 75 1-8 1 157 1-79 1-47 1-51 1-57 1-57 1 102 1-76 1-54 1 181 1 35 1-90 1 16 1 58 1-50 1-22 1 47 1-75 1-73 1-24 1 68 1-2 1 21 1 92 1 64 1-108 1-77 1 181 1-35 1-121 1 80 1 5 1-62 1-28 1-80 1 207 1-113 1-17 1 111 1 0 1 11 1 0 1-50 1-154 1 145 1-17 1-17 1 109 1-51 1 117 1-133 1 68 1-155 1 32 1 8 1 27 1 122 1-180 1 55 1-69 1 16 1 60 1-106 1-45 1 82 1 1 1-31 1 31 1 20 1 32 1-145 1 130 1 64 1-122 1 90 1 77 1-38 1 1 1-63 1-23 1 79 1-118 1 79 1 81 1-65 1 56 1-42 1-93 1 80 1-8 1-17 1 6 1 51 1-153 1 66 1 2 1-90 1 138 1 11 1-24 1 56 1-75 1-67 1 13 1 91 1 40 1 34 1-137 1-5 1 16 1-110 1 100 1 98 1-15 1-1 1-117 1 109 1-18 1 78 1-134 1 103 1-26 1 19 1 83 1-115 1-93 1 198 1 15 1 42 1-92 1 443 1-225 1-71 1 124 1 71 1 79 1-116 1-37 1-43 1 39 1-57 1 65 1-35 1 113 1-82 1-112 1 88 1 106 1 15 1-4 1-575 1 42 1 58 1 65 1-40 1 125 1-203 1 219 1-64 1-64 1-14 1 13 1-89 1-73 1 188 1-110 1 127 1-122 1 112 1-31 1 16 1 78 1-137 1 7 1 119 1-71 1-68 1 28 1-17 1-30 1 139 1-114 1-29 1-9 1 19 1 74 1 61 1 41 1-74 1 30 1-60 1-112 1 76 1 68 1 0 1-11 1-52 1 81 1-183 1 81 1 95 1 17 1-11 1 14 1-66 1 11 1-60 1 88 1-89 1 191 1-189 1 53 1 65 1-62 1-75 1 98 1 67 1-120 1 57 1-188 1 146 1-102 1 166 1-54 1 125 1-105 1-48 1-16 1 1 1 23 1 115 1-123 1 0 1-35 1 186 1-59 1-108 1 88 1 3 1 20 1-247 1 183 1 0 1 31 1 19 1-101 1 48 1 16 1 73 1-11 1-144 1 67 1 23 1-2 1-85 1-85 1 50 1 93 1-148 1 210 1 44 1-71 1-17 1 67 1-173 1 95 1 25 1-11 1 110 1-15 1-78 1-111 1 96 1-22 1 68 1 52 1-81 1-96 1 79 1 52 1-57 1-97 1 97 1 37 1-20 1-77 1-18 1-128 1 194 1-29 1 90 1-118 1 111 1 16 1-93 1-66 1-37 1 140 1-170 1 94 1-44 1-25 1 101 1 151 1-124 1-53 1-4 1 74 1 62 1 36 1-82 1-14 1 15 1-35 1-94 1-6 1 127 1 30 1-133 1 140 1-96 1 105 1-118 1 69 1-40 1-149 1 106 1 87 1-48 1-51 1-39 1 206 1-93 1 36 1-28 1-97 1 86 1-9 1-13 1 80 1-60 1 3 1 25 1-144 1 247 1-148 1-72 1 172 1-49 1-6 1-72 1 141 1 8 1-85 1-15 1 148 1-28 1-41 1-75 1-117 1 29 1 190 1-178 1 73 1-22 1-24 1-1 1 91 1-33 1-70 1-11 1-87 1 108 1 164 1-189 1 59 1-51 1 76 1-2 1 30 1-153 1 118 1 25 1-232 1 72 1 66 1-3 1 20 1 92 1-107 1-11 1 88 1-47 1-69 1 164 1-219 1 60 1-60 1 105 1 135 1-112 1 82 1 130 1-83 1-263 1 150 1-33 1-45 1 182 1-106 1 47 1 184 1-22 1-83 1-76 1-77 1 58 1-54 1-104 1 112 1 42 1-65 1 32 1 57 1-79 1-1 1-41 1 179 1-112 1 41 1-35 1-34 1-15 1-38 1-33 1-9 1 94 1 31 1 1 1 12 1-31 1-51 1-26 1 5 1 18 1 159 1-64 1 176 1-125 1 13 1-110 1-51 1 108 1 141 1-6 1-103 1-104 1-18 1 24 1 30 1 91 1-69 1-25 1 68 1-27 1-50 1 56 1 89 1 23 1-2 1-159 1 2 1 52 1-14 1-102 1-2 1-6 1 61 1 127 1-52 1-127 1-72 1 151 1 18 1 2 1 87 1-66 1-65 1-20 1 75 1 24 1-121 1 23 1 81 1-83 1 163 1-137 1-91 1 149 1-40 1-62 1 140 1-103 1 63 1 78 1-57 1-119 1 88 1 49 1-151 1 52 1-68 1 57 1 105 1-72 1-92 1 159 1-24 1-68 1 7 1-3 1-9 1 79 1-60 1-3 1 62 1 88 1-138 1-80 1 224 1-213 1 98 1-66 1 74 1 27 1-36 1-40 1 45 1-98 1-74 1 120 1-75 1 158 1 44 1-58 1-108 1 41 1 98 1-1 1-52 1 115 1-56 1-99 1 100 1-26 1 16 1-13 1-30 1-6 1 92 1-72 1-14 1-8 1-31 1-9 1 3 1 0 1 2 1 57 1 53 1-67 1 46 1 94 1-166 1 136 1-149 1 45 1 15 1 33 1 35 1-166 1 25 1 120 1-89 1 39 1 5 1-61 1-17 1 76 1-223 1 193 1 1 1 26 1-22 1-66 1 53 1 5 1 98 1-101 1 36 1-121 1 193 1-8 1 41 1-132 1-67 1 40 1 131 1-243 1 68 1 78 1-52 1 4 1-43 1 185 1-169 1-61 1 45 1-19 1 62 1 201 1-21 1-150 1 26 1 136 1-169 1 83 1 5 1-16 1-46 1 45 1 10 1-126 1 125 1-150 1 86 1-21 1 5 1-29 1 90 1-22 1-9 1-33 1 30 1 15 1 15 1-18 1 71 1 9 1-22 1-15 1 44 1 7 1-87 1 124 1-78 1-15 1 29 1-232 1 128 1-37 1 134 1-17 1-42 1 30 1-248 1 210 1-91 1 59 1-68 1 21 1 53 1 36 1 0 1 91 1-204 1 75 1 140 1-198 1 28 1-25 1 44 1-122 1 135 1-87 1 71 1 112 1 16 1-135 1-222 1-42 1 16 1-96 1-72 1 284 1-245 1-137 1 6 1 58 1-27 1 134 1-11 1-191 1 106 1 45 1 6 1-55 1-87 1 54 1 276 1-131 1-101 1-89 1-32 1 49 1 111 1-73 1-134 1 2 1 261 1 37 1-64 1-151 1 44 1 58 1-6 1-102 1 10 1 118 1-135 1 56 1-35 1-43 1-34 1 103 1 40 1 113 1-3 1 159 1-237 1 66 1-141 1 114 1-34 1 33 1 14 1-124 1 76 1-143 1 23 1 181 1-124 1-33 1 105 1 490 1-99 1-62 1-37 1 74 1 63 1-128 1-13 1 69 1 131 1-21 1-3 1-31 1-18 1 92 1-17 1-20 1 14 1-38 1-75 1 49 1-38 1 112 1 1 1-47 1-85 1-36 1 200 1-110 1-70 1 32 1 28 1-2 1-56 1 56 1 114 1-94 1-42 1-13 1-64 1 114 1-7 1 35 1 53 1-120 1 12 1-13 1 48 1-93 1 122 1-185 1 167 1-31 1-29 1 0 1 36 1 2 1 82 1-147 1-73 1 72 1 24 1-33 1 37 1-5 1 60 1 42 1-51 1-17 1-35 1 51 1 82 1-681 1 54 1-42 1 142 1 388 1-34 1-11 1 78 1-33 1 11 1-23 1-42 1 62 1 10 1 73 1-80 1 1 1 17 1 6 1 9 1-87 1-31 1 113 1-72 1 33 1 93 1-88 1-114 1 75 1-16 1 81 1-15 1 9 1-126 1 80 1 69 1-78 1 12 1 61 1 2 1-13 1-77 1 31 1 66 1-19 1 26 1-90 1 46 1 69 1-57 1-39 1 107 1-3 1-42 1-65 1-40 1 41 1-6 1 30 1-43 1 111 1-61 1-65 1 4 1 60 1 42 1-58 1 46 1-50 1 27 1 123 1-129 1 18 1 95 1-212 1 0 1 66 1 93 1-137 1 95 1-41 1-14 1 79 1-18 1-124 1 55 1 104 1-56 1-48 1-95 1 43 1 188 1-115 1-774 1 193 1-96 1 6 1-141 1 34 1-79 1 65 1-27 1-35 1-10 1 98 1-77 1 83 1-137 1 42 1 181 1-38 1-29 1-13 1-60 1 159 1-155 1 784 1 34 1 106 1-76 1-31 1 27 1 66 1-21 1-65 1-17 1-43 1 25 1 7 1-2 1-24 1 70 1 64 1-56 1 35 1-25 1 110 1-93 1 47 1-146 1-9 1 72 1 8 1 3 1-47 1 16 1-64 1 20 1-141 1 175 1-47 1 97 1-52 1 83 1-1 1-16 1-136 1 54 1 28 1-95 1 129 1-66 1-66 1 164 1 7 1-57 1 9 1-22 1-122 1 68 1 121 1-27 1-65 1 2 1 39 1-6 1-102 1 99 1-19 1 97 1-94 1 202 1-122 1-92 1 48 1 49 1-53 1 98 1-1 1-31 1-57 1-58 1 151 1-19 1 2 1-1051 1 13 1-73 1-104 1 84 1 990 1 57 1 48 1-12 1-55 1 69 1 66 1-90 1-142 1 243 1-67 1-93 1 92 1 15 1-68 1 60 1-99 1 64 1-45 1 124 1-86 1-25 1-868 1-253 1 201 1 56 1 97 1-33 1-5 1-94 1-39 1-71 1-218 1 47 1 176 1-62 1 107 1 10 1 60 1-9 1-169 1-66 1 219 1-47 1 1012 1-19 1-981 1-47 1 113 1-80 1-93 1-61 1 118 1 50 1-49 1-93 1 261 1-177 1 9 1 230 1-88 1 112 1-286 1 187 1-98 1-54 1-87 1-69 1 213 1 3 1-204 1 1108 1-963 1-10 1-77 1 196 1-40 1-46 1-26 1 102 1-117 1 82 1-10 1 89 1-83 1 134 1-312 1-37 1 233 1-65 1 41 1-45 1-16 1 14 1 47 1 188 1-143 1-177 1 119 1-19 1 33 1 931 1 99 1-31 1 14 1 9 1 23 1-984 1-77 1 1113 1-1000 1-212 1-50 1 160 1-29 1-13 1-165 1 137 1 6 1 54 1-51 1 15 1-13 1 61 1-117 1 13 1 22 1-103 1 14 1 66 1-2 1-12 1 139 1-254 1 381 1-113 1-158 1-161 1 157 1 44 1-65 1 182 1-69 1-62 1 193 1 25 1-147 1-43 1-35 1 54 1-23 1-66 1 15 1 15 1 66 1-58 1 46 1 72 1 51 1 150 1-196 1-32 1 97 1-133 1-148 1 92 1 72 1 1015 1 24 1-121 1 82 1-1157 1 30 1 99 1-226 1 259 1-115 1 123 1 5 1-93 1 24 1-4 1 63 1-42 1-60 1 97 1 33 1 972 1-90 1 68 1 23 1-61 1-1097 1-43 1 104 1 129 1-134 1 55 1-43 1 156 1 23 1-169 1-14 1 98 1-42 1 190 1 973 1-1074 1 25 1-209 1 1136 1 212 1-91 1 45 1-153 1-73 1 26 1 150 1-135 1-143 1 76 1 91 1 11 1-3 1 21 1-1167 1-23 1 66 1 14 1-119 1-115 1 228 1-65 1 214 1-281 1 99 1-82 1 176 1-150 1-10 1 48 1-178 1 267 1 10 1 55 1-173 1-60 1 42 1 114 1-43 1-19 1-79 1 135 1-128 1 101 1 53 1 51 1-152 1-26 1 59 1 50 1-60 1 53 1-21 1-103 1 152 1-6 1-11 1-117 1 140 1-150 1 90 1-77 1 121 1 16 1-57 1-15 1 10 1 18 1-97 1 146 1-130 1 51 1-93 1-140 1 1343 1 107 1-1160 1-126 1 36 1-2 1 159 1-134 1 22 1 128 1 926 1-1139 1-130 1 142 1-1 1 9 1 107 1-38 1-5 1-64 1-72 1-13 1 90 1-102 1-18 1 16 1 83 1-79 1 116 1-37 1 182 1 222 1-100 1-217 1-24 1 1134 1-61 1-1214 1 115 1 38 1-45 1-220 1 111 1 1280 1 68" fill="none" stroke="#000" stroke-width="0.8" stroke-linejoin="bevel" vector-effect="non-scaling-stroke"/>
<path transform="translate(959 285.5) scale(0.24073 .1)" d="M0 43l1 20 1-167 1 63 1 85 1 866 1-108 1 97 1-8 1-78 1 75 1-124 1-34 1 141 1 43 1-6 1-849 1-57 1 8 1 81 1-63 1 89 1 34 1 37 1 36 1-82 1-79 1-48 1-5 1 70 1-49 1-17 1-37 1 90 1 153 1-124 1-74 1-16 1 0 1 12 1 141 1-105 1 66 1-68 1 0 1-5 1 16 1-89 1 88 1 19 1 868 1-301 1 141 1-85 1 63 1-81 1 247 1-89 1 59 1-11 1-161 1 15 1-23 1 179 1-124 1 35 1 129 1-68 1-8 1 56 1-21 1 15 1-62 1-108 1 239 1-117 1-92 1 13 1 123 1-38 1-99 1-21 1 149 1-109 1 134 1-89 1 153 1-23 1-210 1-17 1 54 1 78 1 109 1 123 1-184 1-270 1 147 1 157 1 132 1-216 1-49 1 35 1 134 1-28 1-99 1-60 1 74 1-33 1-16 1-55 1 149 1-143 1 161 1-194 1 43 1 172 1 95 1 53 1-52 1-66 1 53 1-144 1 52 1-835 1-97 1 69 1-55 1 5 1-93 1 14 1 147 1 11 1-126 1-50 1 88 1-22 1 32 1 84 1-10 1-64 1 67 1-131 1 59 1 57 1-157 1 79 1-45 1-1 1-60 1-9 1 227 1-7 1-20 1 4 1-23 1-68 1-5 1-4 1 13 1 157 1-44 1-78 1-2 1 756 1-40 1 5 1 145 1-35 1-821 1-95 1-41 1 154 1 3 1-20 1-93 1 24 1 44 1-43 1 88 1 78 1-21 1 49 1-29 1-85 1-46 1 14 1 45 1-61 1 5 1-99 1-123 1 70 1 148 1 43 1-75 1 52 1 763 1-106 1 23 1-70 1-556 1-115 1 71 1-19 1 43 1-43 1-45 1 69 1-25 1 75 1 7 1-71 1-2 1 17 1-4 1-95 1-14 1 8 1 150 1-57 1 41 1-8 1 46 1-171 1 88 1-59 1 59 1 40 1-63 1-83 1 89 1 5 1 44 1 871 1-67 1-145 1 36 1 5 1-112 1 16 1 165 1-836 1-1 1 110 1 10 1-58 1-141 1 196 1-106 1 66 1-16 1-65 1 83 1-24 1-72 1 10 1 54 1-147 1-20 1 45 1 32 1 23 1 59 1 15 1 117 1-150 1 13 1 75 1-121 1 3 1 22 1 11 1-25 1 31 1 1 1 138 1-126 1-32 1 85 1-52 1 95 1-61 1-17 1-124 1 2 1 95 1 87 1-73 1 18 1 40 1-19 1 12 1 2 1 37 1-13 1-89 1 130 1 35 1-82 1-33 1 102 1-176 1 84 1-85 1 12 1 15 1 25 1 57 1-47 1 29 1-83 1-21 1 102 1 19 1-73 1 21 1-57 1 115 1 78 1-117 1-33 1 59 1-40 1-86 1 115 1 3 1-52 1 41 1-46 1-30 1 100 1-56 1-96 1-36 1 89 1-26 1 144 1-76 1-55 1 39 1-62 1 97 1 61 1-14 1 97 1-67 1-116 1 86 1-70 1-4 1 19 1-27 1-42 1 1 1 178 1-120 1-97 1 69 1 47 1-39 1 13 1-104 1 95 1-34 1 56 1 32 1 91 1-170 1 83 1 90 1-111 1 8 1 64 1-88 1 29 1 18 1-60 1-72 1 96 1 20 1 77 1-193 1 11 1 21 1 3 1 58 1-114 1 113 1-12 1-80 1 36 1-80 1 83 1-117 1 89 1-64 1 63 1 25 1-2 1 1 1 88 1-90 1-69 1 20 1-191 1 117 1 52 1 69 1-27 1-24 1 57 1 109 1-67 1-130 1 82 1-13 1-20 1 19 1 52 1-46 1 60 1-106 1-119 1 207 1 21 1-171 1 141 1-2 1-16 1-73 1 135 1-73 1 86 1-123 1-36 1 110 1 24 1 5 1 34 1-9 1-33 1-36 1-3 1-85 1 143 1 62 1-110 1-94 1 155 1-146 1-22 1-20 1 44 1-20 1 74 1 26 1-9 1-25 1 32 1 95 1-135 1 21 1-48 1 205 1-276 1 93 1 57 1-27 1 72 1 29 1-47 1-83 1 167 1-233 1 727 1-102 1-114 1-60 1-75 1 113 1 44 1 36 1-7 1-113 1 97 1 91 1-51 1-245 1 27 1 127 1 45 1 63 1-122 1 58 1-54 1 96 1-45 1-56 1-146 1 125 1-101 1 43 1 22 1 194 1-65 1-146 1 192 1-15 1-165 1-112 1-244 1 72 1 49 1-162 1 73 1 81 1 14 1 19 1-67 1-64 1 61 1 31 1-101 1 139 1-20 1-107 1 100 1-106 1-29 1 141 1-117 1-58 1-5 1 86 1 71 1 7 1-146 1-25 1 133 1-160 1 42 1 38 1 10 1 9 1 7 1-32 1 149 1-99 1 14 1 53 1-32 1-25 1-17 1-15 1 71 1-41 1-46 1-35 1-6 1 55 1-26 1 109 1-73 1 6 1 26 1-80 1 77 1-59 1 210 1-229 1 134 1-71 1-58 1 27 1 19 1-21 1-19 1 68 1 78 1 2 1-94 1-16 1 66 1-75 1 10 1-84 1 4 1 148 1-24 1-86 1-72 1 94 1-18 1 55 1-52 1 28 1-22 1 120 1-86 1 50 1-99 1-5 1 115 1-75 1 18 1 14 1 74 1-174 1 100 1-23 1 122 1-194 1-9 1-17 1 147 1 14 1-80 1 9 1 13 1-57 1 150 1-38 1 18 1-80 1-82 1-65 1 253 1-238 1 232 1-16 1 22 1-190 1-42 1-64 1-38 1 66 1 104 1 23 1-18 1 71 1 76 1-134 1-39 1 70 1-150 1 139 1 30 1 73 1-37 1-124 1 18 1 86 1 5 1-55 1 31 1-25 1 66 1 117 1-295 1 104 1-74 1 98 1-46 1 116 1-4 1-60 1 37 1 1 1 21 1-36 1 27 1 4 1 115 1-41 1-46 1-61 1-108 1 23 1 74 1 16 1 76 1-32 1-107 1 41 1-43 1 16 1-33 1 35 1 162 1-6 1-245 1 13 1 193 1 47 1-70 1-19 1-53 1 58 1 11 1 91 1-93 1-106 1-29 1 56 1 86 1-91 1 81 1-48 1-69 1 118 1-55 1 55 1 63 1-195 1 194 1-20 1-110 1 93 1-40 1-58 1-26 1 45 1 120 1-85 1-1 1 56 1-112 1-6 1 27 1 6 1-127 1 139 1 26 1-28 1 202 1-81 1-85 1-67 1 18 1 7 1 67 1-34 1-108 1 95 1-67 1 100 1-130 1 112 1 60 1-38 1-115 1 3 1 56 1 141 1 39 1-155 1-52 1 46 1 17 1-98 1 10 1-44 1 107 1-25 1-77 1 61 1 106 1-170 1 82 1-45 1 162 1-77 1 70 1-4 1-55 1-84 1 2 1-87 1 74 1 40 1 9 1 90 1-73 1 35 1 7 1-34 1-9 1 154 1-305 1-53 1 92 1-29 1 188 1-73 1 13 1 49 1 170 1-10 1-268 1-59 1 52 1-22 1 122 1-21 1-28 1-102 1 60 1 144 1-60 1-15 1 60 1-80 1 10 1 25 1 134 1 114 1-168 1-58 1-56 1-153 1 153 1-93 1 17 1 130 1 42 1-155 1-5 1 33 1-43 1 109 1-91 1 56 1 63 1-29 1-9 1 3 1-75 1 59 1 12 1 122 1-120 1-95 1 6 1 128 1-18 1-8 1-16 1-7 1 2 1-51 1 2 1-55 1 108 1 10 1-84 1 98 1 48 1-76 1-28 1 85 1-76 1-36 1 109 1 35 1 27 1-66 1-64 1-82 1 50 1 8 1-42 1-42 1 30 1 154 1-172 1 114 1-72 1-105 1 148 1-87 1 137 1 124 1-152 1 116 1-206 1 52 1 72 1-74 1 26 1 97 1-39 1-34 1 84 1-56 1 12 1 66 1-148 1-62 1 187 1-84 1 74 1-119 1 49 1 43 1-210 1 169 1-10 1 53 1 13 1-91 1 58 1 42 1 97 1-114 1-92 1 43 1 94 1-26 1-148 1-42 1 29 1 113 1-29 1 67 1-19 1-14 1-14 1-132 1 47 1 41 1-87 1 86 1 50 1-51 1 78 1-166 1 12 1 32 1 4 1 92 1 123 1-60 1-74 1-42 1-67 1 6 1 89 1 11 1 41 1 8 1-78 1 58 1-109 1-16 1 49 1 81 1-17 1 34 1-105 1-70 1-63 1 57 1 130 1-39 1 46 1 24 1-1 1-110 1 142 1-115 1 118 1 18 1-109 1 46 1 9 1-86 1-82 1 109 1-32 1 134 1-67 1-60 1-32 1 142 1-29 1-56 1 65 1-147 1 51 1 41 1 29 1-58 1 121 1 1 1-79 1-87 1-13 1 11 1 104 1-23 1-205 1 180 1 12 1-64 1 51 1 75 1-42 1-101 1-4 1-26 1-39 1 13 1 36 1 53 1 221 1-121 1-96 1-95 1 61 1 23 1-20 1-43 1-8 1 48 1-1 1 79 1 177 1-232 1-74 1-24 1 149 1-40 1-13 1-461 1 157 1-112 1 6 1-100 1 89 1 218 1-84 1 32 1-195 1 137 1-107 1 77 1 5 1-62 1 76 1-1 1-7 1-35 1 61 1-256 1 227 1 29 1-22 1-53 1-42 1 101 1-70 1 158 1-194 1 1 1 121 1-72 1 39 1-52 1-58 1 32 1 103 1-111 1 189 1 15 1-65 1 85 1-126 1 42 1-59 1 74 1-46 1-77 1-55 1 68 1-21 1-14 1 116 1-159 1-68 1 108 1 162 1 60 1-110 1-78 1-42 1 68 1 46 1-29 1 436 1-54 1 29 1 24 1-9 1 23 1-99 1 181 1-104 1 45 1 103 1-144 1-15 1 65 1-47 1 125 1-158 1-88 1 202 1-196 1 22 1-98 1 140 1-58 1 51 1 28 1-25 1 65 1-39 1 25 1-20 1 54 1 6 1 5 1-104 1 32 1 28 1-3 1 10 1-49 1 48 1 19 1-10 1 41 1-65 1 44 1-55 1-48 1 39 1 181 1-190 1-8 1 38 1-56 1 115 1-101 1 8 1-4 1 50 1-42 1 6 1 34 1-37 1 40 1 45 1-79 1 98 1-98 1-15 1 37 1-43 1 171 1-377 1-27 1-72 1-86 1 561 1-128 1 6 1 69 1-82 1-9 1 40 1-79 1 94 1-50 1 3 1-14 1 35 1-37 1 0 1 4 1-33 1 5 1 138 1 99 1-116 1-8 1 24 1-90 1-41 1-17 1 39 1 118 1 70 1 50 1-30 1-299 1-3 1 133 1-61 1 2 1 167 1-112 1-34 1-58 1 48 1-62 1-34 1 163 1-108 1-100 1 126 1 7 1 134 1-165 1-26 1-1 1 32 1 27 1-44 1 81 1 16 1-19 1 107 1-191 1 44 1-184 1 134 1 110 1-108 1 5 1 16 1 23 1 24 1-67 1-6 1 6 1-104 1 144 1 33 1-10 1-38 1 24 1 149 1-94 1 30 1-163 1-63 1 123 1 96 1 57 1-119 1-47 1 164 1-803 1-143 1-4 1 116 1-89 1 133 1 55 1-52 1-151 1 72 1-16 1-79 1 92 1 195 1-83 1-27 1 5 1-152 1-37 1 155 1-109 1 148 1 10 1 744 1-50 1-66 1 135 1-91 1-50 1 85 1 21 1-149 1 89 1-15 1-11 1-1 1-24 1 69 1-134 1 110 1-20 1 30 1-109 1-30 1-14 1 217 1-48 1-32 1 3 1 6 1 15 1 34 1-94 1-10 1 77 1-160 1 91 1 71 1 29 1 7 1-69 1 175 1-57 1-81 1 67 1-109 1-145 1 113 1 117 1 93 1-133 1 12 1-53 1 103 1-41 1-89 1-15 1-55 1 124 1 29 1 90 1-129 1 15 1-67 1 50 1-126 1 269 1-62 1-5 1-67 1 7 1 44 1 56 1-72 1-16 1-14 1-83 1 1 1 85 1 3 1 12 1 36 1-1036 1-148 1-59 1 145 1 3 1 77 1 159 1 32 1-254 1 134 1-134 1 121 1-218 1 87 1 114 1 28 1-27 1 113 1-37 1-255 1 54 1 96 1 56 1 16 1 6 1-35 1-59 1 894 1 153 1-42 1 83 1 21 1-34 1 28 1-101 1-18 1 97 1-119 1 52 1-24 1 15 1 11 1-66 1 48 1-934 1-60 1 27 1-8 1-256 1 291 1-37 1-185 1 148 1 97 1-224 1 106 1-76 1-70 1 101 1 87 1 129 1-128 1-96 1 57 1-38 1-9 1-9 1 225 1-193 1-150 1 232 1-169 1 88 1-91 1 102 1 22 1-31 1-46 1-102 1-26 1 164 1-95 1 134 1 80 1-4 1-97 1 140 1-226 1 59 1 103 1 17 1-53 1-44 1 56 1-73 1 70 1 38 1-42 1-57 1 71 1 6 1-42 1-102 1 2 1-21 1 109 1-3 1-14 1 103 1-26 1-249 1 116 1-86 1 99 1 132 1-42 1 97 1-88 1-146 1 44 1-75 1 75 1 88 1 78 1-191 1 25 1 152 1-45 1-137 1 88 1-182 1 113 1 110 1-212 1 130 1 9 1-70 1-3 1 146 1 122 1-58 1 52 1-179 1-156 1 115 1 55 1-18 1-93 1-10 1 93 1 74 1-187 1-9 1 145 1-9 1 67 1-72 1-48 1-92 1 1153 1 1 1 49 1-40 1 15 1-28 1-11 1-784 1-221 1-120 1 92 1 10 1-8 1-36 1 17 1 102 1-39 1-44 1 117 1-218 1 68 1 68 1-32 1 105 1 39 1-91 1-114 1-70 1 192 1 18 1 1016 1-2 1-42 1-1165 1 146 1-47 1-109 1 210 1-131 1-24 1 130 1-106 1 1065 1 132 1-73 1-87 1 125 1-62 1 46 1-981 1-163 1 43 1 48 1 39 1 85 1-163 1 179 1-238 1 85 1-51 1 26 1-68 1 92 1-209 1 211 1-181 1 80 1 195 1-13 1-63 1-185 1 47 1 38 1 91 1-75 1 33 1-10 1 13 1 61 1-98 1 100 1 32 1-8 1-168 1-10 1-45 1 187 1-189 1 113 1 103 1-78 1 1044 1-1076 1 37 1-73 1 73 1-106 1 46 1-77 1 149 1 54 1-40 1-111 1 47 1-119 1 254 1-160 1 17 1-15 1 110 1-186 1 1141 1 100 1-58 1-30 1-139 1 52 1-14 1 215 1-47 1-1034 1 989 1 27 1 76 1-41 1-48 1 58 1 70 1-130 1-1242 1 116 1 53 1 41 1-212 1-4 1 146 1-164 1 165 1 1163 1 9 1-148 1-1162 1 149 1-106 1 127 1 225 1-236 1-64 1-4 1 20 1 50 1-9 1 1182 1-52 1-1205 1-75 1 202 1 60 1-30 1-28 1-59 1-113 1 209 1-151 1-18 1-50 1 67 1-40 1 73 1-88 1 124 1-8 1-130 1 98 1 1080 1-8" fill="none" stroke="#000" stroke-width="0.8" stroke-linejoin="bevel" vector-effect="non-scaling-stroke"/>
<line x1="959" y1="284.5" x2="1368" y2="284.5" stroke="#1a1a1a" stroke-width="2.0"/>
<line x1="1163.6" y1="105" x2="1163.6" y2="462.2" stroke="#1a1a1a" stroke-width="3.2"/>
<line x1="1158.8" y1="106.3" x2="1164.1" y2="106.3" stroke="#1a1a1a" stroke-width="3.0"/>
<line x1="1158.8" y1="165.6" x2="1164.1" y2="165.6" stroke="#1a1a1a" stroke-width="3.0"/>
<line x1="1158.8" y1="225.5" x2="1164.1" y2="225.5" stroke="#1a1a1a" stroke-width="3.0"/>
<line x1="1158.8" y1="343.5" x2="1164.1" y2="343.5" stroke="#1a1a1a" stroke-width="3.0"/>
<line x1="1158.8" y1="402.8" x2="1164.1" y2="402.8" stroke="#1a1a1a" stroke-width="3.0"/>
<line x1="1158.8" y1="461" x2="1164.1" y2="461" stroke="#1a1a1a" stroke-width="3.0"/>
<text transform="translate(1127.5 113.8) scale(1 1.035)" font-size="26.5">30</text>
<text transform="translate(1127.5 172.5) scale(1 1.035)" font-size="26.5">20</text>
<text transform="translate(1127.5 234.8) scale(1 1.035)" font-size="26.5">10</text>
<text transform="translate(1118.6 352.5) scale(1 1.035)" font-size="26.5">-10</text>
<text transform="translate(1118.6 412) scale(1 1.035)" font-size="26.5">-20</text>
<text transform="translate(1118.6 470.2) scale(1 1.035)" font-size="26.5">-30</text>
<text transform="translate(946.9 252.6) scale(1 1.035)" font-size="26.5">-100</text>
<text transform="translate(1048.7 252.6) scale(1 1.035)" font-size="26.5">-50</text>
<text transform="translate(1109.4 325.8) scale(1 1.035)" font-size="26.5">100</text>
<text transform="translate(1169.6 322.2) scale(1 1.035)" font-size="26.5">0</text>
<text transform="translate(1256.2 322.2) scale(1 1.035)" font-size="26.5">50</text>
<text transform="translate(1344.9 322.2) scale(1 1.035)" font-size="26.5">100</text>
<text transform="translate(1244.8 351.6)" font-size="34.5">V (mV)</text>
<text transform="translate(1114 194.6) rotate(-90)" font-size="34.5">I (pA)</text>
<text transform="translate(1412.1 40.9)" font-size="55.5">(d)</text>
<rect x="1584.7" y="207.5" width="54" height="171.8" fill="#1f1f1f"/>
<line x1="1611.7" y1="208.5" x2="1611.7" y2="201.7" stroke="#1a1a1a" stroke-width="2.2"/>
<line x1="1607.2" y1="201.7" x2="1616.2" y2="201.7" stroke="#1a1a1a" stroke-width="2.2"/>
<rect x="1652.4" y="203.9" width="54.9" height="175.4" fill="#1f1f1f"/>
<line x1="1679.8" y1="204.9" x2="1679.8" y2="199" stroke="#1a1a1a" stroke-width="2.2"/>
<line x1="1675.3" y1="199" x2="1684.3" y2="199" stroke="#1a1a1a" stroke-width="2.2"/>
<rect x="1721.4" y="205" width="54.6" height="174.3" fill="#1f1f1f"/>
<line x1="1748.7" y1="206" x2="1748.7" y2="200.5" stroke="#1a1a1a" stroke-width="2.2"/>
<line x1="1744.2" y1="200.5" x2="1753.2" y2="200.5" stroke="#1a1a1a" stroke-width="2.2"/>
<line x1="1567" y1="379.3" x2="1789" y2="379.3" stroke="#1a1a1a" stroke-width="3.0"/>
<line x1="1570" y1="107" x2="1570" y2="380.8" stroke="#1a1a1a" stroke-width="3.0"/>
<line x1="1565" y1="334.1" x2="1570.5" y2="334.1" stroke="#1a1a1a" stroke-width="2.7"/>
<line x1="1565" y1="288.9" x2="1570.5" y2="288.9" stroke="#1a1a1a" stroke-width="2.7"/>
<line x1="1565" y1="243.7" x2="1570.5" y2="243.7" stroke="#1a1a1a" stroke-width="2.7"/>
<line x1="1565" y1="198.5" x2="1570.5" y2="198.5" stroke="#1a1a1a" stroke-width="2.7"/>
<line x1="1565" y1="153.3" x2="1570.5" y2="153.3" stroke="#1a1a1a" stroke-width="2.7"/>
<line x1="1565" y1="108.1" x2="1570.5" y2="108.1" stroke="#1a1a1a" stroke-width="2.7"/>
<text transform="translate(1545.2 390.5) scale(1 1.035)" font-size="27.0">0</text>
<text transform="translate(1530.2 345.3) scale(1 1.035)" font-size="27.0">50</text>
<text transform="translate(1515.2 300.1) scale(1 1.035)" font-size="27.0">100</text>
<text transform="translate(1515.2 254.9) scale(1 1.035)" font-size="27.0">150</text>
<text transform="translate(1515.2 209.7) scale(1 1.035)" font-size="27.0">200</text>
<text transform="translate(1515.2 164.5) scale(1 1.035)" font-size="27.0">250</text>
<text transform="translate(1515.2 119.3) scale(1 1.035)" font-size="27.0">300</text>
<text transform="translate(1458.5 375.4) rotate(-90)" font-size="34.5">Single-channel</text>
<text transform="translate(1499.9 373.8) rotate(-90)" font-size="34.5">conductance (pS)</text>
<text transform="translate(1618.5 398) rotate(-45) scale(1 1.035)" font-size="34.5" text-anchor="end">KYN</text>
<text transform="translate(1692.5 398) rotate(-45) scale(1 1.035)" font-size="34.5" text-anchor="end">TON</text>
<text transform="translate(1767 398) rotate(-45) scale(1 1.035)" font-size="34.5" text-anchor="end">DIO</text>
<text transform="translate(-1.6 538.4)" font-size="55.5">(e)</text>
<text transform="translate(51.8 576.8) scale(1 1.035)" font-size="34">KYN</text>
<path transform="translate(36.5 0) scale(0.65764 .1)" d="M0 8542l1-22 1 19 1 5 1-10 1 3 1 12 1-4 1-6 1-3 1-17 1 13 1-24 1 6 1-1 1-14 1 11 1 19 1-16 1-13 1 6 1 9 1-5 1-4 1-16 1 13 1 2 1 8 1 2 1-9 1-25 1-6 1 1 1 13 1-9 1 18 1-7 1-2 1 3 1-5 1-19 1 32 1-3 1-1 1-23 1-17 1-2 1 2 1 19 1 4 1 5 1 7 1-15 1-6 1-9 1-3 1-10 1 13 1 0 1-8 1-7 1 10 1 9 1-10 1-2 1-10 1 0 1-2 1-2 1-5 1 7 1 9 1-22 1 16 1-15 1-5 1-20 1-9 1 27 1-13 1 14 1-6 1-1 1 9 1-13 1-36 1 5 1 25 1 15 1-18 1-12 1-11 1 15 1-21 1-1 1 11 1 1 1-4 1 10 1-22 1-6 1 4 1 5 1-5 1 20 1-21 1 5 1-12 1 4 1-8 1-2 1 17 1-16 1 14 1-22 1-4 1 13 1-33 1-2 1 14 1 7 1 1 1-10 1-14 1 18 1 0 1-16 1 7 1 18 1-12 1-17 1 3 1 0 1 7 1 6 1-17 1-2 1 15 1 1 1 6 1-27 1-2 1 18 1-16 1 9 1-3 1-7 1 19 1-11 1-8 1 1 1 4 1-18 1 2 1-4 1-10 1 27 1 11 1 0 1-30 1 13 1 6 1-12 1 11 1-18 1-4 1 1 1 0 1-3 1 18 1-16 1 1 1-2 1 27 1-24 1 6 1 15 1-27 1-4 1 4 1-10 1 22 1-12 1 12 1-3 1-6 1 7 1-12 1 10 1-21 1 0 1 18 1-28 1 17 1-5 1-3 1-3 1 18 1-24 1 16 1-1 1-10 1 0 1 7 1-12 1-13 1 14 1-9 1 1 1 4 1 7 1 11 1-13 1-6 1 5 1-5 1-22 1 5 1-6 1 16 1 9 1-8 1-16 1 13 1-15 1 7 1-13 1-6 1-3 1 12 1-4 1 9 1-16 1 12 1-8 1 15 1 0 1-12 1-1 1 0 1 1 1-8 1 11 1-14 1-18 1 15 1 0 1 8 1-2 1-5 1-3 1-1 1-9 1-9 1 1 1 6 1-20 1 11 1-3 1 7 1-6 1 6 1-3 1 13 1-13 1-4 1 1 1-18 1 1 1 24 1-4 1-6 1 7 1-11 1-5 1-3 1-15 1 21 1-7 1-1 1-4 1-5 1-18 1 18 1 23 1-6 1-15 1-11 1 5 1 4 1-5 1 7 1-16 1 14 1-6 1-9 1-1 1 5 1 4 1-7 1 2 1 17 1-35 1-14 1 16 1-7 1 7 1-16 1 12 1 14 1 0 1-22 1 0 1 11 1 10 1-25 1-7 1 16 1-11 1-11 1 16 1-23 1 2 1 16 1-13 1 9 1-18 1 13 1-1 1 10 1-17 1-6 1-1 1 10 1-16 1 0 1 19 1-8 1-4 1-14 1 9 1-19 1-9 1 2 1 22 1-8 1-14 1 1 1 7 1 7 1-26 1 20 1 0 1-17 1-2 1 7 1-8 1 2 1-13 1-12 1 37 1-13 1-5 1 1 1 7 1-4 1-21 1 3 1 1 1 6 1-13 1 5 1-2 1 10 1-37 1 15 1 5 1 4 1-7 1-11 1 10 1-1 1-13 1-10 1 15 1-11 1 10 1 10 1-11 1-4 1-3 1 10 1 2 1-14 1 2 1-8 1-8 1 9 1-7 1-11 1-10 1 21 1-16 1-6 1 5 1 10 1-23 1 16 1 1 1-17 1-5 1 7 1 21 1-17 1 7 1 0 1-26 1 7 1 11 1-13 1 12 1-21 1-10 1 6 1 11 1-8 1 9 1-23 1 3 1 18 1-33 1 17 1-9 1-2 1 3 1-12 1 19 1 0 1 5 1-10 1-14 1 10 1-18 1-1 1 27 1-4 1-8 1 7 1-17 1 3 1-14 1 0 1 3 1 13 1-19 1 11 1-9 1-20 1-8 1 9 1 18 1-5 1 13 1-14 1 7 1-11 1-15 1 11 1-13 1-11 1 2 1 3 1 6 1 6 1-3 1 13 1-38 1 7 1 27 1-22 1-16 1-1 1-3 1 2 1 21 1-26 1-1 1 19 1-7 1-3 1-9 1 9 1-18 1 13 1-6 1-6 1-7 1 12 1-5 1-10 1 1 1-12 1 18 1 3 1-2 1-11 1-2 1-20 1 3 1 0 1 0 1 6 1-11 1-7 1 16 1-13 1-8 1-16 1 0 1 10 1 5 1-20 1 11 1 4 1-8 1 2 1 12 1-20 1-15 1 7 1-5 1 6 1 7 1 2 1-7 1 8 1-10 1 2 1-7 1-4 1-10 1 0 1-6 1-1 1 2 1 9 1-12 1 3 1-18 1 3 1 14 1-7 1-24 1 10 1-1 1-11 1-10 1 4 1-2 1 15 1 1 1 0 1 2 1-32 1 9 1 6 1-9 1-4 1-3 1 6 1-1 1 10 1-7 1-4 1-5 1-10 1 5 1 6 1-3 1-17 1-10 1 18 1-2 1-1 1-12 1 11 1 1 1-10 1 4 1-15 1 3 1-19 1 11 1 28 1-12 1 6 1-11 1-7 1-3 1-8 1 7 1-13 1 3 1 30 1-20 1-16 1 10 1-5 1-9 1-12 1 5 1-3 1 2 1 3 1-2 1-13 1 9 1 0 1-20 1 12" fill="none" stroke="#a9a9a9" stroke-width="3.3" stroke-linejoin="round" stroke-linecap="round" vector-effect="non-scaling-stroke"/>
<path transform="translate(36.5 0) scale(0.65764 .1)" d="M0 8603l1 19 1-8 1-23 1-3 1 12 1-7 1 9 1-29 1 30 1 4 1-32 1 1 1-4 1 0 1 12 1-12 1-9 1 13 1 8 1-17 1 2 1-18 1 18 1 16 1-14 1-11 1-24 1 10 1-16 1 23 1 14 1-1 1-14 1-2 1-13 1 4 1 0 1-4 1-29 1 21 1 6 1-12 1 7 1 4 1-30 1 22 1-10 1-11 1 9 1-8 1-1 1-7 1 1 1-7 1 3 1-5 1-5 1 21 1-6 1 1 1 12 1-9 1-10 1-15 1 14 1-1 1 4 1-12 1-8 1-21 1 20 1-18 1 4 1 9 1-4 1-4 1 2 1-23 1 11 1 13 1 0 1-28 1 15 1-3 1-16 1-10 1 8 1 16 1-7 1-18 1 4 1 9 1-11 1-8 1 6 1-26 1 17 1-16 1 8 1 4 1-5 1-10 1 0 1 10 1-21 1-2 1 9 1 6 1-9 1-9 1 9 1-11 1 20 1-4 1 3 1-30 1-4 1-1 1-12 1 2 1 14 1-18 1 1 1 17 1-8 1-2 1-6 1-9 1-1 1 5 1-9 1 4 1-6 1 2 1 15 1-6 1-23 1 5 1 20 1 4 1-30 1 7 1-3 1-28 1 20 1 22 1-24 1-2 1 10 1-12 1-5 1 6 1-18 1 14 1-15 1 9 1 9 1 10 1-23 1 3 1 0 1-21 1 11 1 5 1 4 1 14 1-16 1-7 1-2 1-1 1 4 1 11 1-25 1 4 1-24 1 0 1 18 1-19 1 19 1 13 1-19 1-4 1 5 1-5 1 3 1-7 1 13 1-3 1-5 1-24 1 8 1 9 1 8 1-13 1 9 1 3 1-14 1 8 1-7 1-13 1 7 1 14 1-7 1-6 1 5 1-1 1-6 1-23 1-14 1 5 1 32 1-2 1-24 1 16 1-19 1 10 1 9 1-9 1 5 1 1 1-26 1 8 1 7 1-9 1-12 1 24 1-7 1-11 1-7 1 5 1 13 1-15 1 5 1-1 1-7 1 0 1 0 1-11 1-9 1 18 1 11 1-6 1-17 1 4 1-6 1-10 1 0 1 3 1 11 1-15 1 18 1-7 1 9 1-1 1-9 1-4 1 0 1-1 1 3 1 11 1-10 1 6 1-6 1-15 1 4 1 2 1 1 1-12 1 10 1-15 1-1 1 7 1-4 1-12 1-8 1 5 1-2 1 26 1-25 1-11 1 32 1-31 1 2 1 10 1-3 1 1 1 12 1 9 1-19 1-4 1-9 1-5 1-1 1 5 1-6 1 5 1-8 1-8 1 4 1 1 1-3 1-1 1 8 1-17 1 16 1-11 1 1 1 12 1-1 1-28 1 13 1 12 1-21 1-1 1 16 1-23 1 23 1-26 1-1 1 0 1 0 1 10 1-2 1-4 1-2 1-19 1 3 1 17 1-20 1 20 1-12 1-12 1 13 1 2 1-15 1-4 1-5 1 0 1-17 1 10 1 20 1-13 1 4 1 5 1-7 1-10 1-4 1-2 1 6 1-6 1 8 1 11 1-11 1-23 1 10 1-4 1-5 1-5 1 2 1 33 1 6 1-13 1-31 1 1 1 8 1-13 1 5 1 5 1 4 1-11 1-5 1-9 1-4 1 2 1-3 1 6 1-4 1-7 1 13 1-16 1 4 1-1 1-12 1 1 1 2 1-9 1-11 1 35 1-24 1-5 1-1 1 0 1 8 1 0 1-15 1 4 1 3 1-9 1 9 1-7 1 3 1-19 1 21 1-15 1-13 1-3 1-1 1 9 1-24 1 5 1 20 1 5 1-22 1 5 1 1 1-6 1-6 1 11 1-9 1 1 1 5 1-17 1-5 1 29 1-26 1 13 1 3 1-11 1-8 1-1 1-8 1 5 1-3 1-5 1 0 1 10 1-7 1-5 1 19 1-16 1 2 1-16 1-7 1 12 1 7 1-38 1 25 1 6 1-7 1 3 1-17 1 9 1-14 1 4 1-2 1 3 1-16 1 9 1 2 1 5 1-17 1 4 1-12 1 6 1-12 1-9 1 0 1 19 1 2 1-15 1-5 1-1 1-20 1 26 1-23 1-11 1 6 1-7 1 10 1 6 1-9 1 2 1-7 1-13 1 0 1 31 1-13 1-21 1 2 1 2 1 15 1-3 1 10 1 5 1-13 1-6 1 3 1-17 1-5 1-16 1 17 1-13 1 6 1 20 1-33 1-3 1-7 1-5 1 15 1-21 1 9 1-2 1 5 1-30 1-5 1 17 1-26 1 9 1 8 1-27 1-5 1 14 1-21 1 12 1 4 1-7 1-1 1 2 1-4 1 16 1 5 1-4 1 4 1-14 1 3 1-9 1 11 1 16 1-3 1-9 1-2 1-2 1 13 1-19 1 18 1-3 1-22 1 15 1 4 1-11 1 18 1-22 1-2 1 5 1 2 1-9 1 6 1-15 1 5 1-7 1-3 1-12 1 3 1-15 1-5 1 9 1 9 1-18 1 8 1 17 1-14 1-5 1-11 1-22 1 6 1 4 1-13 1 7 1-10 1 11 1-7 1-3 1-2 1-8 1 12 1-25 1-6 1 3 1 1 1-17 1 16 1-10 1 3 1-13 1-5 1 5 1-8 1-5 1 6 1 5 1-10 1 2 1-12 1 7 1-12 1 7 1-13 1 7 1 8 1-8 1-20 1 23 1-16 1-21 1 33 1-18 1 7 1-4 1 13" fill="none" stroke="#1a1a1a" stroke-width="3.2" stroke-linejoin="round" stroke-linecap="round" vector-effect="non-scaling-stroke"/>
<path transform="translate(36.5 0) scale(0.65764 .1)" d="M0 8602l1-15 1 14 1-16 1 17 1-23 1 1 1 0 1-16 1 24 1-19 1-4 1 5 1 13 1-14 1 23 1-16 1-7 1 4 1-6 1-12 1 0 1 6 1 14 1-10 1-2 1-28 1 11 1 4 1 17 1 2 1-16 1-1 1-8 1-11 1 4 1-5 1 4 1 3 1-10 1 9 1-21 1 4 1 1 1-21 1 17 1 4 1 9 1-17 1 1 1-2 1-24 1 11 1-16 1 12 1 5 1-4 1-26 1 26 1-6 1 4 1-18 1-3 1 22 1-18 1-9 1-3 1 11 1-24 1 4 1-7 1 30 1-9 1-14 1-4 1-8 1-6 1-1 1 17 1-18 1-7 1 2 1 10 1-9 1-20 1 4 1-1 1-16 1 0 1 8 1-8 1 17 1-11 1-12 1-2 1-10 1-3 1 12 1-7 1-22 1-1 1 17 1-14 1 3 1 13 1-12 1-5 1-4 1 12 1-16 1-11 1 9 1 15 1-10 1 8 1-3 1-26 1 4 1-2 1-2 1 10 1 3 1-7 1 1 1-19 1 8 1-18 1 1 1-10 1 21 1-13 1 7 1-20 1 9 1 7 1-7 1-2 1-3 1-4 1-5 1-8 1 16 1-8 1-3 1 1 1-17 1-7 1-3 1 29 1-15 1 5 1-25 1 6 1 5 1-7 1 14 1-12 1-2 1 10 1 6 1-12 1-13 1-2 1 12 1-20 1-6 1-3 1 18 1-3 1-15 1-4 1 5 1-6 1-7 1-2 1 5 1-4 1 3 1-4 1-6 1 9 1 1 1-25 1 15 1-5 1-8 1 14 1-2 1 1 1-12 1 19 1-10 1-14 1 20 1-24 1 16 1-15 1-8 1-5 1-5 1-2 1 11 1-3 1-17 1 13 1-15 1 14 1-7 1-1 1 13 1-30 1 33 1 16 1-18 1-10 1-17 1 13 1-11 1-5 1-8 1 19 1-2 1-25 1 6 1-12 1 18 1-15 1 4 1 6 1-8 1-13 1 3 1-9 1 24 1 0 1-28 1-2 1 32 1-8 1-13 1 8 1-5 1 2 1-12 1 16 1-10 1-18 1 5 1-2 1 6 1-1 1-3 1-11 1 6 1-7 1 19 1-24 1 2 1-3 1-7 1 12 1 1 1-2 1 11 1-19 1 5 1-4 1 0 1-16 1-5 1 19 1-17 1 18 1 7 1-20 1 4 1-2 1 12 1 8 1-12 1-4 1 2 1-22 1 2 1 9 1-12 1 17 1-23 1 1 1 2 1 5 1-16 1 0 1 7 1-3 1 3 1-14 1-8 1-20 1 9 1 9 1-9 1 7 1 13 1-11 1 10 1 0 1-8 1 3 1 2 1-23 1 23 1-29 1 12 1-7 1-2 1 5 1-5 1 0 1 0 1-9 1 7 1-12 1 13 1-16 1 10 1-6 1 17 1-21 1 16 1-13 1-16 1 24 1 1 1 6 1-20 1 7 1 6 1-12 1 22 1-26 1 5 1-19 1-4 1 1 1 2 1 3 1 2 1-27 1 14 1-5 1-15 1 6 1 14 1 0 1-22 1 3 1 0 1 16 1-13 1-10 1 3 1-25 1 18 1 12 1-4 1-24 1 34 1-11 1-11 1-4 1 7 1-9 1-3 1 5 1-17 1 13 1-15 1 9 1 7 1-5 1 1 1-13 1-9 1 14 1-9 1-11 1-1 1-4 1 12 1 0 1 7 1-25 1 4 1-2 1-22 1 13 1 8 1-13 1-10 1 32 1-30 1 19 1-9 1-2 1-12 1-9 1 20 1 8 1-26 1 12 1-10 1 5 1-10 1-7 1-12 1-5 1 14 1 1 1-9 1-8 1 6 1 12 1 7 1 2 1-9 1 3 1-19 1 22 1-10 1-12 1-5 1-4 1 5 1 10 1-15 1 9 1-7 1-22 1-3 1-1 1 2 1 20 1 8 1-21 1-8 1-14 1 12 1-19 1-4 1 2 1 6 1-8 1-31 1 15 1-8 1 2 1 7 1-31 1 6 1 5 1-26 1 17 1-6 1-8 1-12 1 8 1 5 1-15 1-2 1-3 1 9 1 3 1 6 1-5 1-8 1 1 1-8 1 15 1-15 1-3 1 8 1-18 1 13 1 3 1-13 1-9 1-12 1-15 1-11 1-21 1 2 1 0 1 7 1-24 1-3 1-3 1-13 1-7 1-5 1-4 1 14 1-33 1-6 1-8 1 11 1 1 1-17 1 12 1-19 1 18 1-12 1 3 1-25 1 14 1-7 1-11 1-15 1 17 1 1 1-13 1 7 1-3 1-4 1-27 1 5 1-8 1-16 1 0 1-12 1 8 1-15 1-3 1-1 1 4 1-15 1-27 1 22 1-7 1 7 1-8 1-6 1-12 1 12 1 9 1-10 1-14 1-15 1-9 1-9 1-5 1-21 1-3 1-16 1 10 1-11 1-20 1-5 1 1 1 9 1-12 1 7 1-13 1-21 1-8 1 17 1-23 1-10 1-7 1-9 1 14 1 2 1-22 1 18 1-6 1-18 1-18 1 2 1-3 1 6 1-12 1 12 1 20 1-24 1-3 1 20 1 12 1-31 1 4 1-16 1 11 1-5 1-15 1 2 1 5 1-47 1-1 1 2 1 4 1-1 1-11 1 5 1-23 1-22 1-14 1-24 1 5 1 0 1-24 1 14 1-21 1 12 1-8 1 14 1-12 1-7 1-10 1-12 1-1 1-6" fill="none" stroke="#1a1a1a" stroke-width="3.2" stroke-linejoin="round" stroke-linecap="round" vector-effect="non-scaling-stroke"/>
<line x1="36.5" y1="840.8" x2="443.6" y2="840.8" stroke="#1a1a1a" stroke-width="3.2"/>
<line x1="240.4" y1="549.7" x2="240.4" y2="914" stroke="#1a1a1a" stroke-width="3.2"/>
<line x1="36.5" y1="839.2" x2="36.5" y2="846.6" stroke="#1a1a1a" stroke-width="2.8800000000000003"/>
<line x1="138.2" y1="839.2" x2="138.2" y2="846.6" stroke="#1a1a1a" stroke-width="2.8800000000000003"/>
<line x1="341.6" y1="839.2" x2="341.6" y2="846.6" stroke="#1a1a1a" stroke-width="2.8800000000000003"/>
<line x1="443.6" y1="839.2" x2="443.6" y2="846.6" stroke="#1a1a1a" stroke-width="2.8800000000000003"/>
<line x1="234.4" y1="551.3" x2="240.4" y2="551.3" stroke="#1a1a1a" stroke-width="2.8800000000000003"/>
<line x1="234.4" y1="623.9" x2="240.4" y2="623.9" stroke="#1a1a1a" stroke-width="2.8800000000000003"/>
<line x1="234.4" y1="696.4" x2="240.4" y2="696.4" stroke="#1a1a1a" stroke-width="2.8800000000000003"/>
<line x1="234.4" y1="768" x2="240.4" y2="768" stroke="#1a1a1a" stroke-width="2.8800000000000003"/>
<line x1="234.4" y1="912.4" x2="240.4" y2="912.4" stroke="#1a1a1a" stroke-width="2.8800000000000003"/>
<line x1="234.4" y1="587.6" x2="240.4" y2="587.6" stroke="#1a1a1a" stroke-width="2.8800000000000003"/>
<line x1="234.4" y1="660.2" x2="240.4" y2="660.2" stroke="#1a1a1a" stroke-width="2.8800000000000003"/>
<line x1="234.4" y1="732.1" x2="240.4" y2="732.1" stroke="#1a1a1a" stroke-width="2.8800000000000003"/>
<line x1="234.4" y1="804.4" x2="240.4" y2="804.4" stroke="#1a1a1a" stroke-width="2.8800000000000003"/>
<line x1="234.4" y1="876" x2="240.4" y2="876" stroke="#1a1a1a" stroke-width="2.8800000000000003"/>
<text transform="translate(186 560.8) scale(1 1.035)" font-size="26.5">800</text>
<text transform="translate(186 633.4) scale(1 1.035)" font-size="26.5">600</text>
<text transform="translate(186 705.9) scale(1 1.035)" font-size="26.5">400</text>
<text transform="translate(186 777) scale(1 1.035)" font-size="26.5">200</text>
<text transform="translate(177.1 921.5) scale(1 1.035)" font-size="26.5">-200</text>
<text transform="translate(22 833.8) scale(1 1.035)" font-size="26.5">-100</text>
<text transform="translate(114.2 870.2) scale(1 1.035)" font-size="26.5">-50</text>
<text transform="translate(246.3 870.2) scale(1 1.035)" font-size="26.5">0</text>
<text transform="translate(327.2 870.2) scale(1 1.035)" font-size="26.5">50</text>
<text transform="translate(421.6 870.2) scale(1 1.035)" font-size="26.5">100</text>
<text transform="translate(316.8 898.9)" font-size="34.5">V (mV)</text>
<text transform="translate(176.5 705.6) rotate(-90)" font-size="34.5">I (pA)</text>
<text transform="translate(448.1 704.7)" font-size="25">b</text>
<text transform="translate(448.7 753.7)" font-size="25">a</text>
<text transform="translate(448.7 772.2)" font-size="25">c</text>
<text transform="translate(459.8 538.2)" font-size="55.5">(f)</text>
<text transform="translate(515.5 576.8) scale(1 1.035)" font-size="34">TON</text>
<path transform="translate(491.2 0) scale(0.65769 .1)" d="M0 8660l1-11 1 4 1-8 1 3 1 21 1-16 1-3 1-18 1-8 1 13 1-17 1-5 1 9 1-8 1 6 1-15 1 11 1-29 1 3 1-11 1 7 1-21 1 14 1-22 1 8 1-13 1 1 1-4 1-24 1-4 1 1 1-6 1 8 1 1 1-16 1-21 1 11 1 15 1-14 1-6 1-2 1 7 1 9 1-31 1 16 1-10 1-12 1 19 1-8 1-7 1 2 1-10 1 12 1-11 1 21 1-9 1-14 1-2 1-11 1 11 1 2 1-25 1 12 1 6 1 3 1-14 1-6 1 2 1 7 1-2 1-4 1-7 1-9 1-10 1 15 1-6 1 4 1 22 1-34 1 17 1-19 1 0 1-4 1 5 1 5 1-2 1 13 1-20 1 8 1-12 1-9 1 5 1-14 1 21 1 6 1-17 1-15 1 14 1-2 1 4 1-15 1 6 1 3 1 15 1-26 1 8 1-11 1 2 1 14 1-27 1-8 1 10 1-1 1 22 1-24 1 22 1-16 1 5 1-14 1-14 1 8 1 13 1-12 1-8 1 16 1-35 1 17 1 10 1-13 1 1 1 12 1-6 1-16 1 9 1-12 1 18 1 5 1-3 1 2 1-9 1-20 1 3 1 8 1 11 1-8 1 10 1-22 1 13 1-32 1 21 1-10 1 11 1-7 1-6 1 7 1 8 1-4 1 13 1-22 1-2 1-9 1 6 1 8 1 7 1-14 1-20 1 4 1 7 1 2 1 7 1 4 1-18 1-11 1-9 1 14 1 18 1-12 1 8 1-22 1-1 1 2 1-7 1 2 1 7 1-3 1 6 1-3 1-1 1-15 1 0 1 2 1 13 1-12 1-5 1-5 1 13 1-10 1-10 1-5 1-2 1 19 1-18 1 16 1 11 1-18 1 5 1 9 1-27 1 2 1 28 1-18 1-3 1 5 1-17 1-1 1 0 1 24 1-14 1-24 1 18 1-9 1-1 1-2 1-8 1 13 1-20 1 11 1 5 1 0 1-7 1 8 1 0 1-9 1 5 1-18 1 13 1 2 1-23 1 4 1 8 1-23 1 4 1 8 1 6 1 10 1-7 1-25 1-8 1-2 1 10 1 4 1-8 1-3 1 9 1 6 1 5 1-20 1 9 1-24 1 5 1 8 1-4 1-7 1-1 1 2 1 5 1 6 1-16 1-3 1 9 1-6 1-5 1 1 1 3 1-16 1 12 1-17 1-4 1 9 1 7 1-7 1 4 1 2 1 6 1 14 1-20 1-7 1-6 1 14 1-15 1-2 1-21 1 21 1-3 1 4 1 17 1-7 1-8 1-12 1 19 1-14 1-3 1 1 1-5 1-9 1 14 1 4 1 3 1 3 1 8 1-6 1-7 1-2 1-2 1 8 1 2 1-3 1-18 1 18 1-7 1-8 1 11 1 4 1-5 1-11 1-4 1 8 1-7 1-7 1 7 1 4 1-2 1-9 1 4 1-5 1 2 1 13 1-15 1-4 1 7 1-1 1-28 1-11 1 15 1 12 1-8 1 11 1-13 1 5 1-7 1-4 1-25 1 16 1 9 1 10 1 0 1-13 1 4 1-3 1-26 1 12 1 13 1 6 1-23 1-5 1 7 1 3 1-3 1 0 1-7 1-12 1-9 1-4 1 10 1-9 1 1 1-7 1 8 1-5 1 16 1-21 1 2 1 8 1 21 1-28 1-10 1 8 1-2 1-4 1-3 1 7 1-24 1-4 1 3 1 9 1 14 1-13 1-8 1 18 1-26 1 0 1 19 1-14 1-16 1 12 1 0 1 13 1-20 1 3 1 6 1-22 1 15 1-6 1 15 1-21 1 6 1 3 1 3 1-1 1-22 1 7 1-6 1-5 1-5 1-2 1 15 1-6 1 10 1-13 1 7 1-20 1 9 1-7 1 7 1 4 1-12 1-7 1-9 1 14 1-3 1-15 1 18 1-7 1-16 1 10 1 7 1-2 1-9 1 3 1-1 1 6 1 0 1-20 1 7 1 17 1 16 1-25 1-29 1 2 1-5 1-2 1 2 1 7 1-7 1 0 1-14 1-5 1 20 1-25 1 6 1 11 1-12 1-11 1 12 1 2 1 9 1-23 1 7 1 2 1-25 1 20 1 3 1-10 1-7 1-23 1 11 1 1 1 3 1-2 1-7 1 12 1 13 1-18 1-14 1-6 1 22 1-14 1-3 1 5 1-28 1 28 1 0 1-10 1-17 1 19 1 2 1-2 1-15 1 6 1 12 1-22 1 11 1-27 1 7 1 20 1 2 1-25 1 8 1 14 1-16 1 9 1-3 1 6 1-30 1 17 1-5 1-20 1-4 1 5 1-7 1 5 1-9 1-20 1 27 1-8 1 14 1-7 1 4 1-7 1-3 1-6 1-1 1 8 1 2 1-16 1 6 1 5 1-13 1-3 1 15 1-22 1 12 1-5 1-14 1 4 1 2 1 1 1 1 1-9 1 15 1-5 1-15 1 8 1-21 1-3 1 26 1 6 1-19 1 3 1 2 1-1 1-1 1-12 1 12 1-14 1 16 1-17 1-10 1 12 1 4 1 6 1-6 1 13 1-15 1-13 1-9 1 2 1 17 1-8 1-13 1 3 1 7 1-11 1-7 1 26 1 2 1-15 1-13 1 2 1 13 1-21 1 4 1 3 1-13 1 5 1 13 1-2 1 7 1-29 1 22 1-1 1 15 1-2 1-20 1 2 1 2 1-8 1 4 1 2" fill="none" stroke="#a9a9a9" stroke-width="3.3" stroke-linejoin="round" stroke-linecap="round" vector-effect="non-scaling-stroke"/>
<path transform="translate(491.2 0) scale(0.65769 .1)" d="M0 8571l1 7 1-16 1 3 1-13 1 27 1-27 1 2 1-6 1 22 1-15 1-19 1 0 1-6 1-5 1 6 1-14 1 16 1-23 1 12 1 7 1-2 1 11 1-15 1 2 1-17 1 18 1-40 1 16 1-8 1 14 1-17 1 4 1 5 1-13 1 5 1 5 1-9 1-6 1 3 1 18 1-23 1 10 1-28 1 2 1 10 1 9 1-10 1 1 1-18 1-1 1 16 1-3 1-5 1-17 1 27 1 3 1-17 1 1 1-18 1 14 1-4 1-7 1-20 1 5 1-7 1 22 1-12 1 19 1-8 1-16 1 16 1 2 1-11 1-26 1 19 1 4 1-3 1-16 1-10 1-6 1-5 1 7 1 20 1 6 1-16 1-8 1 11 1-3 1 3 1-10 1-8 1 15 1-20 1 11 1-15 1 6 1-5 1 0 1-6 1 17 1-12 1-7 1-2 1 17 1-17 1-11 1-6 1 12 1-5 1-1 1 7 1 17 1-11 1 1 1-16 1 9 1 2 1-4 1 0 1-19 1 19 1-11 1-10 1 6 1 3 1-5 1 5 1 1 1-10 1-6 1 1 1-1 1-2 1 17 1 12 1-35 1 9 1-10 1-5 1 9 1 4 1-16 1 11 1 1 1-14 1 13 1-4 1-9 1-3 1 8 1-4 1 21 1-14 1-11 1 13 1-14 1 0 1-3 1 5 1-4 1 22 1-19 1-2 1 5 1 12 1-23 1-9 1 16 1-14 1-4 1-2 1 10 1-2 1-33 1 27 1 7 1-4 1-13 1 11 1-28 1 34 1-14 1-6 1 8 1 17 1-24 1 3 1-9 1 0 1 12 1 14 1-18 1-8 1 0 1 0 1-5 1-3 1-10 1 3 1 3 1 26 1-25 1 17 1-15 1-6 1 7 1 8 1-18 1-6 1 6 1 2 1-4 1 0 1-3 1-8 1 10 1 16 1-4 1-16 1 1 1-3 1-9 1-2 1-1 1 19 1-5 1-17 1 0 1 3 1-10 1 6 1-12 1 12 1 6 1-11 1 3 1-1 1-1 1 5 1-21 1 6 1 4 1-23 1 20 1-4 1 11 1-7 1 2 1 1 1-8 1 5 1-9 1-20 1 8 1 4 1 12 1-12 1 0 1 6 1 3 1-29 1 10 1-7 1 15 1 9 1-6 1-18 1-2 1 17 1-6 1-14 1 10 1-1 1-16 1 9 1-10 1 8 1-3 1 1 1-26 1 18 1-2 1 20 1-11 1-2 1-17 1-5 1 8 1 15 1-16 1 20 1-2 1-17 1 17 1-19 1 7 1-12 1 6 1 9 1-16 1 12 1-14 1 1 1 12 1-3 1 1 1-20 1 26 1-21 1-15 1 12 1 1 1 17 1-9 1-12 1-9 1 16 1-5 1-6 1-14 1 21 1-7 1 5 1-4 1-10 1-13 1 16 1 6 1-17 1 0 1 17 1-12 1 5 1-18 1-1 1 3 1 4 1-13 1 7 1 1 1-16 1 15 1 8 1-24 1 16 1-19 1 24 1-11 1-21 1 40 1-5 1-2 1-17 1 13 1-7 1-11 1 5 1 0 1-9 1-4 1 11 1-20 1 18 1-15 1-2 1-5 1 7 1 14 1-21 1 10 1-17 1 8 1-5 1 3 1-9 1 15 1-18 1 12 1-6 1-15 1-1 1 12 1-17 1 7 1-21 1 36 1-28 1 16 1-2 1-7 1-10 1-4 1-20 1 24 1-22 1-4 1-9 1 0 1 14 1-13 1 26 1-7 1 1 1-12 1 7 1 5 1-9 1-17 1 15 1 2 1-1 1-16 1 2 1-8 1 7 1-8 1-5 1 13 1 10 1-1 1-31 1 4 1 12 1 0 1-12 1 6 1-4 1-7 1-7 1 12 1-5 1-22 1 4 1 6 1-5 1 3 1 5 1-13 1-8 1 20 1-14 1 7 1-2 1-8 1-20 1 14 1 17 1 1 1-2 1-11 1-4 1 0 1-23 1 8 1-6 1 10 1-7 1 0 1 1 1-3 1-13 1 5 1 0 1 22 1-19 1-19 1 22 1-13 1-10 1 12 1-16 1-13 1 18 1-23 1-5 1 14 1 26 1-21 1-4 1 19 1-21 1 4 1-3 1 16 1-17 1 1 1-4 1-1 1 4 1-7 1-3 1 2 1 6 1-29 1 12 1 12 1-19 1-14 1-12 1 25 1-10 1 7 1 11 1 4 1-20 1-19 1 10 1-6 1-2 1 17 1-24 1 21 1-23 1 4 1-4 1-3 1 1 1 7 1-12 1-16 1 13 1 3 1 21 1-10 1-9 1-5 1 4 1-1 1 6 1-12 1-3 1-13 1 17 1 12 1-16 1-5 1 9 1-14 1 14 1-2 1-10 1-5 1 17 1-3 1-11 1-10 1-19 1 12 1 8 1-11 1-20 1 9 1 5 1 10 1 8 1-18 1 1 1-9 1 10 1-14 1 3 1 26 1-15 1 4 1-6 1-21 1-1 1-2 1 8 1-7 1 7 1 9 1-10 1-11 1 20 1-3 1-8 1-20 1 18 1-6 1-5 1 4 1 10 1-12 1-3 1 5 1 0 1-8 1-10 1-13 1 13 1 0 1 19 1-15 1-14 1 15 1-20 1 32 1-29 1 5 1-12 1 30 1-12 1 3 1-6 1-11 1 7 1 7 1-20 1 2 1-3 1-4 1-6 1 1 1 16 1-7 1-4 1-19 1 7" fill="none" stroke="#1a1a1a" stroke-width="3.2" stroke-linejoin="round" stroke-linecap="round" vector-effect="non-scaling-stroke"/>
<path transform="translate(491.2 0) scale(0.65769 .1)" d="M0 8545l1 3 1-6 1-23 1 24 1 18 1 4 1-19 1-16 1 9 1-26 1 7 1 11 1 0 1-2 1-19 1-10 1 17 1 9 1-11 1-11 1 10 1 10 1-10 1-13 1 23 1-4 1-14 1-4 1-10 1 18 1-17 1-10 1 6 1 21 1-47 1 4 1 21 1-2 1-3 1-4 1-6 1 4 1-1 1-8 1-13 1 0 1-9 1 15 1-2 1 6 1 5 1-15 1 2 1-10 1 5 1-18 1 7 1-5 1 6 1-3 1-15 1 21 1-10 1-13 1 10 1-12 1-9 1 18 1-3 1-18 1 3 1 11 1-8 1-1 1-7 1 4 1 7 1-9 1-12 1-6 1 4 1-5 1 3 1-1 1-2 1-5 1 4 1 1 1-43 1 1 1 16 1 7 1 1 1-19 1-1 1-7 1 17 1-8 1-22 1 10 1-3 1 12 1-13 1-5 1-2 1 13 1-17 1-1 1-3 1 2 1 12 1-3 1 8 1-9 1-10 1 13 1-15 1 13 1-10 1-18 1 17 1-7 1 2 1-2 1-8 1-12 1 15 1-12 1-3 1-14 1 15 1 3 1-31 1-6 1 8 1 7 1 4 1-5 1 14 1 0 1-22 1 10 1-4 1-5 1-9 1 9 1-7 1-19 1 20 1-3 1 0 1-15 1-1 1 1 1 11 1 2 1-10 1 28 1-29 1-20 1 20 1-18 1-3 1 12 1-19 1 4 1 5 1 3 1 3 1-15 1 9 1-27 1 1 1 3 1 2 1 2 1 9 1-5 1 3 1-7 1-26 1 30 1-6 1-14 1-9 1 8 1-4 1 7 1 7 1-11 1 7 1 2 1-16 1-2 1-8 1-8 1-4 1-11 1 6 1-2 1 8 1 4 1-11 1-9 1 3 1-4 1-1 1 17 1-2 1-9 1 3 1-11 1-12 1-2 1 1 1-4 1 14 1-2 1-9 1 3 1-4 1 5 1 11 1-30 1 14 1-10 1-7 1-3 1 23 1-20 1 15 1-11 1-13 1 6 1 12 1 1 1-20 1 3 1-2 1-5 1 2 1 1 1-13 1 12 1-17 1 5 1 14 1-15 1-3 1 7 1-9 1-14 1 5 1-2 1-5 1-10 1 26 1-6 1-11 1 0 1-1 1-3 1 11 1 2 1-20 1-5 1 1 1-6 1 45 1-25 1-4 1 5 1-17 1-12 1 25 1-17 1 11 1-11 1 26 1-9 1-12 1-17 1 0 1-14 1 8 1-6 1 17 1-1 1-3 1 24 1-23 1 1 1-4 1-13 1-9 1 23 1-23 1 6 1-7 1 7 1 12 1-27 1 6 1 9 1-19 1-12 1 6 1 0 1 7 1-20 1 11 1-18 1 13 1-3 1-25 1 23 1-8 1 16 1-5 1-22 1-8 1 7 1-8 1 33 1-8 1-16 1-1 1-9 1 5 1-20 1 5 1 8 1-17 1 8 1-7 1 16 1-1 1-26 1-10 1 8 1 23 1 3 1-6 1-10 1-7 1 7 1-5 1-14 1-2 1 14 1 11 1-14 1-19 1 2 1-4 1 14 1-2 1-13 1 21 1-5 1-13 1 3 1-4 1 16 1-4 1-7 1 2 1 4 1-20 1-5 1-2 1 9 1-15 1 22 1-33 1 3 1-10 1 22 1-11 1 7 1 4 1 11 1-8 1-14 1-5 1 5 1-2 1 8 1-21 1 3 1 0 1-3 1 15 1-15 1-10 1-3 1 2 1-11 1 6 1 5 1-5 1-20 1-4 1 12 1 0 1-5 1-7 1-9 1 2 1-14 1-8 1 8 1 11 1-11 1-2 1-10 1 3 1-14 1-3 1 8 1-24 1 6 1-24 1 17 1-18 1-18 1-3 1 9 1-17 1 1 1 10 1-14 1-2 1-1 1-8 1 2 1 10 1-16 1 2 1 9 1-6 1-1 1 13 1-15 1 1 1-6 1 5 1-17 1-3 1 5 1 11 1-14 1-4 1 5 1-25 1 15 1-1 1 16 1-15 1-19 1 1 1-3 1-8 1-24 1 9 1 5 1-2 1 0 1-8 1 7 1-13 1-5 1 3 1 9 1 2 1-4 1 4 1 0 1-12 1 0 1-21 1 7 1 16 1-11 1-3 1-8 1 4 1-7 1-12 1 0 1 7 1 14 1-18 1-16 1 8 1 1 1-9 1-4 1-17 1 15 1-22 1 1 1 4 1 20 1-10 1-4 1-3 1-3 1-15 1 4 1-16 1 7 1-26 1 2 1 17 1-5 1-8 1-13 1-4 1-12 1 0 1-7 1-8 1-27 1-26 1 6 1-2 1-8 1-20 1 2 1-16 1-5 1-4 1-34 1 16 1-17 1-13 1 15 1-27 1-17 1-7 1-6 1-19 1-11 1 9 1-19 1-12 1-3 1-8 1-1 1-15 1-3 1-22 1-7 1-6 1 1 1 5 1-11 1-29 1 15 1-27 1-7 1-7 1-5 1 4 1-2 1-23 1-13 1-36 1 4 1-41 1-13 1-13 1-26 1-6 1-32 1-50 1-29 1-23 1-20 1-42 1-23 1-3 1 5 1 3 1-11 1 20 1-19 1 15 1-14 1-19 1-7 1-30 1-23 1-18 1-34 1-14 1-10 1-14 1-16 1 9 1-29 1-18 1-15 1-4 1-27 1-28 1-43 1-28 1-8 1-30 1-18 1-35 1-12 1-15 1 1 1-5 1-19 1 7" fill="none" stroke="#1a1a1a" stroke-width="3.2" stroke-linejoin="round" stroke-linecap="round" vector-effect="non-scaling-stroke"/>
<line x1="491.2" y1="840.7" x2="899.1" y2="840.7" stroke="#1a1a1a" stroke-width="3.2"/>
<line x1="695.7" y1="549.3" x2="695.7" y2="914.3" stroke="#1a1a1a" stroke-width="3.2"/>
<line x1="491.2" y1="839.1" x2="491.2" y2="846.5" stroke="#1a1a1a" stroke-width="2.8800000000000003"/>
<line x1="592.9" y1="839.1" x2="592.9" y2="846.5" stroke="#1a1a1a" stroke-width="2.8800000000000003"/>
<line x1="796.6" y1="839.1" x2="796.6" y2="846.5" stroke="#1a1a1a" stroke-width="2.8800000000000003"/>
<line x1="899.1" y1="839.1" x2="899.1" y2="846.5" stroke="#1a1a1a" stroke-width="2.8800000000000003"/>
<line x1="689.7" y1="550.9" x2="695.7" y2="550.9" stroke="#1a1a1a" stroke-width="2.8800000000000003"/>
<line x1="689.7" y1="623.3" x2="695.7" y2="623.3" stroke="#1a1a1a" stroke-width="2.8800000000000003"/>
<line x1="689.7" y1="696.1" x2="695.7" y2="696.1" stroke="#1a1a1a" stroke-width="2.8800000000000003"/>
<line x1="689.7" y1="768.3" x2="695.7" y2="768.3" stroke="#1a1a1a" stroke-width="2.8800000000000003"/>
<line x1="689.7" y1="912.7" x2="695.7" y2="912.7" stroke="#1a1a1a" stroke-width="2.8800000000000003"/>
<text transform="translate(626.8 562.2) scale(1 1.035)" font-size="26.5">1000</text>
<text transform="translate(641.6 634.7) scale(1 1.035)" font-size="26.5">750</text>
<text transform="translate(641.6 707.4) scale(1 1.035)" font-size="26.5">500</text>
<text transform="translate(641.6 779.6) scale(1 1.035)" font-size="26.5">250</text>
<text transform="translate(632.7 923.5) scale(1 1.035)" font-size="26.5">-250</text>
<text transform="translate(483.6 833.5) scale(1 1.035)" font-size="26.5">-100</text>
<text transform="translate(568.5 871) scale(1 1.035)" font-size="26.5">-50</text>
<text transform="translate(711.7 871) scale(1 1.035)" font-size="26.5">0</text>
<text transform="translate(782.6 871) scale(1 1.035)" font-size="26.5">50</text>
<text transform="translate(878.3 871) scale(1 1.035)" font-size="26.5">100</text>
<text transform="translate(771.2 903.3)" font-size="34.5">V (mV)</text>
<text transform="translate(624.6 706.1) rotate(-90)" font-size="34.5">I (pA)</text>
<text transform="translate(904.5 623.3)" font-size="25">b</text>
<text transform="translate(905.1 764.1)" font-size="25">a</text>
<text transform="translate(905.1 784.8)" font-size="25">c</text>
<text transform="translate(924.8 538.4)" font-size="55.5">(g)</text>
<text transform="translate(986.5 576.8) scale(1 1.035)" font-size="34">DIO</text>
<path transform="translate(954.6 0) scale(0.66271 .1)" d="M0 8594l1-7 1 5 1-13 1 20 1-5 1 1 1-13 1 21 1-23 1-9 1 10 1-22 1 0 1 14 1-14 1-17 1 15 1 12 1-8 1 8 1-15 1-16 1 5 1 5 1-3 1-1 1 2 1 6 1-17 1 3 1-5 1 2 1 1 1 3 1-15 1-6 1 1 1 5 1-4 1-4 1 19 1-27 1 19 1-10 1-7 1 1 1 19 1-31 1 2 1-2 1 5 1-27 1 25 1-15 1 23 1-17 1-5 1-9 1 4 1 14 1-5 1-8 1-15 1-11 1 21 1 20 1-18 1 4 1-17 1 2 1-17 1 13 1-25 1 6 1 10 1-2 1-7 1 15 1-23 1 7 1 3 1 4 1 10 1-15 1-13 1-10 1-4 1 9 1-11 1 1 1-1 1 8 1-12 1-14 1 10 1-20 1 7 1 2 1 12 1-6 1-19 1 9 1-14 1 11 1-7 1-3 1 12 1-17 1 3 1-15 1-11 1 19 1-5 1 3 1-20 1-12 1 34 1-15 1-7 1 7 1-6 1-20 1 3 1 5 1 8 1 5 1-13 1-4 1-8 1 6 1-14 1 8 1 10 1-14 1 13 1-13 1 13 1 4 1-13 1 5 1 0 1-3 1-9 1-2 1-10 1 11 1 0 1 3 1 22 1-36 1 5 1 3 1-15 1 15 1-4 1 29 1-25 1-14 1-3 1-3 1-3 1 12 1 7 1-1 1-5 1 3 1-12 1-4 1 13 1-4 1-3 1-4 1 9 1-19 1 11 1-21 1 14 1-2 1-2 1-11 1 2 1 6 1 7 1-11 1-3 1 4 1-1 1-14 1 2 1 13 1 2 1-32 1 22 1 9 1-3 1-11 1-4 1 11 1-4 1 11 1-24 1 15 1-11 1 0 1-13 1 5 1 13 1-14 1 2 1 9 1-5 1-9 1-10 1 5 1 2 1 2 1 11 1-9 1-9 1 9 1-5 1 7 1-6 1-6 1 11 1-9 1-17 1 1 1 7 1-8 1 18 1 3 1 3 1-17 1 1 1 15 1-15 1 1 1 5 1-10 1-6 1 10 1-4 1 2 1 3 1-25 1 9 1 0 1 7 1-9 1-2 1-13 1 21 1-9 1 0 1-4 1 1 1 1 1 10 1-25 1 23 1-23 1 11 1-2 1-10 1 13 1-13 1 25 1-7 1-5 1-18 1 1 1 7 1 1 1 0 1 11 1-7 1-12 1 11 1 6 1-19 1-8 1 20 1-7 1 25 1-26 1 0 1-1 1 11 1 14 1-31 1 6 1-1 1-6 1 1 1 14 1-10 1-16 1 8 1-1 1-5 1 1 1-13 1 14 1 4 1-12 1-6 1-1 1 29 1-11 1-4 1 17 1-22 1-7 1 0 1 3 1 5 1-17 1 3 1-3 1 10 1 2 1-7 1-11 1 12 1 4 1-24 1 1 1 13 1-20 1 20 1-20 1 13 1-16 1 1 1 7 1-10 1 10 1-17 1-2 1 0 1 4 1 8 1 4 1 1 1-6 1 17 1-26 1 11 1-2 1 3 1-22 1-4 1 15 1-5 1-22 1 1 1 17 1-19 1 8 1-2 1-1 1-6 1 11 1-1 1 5 1-9 1 2 1-13 1-11 1 7 1 18 1-9 1-1 1 5 1-17 1 2 1 4 1-7 1 8 1-8 1-11 1 5 1 2 1 21 1-37 1 11 1 13 1-19 1 6 1 1 1 13 1-7 1-18 1-3 1 1 1-13 1 15 1 1 1-24 1 15 1-9 1 18 1-15 1-5 1 16 1-9 1 10 1 3 1-24 1-11 1 1 1-4 1 4 1 14 1-7 1-2 1 1 1 2 1-3 1 0 1 9 1 6 1-15 1-9 1-21 1 16 1 17 1-10 1 2 1-2 1-12 1 1 1-22 1 40 1-4 1-1 1-14 1 0 1-2 1-9 1 11 1-11 1 24 1-21 1 8 1-16 1-15 1-4 1 19 1-4 1 29 1-29 1 1 1 14 1-19 1 2 1-8 1 3 1 1 1-16 1 0 1 15 1-10 1-13 1 1 1 2 1 6 1 0 1 17 1-12 1-8 1 8 1-20 1 3 1 14 1-3 1-3 1-13 1 2 1 6 1-6 1-21 1 13 1 2 1 9 1 3 1-4 1-19 1 3 1-4 1 4 1-12 1-17 1 29 1-21 1 10 1-1 1 4 1-19 1 18 1-18 1 15 1-10 1-12 1 2 1 27 1-27 1-8 1-12 1 9 1-9 1 5 1 15 1-15 1-4 1-1 1 2 1-19 1-15 1 42 1-23 1-8 1 1 1 5 1 15 1-14 1-31 1 21 1-29 1 1 1 15 1 23 1-15 1-9 1-1 1 16 1-11 1 1 1-12 1-19 1 6 1 8 1 15 1-20 1-17 1-18 1 22 1 6 1-12 1-18 1-14 1 16 1 2 1-4 1 5 1-15 1 11 1-3 1-5 1-9 1-2 1-6 1 5 1-13 1-1 1-16 1 11 1-12 1 14 1-6 1 11 1 2 1-21 1 1 1-16 1-3 1 8 1 15 1-17 1 15 1 9 1-23 1 4 1-1 1-11 1-9 1-4 1-8 1 0 1 11 1-11 1 29 1-24 1-2 1-6 1 3 1 8 1-20 1 19 1-14 1 7 1-5 1-3 1 8 1-5 1-7 1-10 1 12 1 18 1-14 1-4 1 4 1-9 1 11 1-18 1 12 1-4 1 16" fill="none" stroke="#a9a9a9" stroke-width="3.6" stroke-linejoin="round" stroke-linecap="round" vector-effect="non-scaling-stroke"/>
<path transform="translate(954.6 0) scale(0.66271 .1)" d="M0 8571l1-7 1 2 1 9 1-19 1 2 1-1 1-2 1-6 1 6 1-1 1-1 1-3 1-5 1-22 1 14 1 15 1-32 1 28 1-22 1-4 1 19 1-8 1-9 1-11 1 1 1 18 1-5 1-4 1-18 1 10 1-17 1 18 1-4 1 3 1 3 1-33 1 12 1-1 1-2 1-7 1 10 1-12 1 8 1-12 1-7 1-4 1-6 1 9 1 8 1 3 1-12 1-9 1 25 1-19 1 7 1 6 1-19 1-3 1-1 1-6 1-7 1 9 1 8 1 8 1-23 1-6 1-9 1-12 1 21 1-5 1 9 1-2 1-9 1-6 1-10 1 8 1 5 1-6 1-23 1 22 1-21 1 12 1-6 1-6 1 10 1 4 1-14 1 9 1-3 1-20 1 12 1-9 1-22 1 7 1 8 1-23 1 16 1 2 1 1 1-8 1 0 1-9 1-14 1-3 1 0 1-12 1 18 1-13 1 17 1-3 1-10 1 1 1-16 1-1 1 24 1-14 1-6 1-6 1 9 1-7 1 14 1-17 1 12 1-19 1-1 1-7 1 7 1 8 1-21 1-1 1 1 1 18 1-8 1-12 1 3 1 15 1-9 1-17 1 17 1-15 1 14 1-6 1 9 1-16 1 1 1 1 1 16 1-26 1-10 1-13 1 29 1-17 1 8 1 4 1-1 1-1 1-9 1 1 1-8 1 12 1-10 1-16 1-7 1 28 1 8 1-1 1-3 1 5 1 2 1-21 1-4 1 7 1-15 1 5 1 14 1-14 1-2 1-4 1 16 1-6 1-7 1-8 1-8 1 28 1-17 1-8 1-13 1 24 1-6 1-15 1 30 1-10 1-5 1-4 1 16 1-17 1-2 1-5 1-12 1 11 1-17 1-10 1 33 1-28 1 15 1 8 1-29 1 18 1 13 1-5 1-7 1 0 1-1 1-3 1-4 1 10 1-5 1-2 1-9 1-8 1 0 1 5 1 16 1-3 1-6 1-1 1-25 1 20 1-1 1-9 1 12 1-3 1-8 1 1 1-11 1 1 1 4 1 10 1 19 1-27 1-9 1 9 1 6 1-12 1-3 1 1 1 9 1 3 1-5 1-10 1 3 1-3 1 6 1-1 1-10 1-6 1 8 1 16 1-28 1 4 1 6 1 1 1-7 1 11 1-4 1 8 1-18 1 0 1 25 1-7 1-20 1 0 1 0 1-7 1 16 1-7 1-15 1 9 1 26 1-19 1 4 1-23 1-8 1 13 1 13 1 11 1-9 1-5 1-25 1 15 1-25 1 14 1 8 1 2 1 0 1 1 1 3 1-17 1-5 1-11 1 6 1 21 1-14 1-6 1 1 1 19 1 8 1-12 1-23 1 16 1-11 1 3 1 20 1-8 1-23 1 18 1-8 1-4 1 4 1 2 1-3 1-6 1-7 1 7 1 12 1-19 1 3 1-2 1 6 1-6 1 4 1-17 1 8 1-14 1-3 1 10 1-3 1-8 1 23 1-10 1-16 1 19 1-7 1-8 1 2 1 6 1-8 1-2 1 6 1-15 1 0 1 6 1-14 1 0 1 1 1 6 1 17 1-18 1-7 1 21 1-15 1-4 1-3 1 9 1-18 1-11 1 6 1 12 1-7 1-10 1 5 1 11 1-13 1-11 1-8 1 8 1-5 1 7 1-1 1 12 1-4 1-11 1-15 1 7 1 0 1 0 1-17 1 31 1-12 1-7 1 10 1-15 1 4 1-8 1 14 1-8 1 0 1-4 1 7 1-19 1 22 1-29 1 3 1-3 1 13 1-5 1 6 1-14 1 2 1-4 1 4 1 3 1-7 1 2 1 10 1-21 1 9 1-17 1 8 1 5 1-13 1-8 1 5 1 7 1-4 1 0 1-3 1-1 1-1 1-10 1-4 1-7 1 28 1-16 1 4 1-2 1 7 1-2 1 12 1-21 1 4 1-26 1 15 1-9 1-3 1-1 1-4 1 10 1 5 1 8 1-7 1-2 1 6 1 4 1-20 1-9 1 13 1-9 1-12 1-2 1 7 1 30 1-9 1-23 1 6 1 15 1-17 1-8 1 2 1 0 1 1 1-16 1 11 1-7 1 14 1 0 1-21 1 22 1 1 1-11 1-11 1-4 1-10 1 5 1-11 1 8 1-5 1 18 1-18 1-7 1-1 1 15 1-10 1 7 1-10 1 4 1-6 1 4 1-7 1-4 1-18 1 0 1-7 1 24 1-4 1-6 1-12 1 24 1-14 1-18 1 15 1-8 1 4 1-31 1 14 1-9 1 0 1-7 1 18 1 1 1-3 1-4 1-11 1 4 1 2 1-14 1 1 1-15 1 12 1-1 1-19 1-12 1 6 1-3 1 21 1-7 1 1 1-14 1-11 1 2 1 5 1-16 1 15 1 5 1-16 1-19 1 27 1-10 1-14 1 0 1-23 1-6 1 16 1 11 1-26 1-1 1-8 1-2 1 8 1-8 1 0 1-8 1 4 1 0 1 2 1 15 1-15 1-16 1 9 1 1 1-20 1-24 1 27 1-20 1 26 1-4 1-11 1 11 1-18 1-15 1 16 1-4 1-10 1-4 1-19 1 9 1 3 1-18 1 7 1 17 1 0 1-1 1-19 1 23 1 0 1-27 1-15 1 15 1 6 1-13 1 3 1-2 1 24 1-41 1 17 1-4 1-7 1-7 1-1 1-29 1 14 1 9 1 12 1-10 1 11 1 1 1-23 1 14 1-11" fill="none" stroke="#1a1a1a" stroke-width="3.2" stroke-linejoin="round" stroke-linecap="round" vector-effect="non-scaling-stroke"/>
<path transform="translate(954.6 0) scale(0.66271 .1)" d="M0 8570l1-5 1 12 1-9 1 3 1-4 1-15 1 6 1-9 1-4 1 2 1-17 1 20 1-15 1 11 1-8 1 10 1-20 1-4 1 4 1-25 1 20 1 11 1-3 1-6 1-11 1 9 1-1 1-8 1-7 1-7 1-11 1 19 1-29 1 8 1 6 1 6 1 9 1-6 1-16 1 5 1-19 1 19 1-12 1-9 1-4 1 4 1-4 1 23 1-24 1-1 1-1 1-2 1-2 1-7 1-4 1-5 1-9 1 13 1 9 1-14 1-5 1-1 1-4 1-12 1 22 1-5 1-14 1 4 1-8 1-2 1 4 1 4 1 5 1 1 1-21 1-9 1 1 1-1 1-10 1-4 1 11 1 9 1-18 1-10 1-1 1-9 1 3 1 5 1-5 1 9 1-10 1-1 1-7 1 10 1-23 1 2 1-10 1 15 1 3 1-14 1 16 1-16 1-16 1 5 1 6 1-6 1 21 1-9 1 4 1-4 1-31 1 3 1-23 1 12 1 19 1-16 1-3 1 7 1 5 1-11 1-3 1 8 1-4 1-7 1 3 1-3 1 0 1 15 1-19 1-8 1 16 1-18 1 18 1-15 1-2 1 4 1 5 1-2 1-13 1-6 1 5 1-3 1-8 1 6 1 6 1-7 1 10 1-9 1-9 1-1 1-7 1-8 1 11 1-10 1 1 1 2 1 4 1 1 1-5 1-21 1 11 1-4 1 5 1 10 1 0 1-6 1 0 1-20 1 10 1 6 1-12 1 7 1-7 1 10 1 3 1-16 1 14 1-13 1 17 1-21 1 0 1 0 1-10 1-13 1 5 1 18 1-10 1-3 1 15 1-6 1-1 1 1 1-18 1 5 1 0 1-4 1-10 1 11 1-18 1 2 1 1 1 3 1 12 1 10 1 3 1-9 1-6 1-29 1 25 1 20 1-16 1-7 1 2 1 0 1-6 1-7 1 4 1-16 1-9 1 27 1-11 1 8 1 9 1-2 1-18 1 4 1-15 1 6 1 12 1-8 1-30 1-2 1 12 1 22 1-6 1-2 1-16 1 9 1-22 1 18 1 12 1-17 1 12 1-15 1 4 1-3 1 0 1 13 1-4 1-17 1-25 1 28 1 4 1-5 1-10 1 17 1-28 1 1 1-7 1 14 1-5 1 22 1-15 1-7 1 4 1-12 1-7 1 12 1-7 1 11 1-4 1-5 1-2 1-3 1 3 1-8 1-17 1 15 1-2 1-10 1 17 1-7 1-15 1 11 1-3 1-11 1 15 1-9 1 14 1-13 1 14 1-2 1-4 1-10 1 13 1-2 1-9 1 6 1-14 1-7 1 9 1 4 1 3 1-3 1 10 1-22 1 11 1-1 1 10 1-10 1-2 1 12 1-7 1-4 1-12 1 1 1-18 1 2 1 14 1-21 1 12 1 1 1 2 1-20 1-9 1 26 1-4 1 1 1 10 1-12 1-24 1 8 1 12 1-10 1-3 1-4 1 17 1 1 1-30 1 27 1-20 1 21 1-28 1 15 1-14 1 0 1 8 1-14 1 5 1 0 1 8 1 2 1 5 1-15 1-4 1-11 1-5 1-7 1 8 1 4 1 0 1 4 1-18 1 24 1-8 1 5 1-7 1-14 1 1 1-29 1 26 1 3 1 12 1-26 1 9 1-1 1-9 1-6 1 1 1 20 1 5 1-23 1 6 1 7 1 0 1-18 1 3 1-8 1 21 1 20 1-21 1-26 1 21 1 12 1 1 1-12 1-1 1-5 1 4 1 3 1-16 1-3 1 0 1 1 1 3 1 9 1-21 1 15 1-8 1-28 1 16 1 5 1 8 1 2 1-6 1-10 1 13 1-12 1-9 1 2 1 1 1 3 1-3 1 0 1 9 1 2 1-2 1-10 1-6 1 1 1 1 1 8 1-9 1-13 1-1 1 24 1-21 1-10 1 6 1 20 1-12 1-3 1-19 1-5 1 11 1-2 1 6 1-14 1 16 1 6 1-28 1 9 1-4 1 14 1-9 1 4 1-11 1 0 1 16 1 3 1-37 1 10 1-1 1-14 1-2 1 7 1 8 1-4 1-11 1-11 1-14 1 30 1-14 1-8 1 8 1-4 1-2 1 5 1-12 1-10 1 5 1 2 1-12 1-5 1-2 1 15 1 8 1-1 1-22 1-5 1-9 1 26 1-18 1-2 1-6 1 2 1-12 1-1 1-5 1-17 1 19 1 7 1 3 1 4 1-7 1-13 1 1 1-12 1 8 1-10 1-24 1 14 1 3 1-13 1 10 1 8 1-22 1 10 1 0 1-20 1-4 1-10 1 0 1 2 1 9 1-18 1-17 1-22 1 15 1-5 1 10 1 0 1-21 1 11 1-6 1-5 1-6 1 8 1-6 1-9 1 3 1-14 1-6 1-2 1-12 1-16 1 21 1-7 1-27 1-8 1-6 1-10 1 11 1 10 1-12 1 4 1-21 1-3 1-15 1 1 1 7 1-6 1-2 1-18 1 5 1 2 1-11 1-25 1 6 1-3 1-13 1-11 1-1 1 18 1-6 1 12 1-31 1 13 1 13 1 5 1-23 1 14 1-2 1-1 1-14 1 1 1-4 1-19 1-28 1 26 1 3 1-6 1-16 1-7 1-17 1 21 1-19 1-4 1-20 1-31 1 15 1 0 1-1 1-27 1-17 1-6 1-20 1-12 1 3 1-16 1-15 1-3 1-16 1 13 1-30 1 2 1-16 1-10 1-17" fill="none" stroke="#1a1a1a" stroke-width="3.2" stroke-linejoin="round" stroke-linecap="round" vector-effect="non-scaling-stroke"/>
<line x1="954.6" y1="841.5" x2="1365.3" y2="841.5" stroke="#1a1a1a" stroke-width="3.2"/>
<line x1="1159.8" y1="546.2" x2="1159.8" y2="916.4" stroke="#1a1a1a" stroke-width="3.2"/>
<line x1="954.6" y1="839.9" x2="954.6" y2="847.3" stroke="#1a1a1a" stroke-width="2.8800000000000003"/>
<line x1="1056.8" y1="839.9" x2="1056.8" y2="847.3" stroke="#1a1a1a" stroke-width="2.8800000000000003"/>
<line x1="1262.1" y1="839.9" x2="1262.1" y2="847.3" stroke="#1a1a1a" stroke-width="2.8800000000000003"/>
<line x1="1365.3" y1="839.9" x2="1365.3" y2="847.3" stroke="#1a1a1a" stroke-width="2.8800000000000003"/>
<line x1="1153.8" y1="547.8" x2="1159.8" y2="547.8" stroke="#1a1a1a" stroke-width="2.8800000000000003"/>
<line x1="1153.8" y1="620.7" x2="1159.8" y2="620.7" stroke="#1a1a1a" stroke-width="2.8800000000000003"/>
<line x1="1153.8" y1="694.5" x2="1159.8" y2="694.5" stroke="#1a1a1a" stroke-width="2.8800000000000003"/>
<line x1="1153.8" y1="768.3" x2="1159.8" y2="768.3" stroke="#1a1a1a" stroke-width="2.8800000000000003"/>
<line x1="1153.8" y1="914.8" x2="1159.8" y2="914.8" stroke="#1a1a1a" stroke-width="2.8800000000000003"/>
<line x1="1153.8" y1="584" x2="1159.8" y2="584" stroke="#1a1a1a" stroke-width="2.8800000000000003"/>
<line x1="1153.8" y1="657.8" x2="1159.8" y2="657.8" stroke="#1a1a1a" stroke-width="2.8800000000000003"/>
<line x1="1153.8" y1="731.5" x2="1159.8" y2="731.5" stroke="#1a1a1a" stroke-width="2.8800000000000003"/>
<line x1="1153.8" y1="805.3" x2="1159.8" y2="805.3" stroke="#1a1a1a" stroke-width="2.8800000000000003"/>
<line x1="1153.8" y1="878.3" x2="1159.8" y2="878.3" stroke="#1a1a1a" stroke-width="2.8800000000000003"/>
<text transform="translate(1104.2 556) scale(1 1.035)" font-size="26.5">800</text>
<text transform="translate(1104.2 629.5) scale(1 1.035)" font-size="26.5">600</text>
<text transform="translate(1104.2 703.5) scale(1 1.035)" font-size="26.5">400</text>
<text transform="translate(1104.2 776.5) scale(1 1.035)" font-size="26.5">200</text>
<text transform="translate(1095.3 923.5) scale(1 1.035)" font-size="26.5">-200</text>
<text transform="translate(950.7 830.9) scale(1 1.035)" font-size="26.5">-100</text>
<text transform="translate(1033 871.8) scale(1 1.035)" font-size="26.5">-50</text>
<text transform="translate(1169.8 871.8) scale(1 1.035)" font-size="26.5">0</text>
<text transform="translate(1247.1 871.8) scale(1 1.035)" font-size="26.5">50</text>
<text transform="translate(1343.5 871.8) scale(1 1.035)" font-size="26.5">100</text>
<text transform="translate(1247.4 901.3)" font-size="34.5">V (mV)</text>
<text transform="translate(1092.3 706.1) rotate(-90)" font-size="34.5">I (pA)</text>
<text transform="translate(1368.4 724.8)" font-size="25">b</text>
<text transform="translate(1369 758.4)" font-size="25">a</text>
<text transform="translate(1369 773.9)" font-size="25">c</text>
<line x1="29.5" y1="1317.8" x2="449.1" y2="1317.8" stroke="#1a1a1a" stroke-width="3.2"/>
<line x1="239.3" y1="1000" x2="239.3" y2="1398.2" stroke="#1a1a1a" stroke-width="3.2"/>
<line x1="29.5" y1="1316.2" x2="29.5" y2="1323.6" stroke="#1a1a1a" stroke-width="2.8800000000000003"/>
<line x1="134.4" y1="1316.2" x2="134.4" y2="1323.6" stroke="#1a1a1a" stroke-width="2.8800000000000003"/>
<line x1="343.6" y1="1316.2" x2="343.6" y2="1323.6" stroke="#1a1a1a" stroke-width="2.8800000000000003"/>
<line x1="449.1" y1="1316.2" x2="449.1" y2="1323.6" stroke="#1a1a1a" stroke-width="2.8800000000000003"/>
<line x1="233.3" y1="1001.6" x2="239.3" y2="1001.6" stroke="#1a1a1a" stroke-width="2.8800000000000003"/>
<line x1="233.3" y1="1080.4" x2="239.3" y2="1080.4" stroke="#1a1a1a" stroke-width="2.8800000000000003"/>
<line x1="233.3" y1="1159.8" x2="239.3" y2="1159.8" stroke="#1a1a1a" stroke-width="2.8800000000000003"/>
<line x1="233.3" y1="1238.4" x2="239.3" y2="1238.4" stroke="#1a1a1a" stroke-width="2.8800000000000003"/>
<line x1="233.3" y1="1396.6" x2="239.3" y2="1396.6" stroke="#1a1a1a" stroke-width="2.8800000000000003"/>
<path transform="translate(29.5 0) scale(0.67794 .1)" d="M0 13278l1 16 1-21 1-4 1 33 1-7 1-19 1 10 1-10 1 0 1 4 1-22 1-7 1 17 1 41 1-8 1-28 1-34 1 54 1-20 1 3 1-5 1 5 1-11 1 24 1-28 1 2 1 16 1 8 1 12 1 1 1-17 1-28 1 8 1 1 1 5 1-2 1-1 1-1 1 17 1-15 1 18 1-12 1-6 1 0 1-1 1-20 1 15 1-12 1 2 1 5 1 15 1-19 1-5 1-14 1 25 1-5 1 1 1-16 1 21 1 2 1-7 1-21 1 11 1-5 1-15 1-1 1 27 1-13 1-14 1 16 1 15 1 9 1-31 1 5 1 15 1-8 1 5 1-22 1-5 1 46 1-11 1-9 1-2 1-9 1-3 1-17 1 16 1 8 1 7 1-5 1 2 1 7 1 5 1 14 1-11 1-21 1-1 1-13 1 5 1 4 1 24 1-14 1 4 1-18 1 6 1-18 1 23 1 21 1-7 1-15 1-10 1 10 1 4 1 30 1-49 1-3 1 13 1-4 1 22 1-21 1 0 1-12 1 29 1 7 1-10 1-2 1 16 1-24 1-7 1 30 1-4 1-22 1 19 1-25 1-8 1 10 1 13 1-20 1-18 1 51 1-7 1-9 1-11 1 7 1 6 1-29 1 13 1 11 1-16 1 26 1-10 1-5 1 11 1-20 1-9 1 46 1-1 1-24 1-22 1 19 1-12 1-11 1 19 1-35 1 21 1 2 1 32 1-23 1 15 1-15 1-3 1-2 1 11 1 8 1-10 1 2 1-17 1 14 1-21 1 22 1-14 1 11 1 4 1-2 1-9 1 7 1 4 1 4 1-15 1 10 1-15 1 2 1 14 1-2 1 0 1-2 1-8 1 24 1-21 1 16 1-14 1-8 1 1 1 32 1-23 1 2 1 18 1-13 1-13 1-4 1 20 1-11 1-5 1 0 1 4 1 1 1-10 1-12 1 28 1 11 1-23 1-1 1 3 1-17 1 5 1-1 1 16 1-8 1-10 1-18 1 23 1-3 1-31 1 20 1 15 1 17 1-4 1-13 1 15 1-28 1 24 1 9 1-7 1-30 1-32 1 57 1-11 1-8 1 3 1 12 1-34 1 28 1 7 1 1 1 0 1-35 1 12 1 25 1-11 1 18 1-8 1-12 1 19 1 0 1 9 1-7 1-34 1 9 1-16 1-4 1 37 1-7 1-9 1 0 1 29 1-4 1-1 1 0 1-18 1-24 1-8 1 35 1 12 1-16 1-3 1-4 1-3 1 9 1-17 1 23 1-19 1 10 1-14 1 8 1 9 1-4 1 7 1-5 1 3 1-23 1-9 1 22 1-10 1-9 1 33 1-15 1-23 1 17 1 13 1 11 1 8 1-8 1-34 1-9 1 15 1 32 1-22 1 14 1 5 1-39 1 8 1 3 1 4 1 0 1-7 1-2 1 14 1 0 1-5 1-26 1 25 1-2 1 11 1-6 1-6 1-2 1 3 1 14 1-20 1-24 1 22 1-17 1 9 1 3 1 12 1 23 1-21 1-14 1 8 1-17 1 11 1-6 1 37 1-38 1-1 1 17 1-29 1 7 1-4 1-27 1 13 1 15 1-5 1-27 1-2 1 29 1 13 1-7 1 25 1-40 1 33 1-18 1 15 1-30 1-15 1 23 1 1 1-40 1 14 1 20 1-15 1 4 1 15 1 8 1-5 1-11 1-42 1 38 1-2 1 14 1 11 1-8 1-2 1 19 1-28 1-12 1 34 1-29 1 13 1-13 1 24 1-14 1-2 1-6 1 0 1-13 1-5 1-8 1 16 1 4 1 27 1-34 1 37 1-21 1-2 1-22 1-11 1 33 1 8 1-11 1-10 1-18 1 2 1 8 1 8 1-32 1 30 1-18 1 15 1-5 1-1 1-10 1 11 1-3 1-11 1-15 1 12 1 23 1 24 1-24 1-12 1 44 1-33 1-17 1 10 1 6 1-15 1 1 1 19 1 7 1-16 1-1 1 7 1-14 1-5 1-18 1 33 1 14 1-8 1-19 1 16 1-10 1 0 1-5 1 12 1 0 1 11 1-16 1-9 1 7 1 5 1 3 1-34 1 3 1 5 1-5 1 9 1-16 1-1 1 9 1 12 1-24 1 20 1-5 1-6 1-7 1 11 1-16 1 5 1 2 1-8 1-2 1-14 1 14 1-1 1-3 1 24 1-4 1-9 1 2 1-2 1-14 1-20 1 3 1 17 1-4 1 1 1-12 1-3 1 10 1 5 1 30 1-25 1-6 1-13 1-3 1 23 1-26 1 20 1-17 1 24 1-33 1-9 1 0 1 25 1 7 1-2 1-9 1-17 1 41 1 3 1 11 1 6 1-3 1-34 1 13 1-18 1 34 1-31 1-1 1-6 1 29 1 31 1-16 1 8 1-7 1-12 1-34 1 28 1-20 1-3 1 5 1-13 1-4 1-23 1 33 1-3 1-17 1-20 1-6 1 6 1 4 1-27 1-16 1 18 1 12 1-18 1 4 1 10 1-9 1 14 1-12 1-2 1 1 1-2 1 2 1-15 1 22 1-12 1 26 1-23 1 20 1-3 1-1 1-11 1-8 1 16 1 19 1-2 1 12 1-9 1-11 1 4 1 22 1-26 1 3 1 6 1 11 1-7 1 28 1-9 1 4 1-21 1 11 1-5 1 5 1-13 1 3 1 3 1 10 1-16 1 1 1-6 1 17 1-11 1-16 1 15 1-6 1 25" fill="none" stroke="#787878" stroke-width="3.9" stroke-linejoin="round" stroke-linecap="round" vector-effect="non-scaling-stroke"/>
<path transform="translate(29.5 0) scale(0.67794 .1)" d="M0 13292l1 3 1-26 1 13 1 21 1-28 1 18 1-18 1-7 1 24 1-30 1 7 1 28 1-18 1-25 1 4 1 15 1 20 1-32 1 12 1 5 1 16 1-7 1-12 1-6 1 13 1-5 1-9 1-8 1 15 1-10 1-8 1 18 1-1 1-18 1 14 1 10 1-9 1 11 1-35 1 37 1-17 1 6 1-20 1-14 1 22 1-1 1 4 1-25 1 22 1 2 1-14 1 0 1 15 1-9 1-12 1 18 1-19 1-17 1 45 1-29 1 20 1 0 1-25 1 19 1-7 1-3 1-13 1 17 1 9 1-28 1 29 1-6 1-43 1-14 1 28 1 4 1 6 1-6 1 19 1-22 1 0 1 17 1-12 1-9 1 4 1 2 1 0 1-11 1 8 1 4 1-7 1 13 1-16 1-6 1 12 1-24 1 14 1 1 1-3 1 27 1-9 1-12 1-1 1 1 1 16 1 1 1-14 1-9 1 13 1-25 1 29 1-7 1-10 1 8 1-2 1-24 1 42 1-38 1-6 1 31 1-3 1-18 1-9 1 7 1 17 1-26 1 22 1-22 1 32 1 8 1 12 1-19 1-15 1-23 1 3 1 3 1-6 1 12 1-20 1-9 1 6 1 11 1-2 1 14 1-12 1 7 1-31 1 17 1-4 1-2 1 18 1-9 1-6 1-7 1-5 1 2 1-10 1 25 1-39 1 27 1-7 1-12 1 2 1-7 1 10 1-19 1 19 1-5 1-8 1-3 1-6 1 17 1-4 1 0 1 17 1-7 1-23 1-1 1 18 1 8 1-24 1-17 1 14 1-32 1 19 1 8 1-9 1-36 1 21 1 31 1-19 1 10 1-38 1 8 1 14 1-3 1 3 1 5 1-22 1 20 1-1 1-5 1 17 1-5 1-17 1-3 1 13 1-10 1-11 1 26 1-17 1-2 1-15 1 11 1-34 1 29 1 14 1-4 1-3 1-4 1-13 1-7 1-12 1-5 1 38 1-19 1 20 1 6 1-10 1-15 1 5 1 5 1 23 1-34 1 17 1 8 1-21 1 18 1 1 1-8 1 1 1-3 1 8 1-16 1-12 1-6 1 0 1 21 1-16 1-15 1-11 1 16 1 10 1-23 1 1 1 10 1-18 1 13 1 27 1-12 1 16 1-54 1 3 1 15 1 28 1-26 1-17 1 20 1-19 1 5 1 6 1 7 1-6 1 17 1-35 1 6 1 7 1-2 1-5 1-28 1 5 1-6 1 6 1 0 1-11 1-9 1 12 1-15 1 25 1 15 1-25 1-8 1-8 1 18 1 0 1-15 1 10 1-4 1 0 1 5 1 5 1-22 1 20 1-35 1 28 1-9 1-5 1-17 1 31 1-7 1-37 1-15 1 8 1 13 1-7 1-23 1-16 1 9 1-2 1 7 1-34 1-1 1-19 1 21 1-4 1 2 1-31 1 8 1-12 1-13 1-1 1 8 1-15 1-19 1 6 1 6 1 4 1 20 1-10 1-5 1-4 1 5 1 16 1-30 1-10 1 16 1-12 1 2 1 20 1 25 1-26 1-10 1-2 1 10 1-17 1 2 1-7 1 38 1-13 1-13 1-6 1-3 1 9 1-16 1 0 1-20 1-6 1 7 1-15 1-1 1-12 1 22 1 22 1-32 1-16 1 4 1-1 1-14 1 14 1-8 1-23 1 13 1-15 1 6 1 4 1 19 1-9 1-25 1-11 1 15 1-8 1-17 1 6 1 13 1-16 1-9 1 23 1-17 1-8 1-36 1 21 1 15 1-13 1-12 1 41 1-18 1-25 1-1 1-6 1-7 1-11 1-12 1 14 1 33 1-21 1-8 1-19 1 2 1 0 1-17 1 36 1-20 1-3 1 4 1-17 1-6 1-10 1-4 1 30 1-15 1 2 1-6 1 18 1-2 1 15 1-27 1-12 1 8 1 5 1 0 1-2 1 0 1-1 1-20 1-12 1-7 1-1 1-7 1-5 1-31 1 0 1 3 1 25 1-4 1 0 1-23 1-6 1-14 1 13 1-6 1 0 1-26 1-12 1-3 1-19 1 1 1-19 1-5 1 38 1-34 1-1 1 9 1-22 1-48 1 17 1 2 1-23 1-1 1 1 1-34 1-17 1-21 1 17 1-18 1-19 1-26 1 28 1-27 1-6 1-5 1-3 1-12 1 1 1-15 1-22 1 20 1 35 1 2 1-3 1 17 1 6 1-27 1 31 1 15 1-29 1-9 1 3 1-35 1-16 1-2 1 17 1-6 1-15 1-45 1-12 1-22 1-24 1 9 1-33 1-21 1 10 1 6 1 14 1-14 1-36 1 15 1-1 1 13 1-3 1-14 1-11 1 28 1 8 1 3 1 1 1-3 1 9 1 13 1 11 1-10 1 35 1-14 1 32 1 6 1-12 1-7 1-2 1 9 1-13 1 9 1 0 1 6 1-10 1-7 1 16 1-24 1-15 1 2 1-22 1-24 1 10 1 19 1-52 1 22 1-9 1-12 1-8 1-9 1-24 1 2 1 2 1-14 1-35 1 10 1-13 1-22 1-8 1 1 1-11 1-11 1 1 1-47 1-1 1-28 1 14 1 11 1-13 1-6 1 5 1 2 1 22 1-22 1 12 1-3 1 7 1-4 1-29 1 11 1 15 1 12 1-15 1-42 1 21 1-18 1-11 1-32 1-15 1 11 1-49 1 6 1-38 1 9 1 28 1 9 1-9 1-9 1-10 1 13 1-13" fill="none" stroke="#1a1a1a" stroke-width="3.6" stroke-linejoin="round" stroke-linecap="round" vector-effect="non-scaling-stroke"/>
<text transform="translate(167.8 1012.5) scale(1 1.035)" font-size="26.5">1000</text>
<text transform="translate(182.6 1091.3) scale(1 1.035)" font-size="26.5">750</text>
<text transform="translate(182.6 1170.4) scale(1 1.035)" font-size="26.5">500</text>
<text transform="translate(182.6 1249.3) scale(1 1.035)" font-size="26.5">250</text>
<text transform="translate(173.7 1406.6) scale(1 1.035)" font-size="26.5">-250</text>
<text transform="translate(22.8 1311.3) scale(1 1.035)" font-size="26.5">-100</text>
<text transform="translate(119.7 1311.3) scale(1 1.035)" font-size="26.5">-50</text>
<text transform="translate(245.7 1354.2) scale(1 1.035)" font-size="26.5">0</text>
<text transform="translate(324.6 1354.2) scale(1 1.035)" font-size="26.5">50</text>
<text transform="translate(409.8 1354.2) scale(1 1.035)" font-size="26.5">100</text>
<text transform="translate(316.5 1391.6)" font-size="34.5">V (mV)</text>
<text transform="translate(174.3 1170.6) rotate(-90)" font-size="34.5">I (pA)</text>
<text transform="translate(446.6 1169.2)" font-size="25">b</text>
<text transform="translate(447.2 1298.1)" font-size="25">a</text>
<line x1="494.6" y1="1315.7" x2="902.2" y2="1315.7" stroke="#1a1a1a" stroke-width="3.2"/>
<line x1="698.7" y1="1006.9" x2="698.7" y2="1394.6" stroke="#1a1a1a" stroke-width="3.2"/>
<line x1="494.6" y1="1314.1" x2="494.6" y2="1321.5" stroke="#1a1a1a" stroke-width="2.8800000000000003"/>
<line x1="596.5" y1="1314.1" x2="596.5" y2="1321.5" stroke="#1a1a1a" stroke-width="2.8800000000000003"/>
<line x1="799.7" y1="1314.1" x2="799.7" y2="1321.5" stroke="#1a1a1a" stroke-width="2.8800000000000003"/>
<line x1="902.2" y1="1314.1" x2="902.2" y2="1321.5" stroke="#1a1a1a" stroke-width="2.8800000000000003"/>
<line x1="692.7" y1="1008.5" x2="698.7" y2="1008.5" stroke="#1a1a1a" stroke-width="2.8800000000000003"/>
<line x1="692.7" y1="1084.9" x2="698.7" y2="1084.9" stroke="#1a1a1a" stroke-width="2.8800000000000003"/>
<line x1="692.7" y1="1161.3" x2="698.7" y2="1161.3" stroke="#1a1a1a" stroke-width="2.8800000000000003"/>
<line x1="692.7" y1="1238.4" x2="698.7" y2="1238.4" stroke="#1a1a1a" stroke-width="2.8800000000000003"/>
<line x1="692.7" y1="1393" x2="698.7" y2="1393" stroke="#1a1a1a" stroke-width="2.8800000000000003"/>
<path transform="translate(494.6 0) scale(0.65857 .1)" d="M0 13278l1 28 1-23 1-15 1-5 1-3 1 12 1 17 1-22 1-5 1 15 1-5 1 17 1-42 1 33 1-12 1-9 1-29 1 28 1 7 1 16 1 5 1-29 1 37 1-42 1 6 1-19 1-21 1 17 1 15 1 17 1-26 1 12 1 6 1-10 1-4 1-25 1 25 1-13 1-6 1 29 1 11 1-28 1-27 1 46 1-1 1-25 1 2 1 15 1 15 1-26 1-5 1-3 1-2 1 12 1-8 1 19 1-16 1 25 1-45 1 17 1 9 1-18 1 1 1-18 1 7 1-45 1 38 1 24 1 6 1-26 1 10 1-7 1 10 1 13 1-8 1-9 1 14 1-47 1 43 1-6 1-20 1-25 1 23 1-16 1 20 1-7 1 7 1 16 1 8 1-13 1-6 1-12 1 34 1-2 1 7 1-6 1-23 1-7 1 8 1-3 1-4 1-6 1-27 1 17 1 13 1-17 1-6 1 48 1 2 1-55 1 17 1-48 1 50 1 14 1-13 1 44 1-13 1-41 1 24 1 41 1-42 1-12 1 16 1 0 1-17 1-2 1 36 1-27 1-25 1-8 1-11 1-1 1 19 1-14 1 46 1 1 1-21 1-24 1 32 1 1 1 7 1 4 1-12 1-8 1-12 1-23 1 33 1 10 1-35 1-10 1 28 1-6 1-12 1-19 1 19 1-4 1-11 1 35 1-20 1-1 1 30 1-15 1-3 1-10 1-11 1 3 1-1 1 11 1-26 1-9 1 25 1-2 1-2 1-2 1 7 1-7 1 13 1 13 1-46 1 28 1-31 1-1 1-42 1 83 1-28 1 26 1-10 1-18 1-11 1 8 1 50 1-30 1-30 1 16 1 31 1-9 1-14 1-12 1-30 1 12 1 8 1 18 1-13 1 9 1 12 1-13 1 13 1-22 1 1 1 0 1-20 1 13 1 28 1-26 1 1 1-24 1-30 1 24 1 16 1 28 1-12 1 10 1-20 1 7 1 6 1-19 1 9 1-7 1 18 1-22 1-5 1-11 1-10 1-5 1 68 1-17 1-14 1 0 1-31 1 22 1-6 1 5 1 33 1-43 1-35 1 41 1 0 1 18 1-33 1-10 1 33 1-11 1 12 1 0 1 11 1-31 1 25 1-8 1-33 1 29 1 41 1-39 1-4 1 11 1-11 1 5 1-13 1 25 1-29 1 9 1-16 1 9 1 0 1 22 1 30 1-63 1 33 1-6 1-7 1-16 1-15 1 23 1 17 1-19 1 13 1 4 1 2 1-8 1-45 1 19 1 28 1 21 1-39 1 2 1-12 1-26 1 21 1 24 1-15 1 9 1-23 1 18 1-20 1 18 1 15 1-9 1-11 1-1 1-9 1 11 1 6 1 14 1-8 1-25 1-6 1 10 1 4 1-12 1 17 1 15 1-15 1 28 1-27 1 8 1-33 1-34 1 39 1-4 1 14 1 15 1 10 1-29 1 25 1-36 1 28 1-9 1-21 1-20 1 45 1-15 1 12 1 7 1 13 1-44 1 9 1-4 1-11 1 25 1 8 1-34 1-5 1 22 1-31 1 20 1-5 1-18 1 28 1 17 1 3 1-8 1-16 1-34 1 6 1 9 1-22 1 41 1 1 1-26 1 1 1 23 1 1 1-23 1 11 1 41 1-36 1 13 1-30 1 18 1 6 1 12 1-12 1-34 1-13 1 37 1-21 1 21 1 11 1-22 1-40 1 35 1 9 1 29 1 14 1-18 1-30 1-5 1 20 1-8 1-13 1-25 1 7 1 28 1-6 1 21 1 11 1 19 1-21 1-48 1 32 1-27 1 8 1 27 1-34 1 9 1-2 1-1 1 10 1-11 1-14 1-11 1 30 1-30 1 8 1 23 1-30 1 25 1-40 1 4 1 21 1 15 1 0 1-2 1-9 1 19 1-38 1 23 1-30 1-1 1 13 1-33 1 30 1-35 1 13 1 23 1-14 1-17 1-3 1 32 1-29 1-5 1-19 1 13 1 8 1 8 1-23 1-9 1 4 1-4 1 10 1-2 1 17 1-16 1-2 1 14 1-33 1 12 1 6 1-19 1-3 1 8 1-4 1-6 1-14 1-31 1 21 1-15 1 24 1-9 1 30 1-14 1-16 1 28 1-3 1-52 1 52 1 13 1-25 1 0 1 25 1-30 1-5 1 26 1 2 1 22 1-11 1-14 1 17 1-47 1 15 1-5 1 17 1 0 1-10 1-18 1 11 1-7 1-10 1 15 1 3 1-49 1-10 1 16 1 25 1-20 1 22 1-11 1-33 1 37 1-39 1 2 1 6 1 19 1-19 1-24 1 29 1 12 1-5 1-15 1-15 1 12 1-23 1 38 1 5 1-10 1 24 1-10 1-12 1-2 1-5 1 3 1-39 1 14 1-16 1 20 1 12 1 0 1-13 1-9 1-18 1-9 1 17 1-8 1 0 1 1 1-12 1-12 1 17 1-57 1 45 1-14 1-30 1-5 1-24 1 9 1 17 1-17 1 38 1 10 1-43 1 9 1 10 1 21 1-11 1-9 1 60 1-19 1-35 1 5 1-3 1 7 1 32 1-27 1-2 1 23 1-7 1-40 1-12 1 14 1 10 1-38 1 37 1-24 1-18 1 14 1 14 1 1 1-17 1-21 1 7 1-3 1-24 1-16 1-19 1-35 1 14 1 12 1 23 1 8 1 12 1-30 1 22 1 43 1-73 1-8 1 32 1 34 1 0 1 0 1-21" fill="none" stroke="#787878" stroke-width="4.0" stroke-linejoin="round" stroke-linecap="round" vector-effect="non-scaling-stroke"/>
<path transform="translate(494.6 0) scale(0.65954 .1)" d="M0 13276l1-38 1 22 1 23 1-7 1-9 1-22 1 16 1 22 1-23 1-5 1-7 1-7 1 17 1 23 1-2 1-30 1-24 1 19 1 17 1-5 1-17 1 16 1-39 1 35 1-5 1 7 1-19 1-14 1-20 1 64 1-23 1-2 1-2 1 11 1-8 1-8 1-10 1 8 1 5 1-9 1 2 1-21 1 23 1-6 1 16 1-77 1 7 1 7 1 33 1-1 1 2 1 19 1-21 1 25 1-28 1 7 1 9 1 3 1-23 1-17 1 24 1-21 1 12 1-19 1 27 1-46 1 31 1-1 1 34 1 4 1-46 1 10 1-16 1 9 1 7 1 7 1 45 1-65 1-17 1 35 1-2 1-15 1 48 1-45 1-12 1 13 1-47 1 2 1 9 1 31 1-11 1-11 1 12 1 2 1 2 1-9 1-7 1 6 1 5 1-22 1 39 1 5 1-12 1-21 1 12 1-37 1 17 1 10 1-18 1 13 1-16 1 14 1-44 1 13 1 10 1 1 1 12 1 11 1-27 1 34 1-24 1 6 1-23 1-4 1 17 1-7 1 3 1 30 1-14 1-17 1 8 1-10 1-10 1-1 1-2 1-44 1 40 1 29 1 6 1-8 1-49 1 32 1 37 1-23 1-48 1 12 1 19 1-13 1-17 1 36 1-38 1-7 1 21 1 4 1 11 1 5 1-40 1 1 1-17 1 16 1-7 1 36 1 8 1-1 1-27 1-26 1-8 1 14 1 10 1-22 1 8 1 28 1 25 1-40 1-5 1-10 1-16 1 17 1 12 1 5 1-34 1 8 1-17 1 3 1 10 1 5 1 12 1 15 1 2 1-29 1-19 1 25 1-6 1-1 1-3 1-35 1 7 1 32 1-4 1-36 1 0 1 15 1 26 1-35 1-20 1 16 1 33 1-22 1-15 1-12 1 39 1-22 1-21 1 38 1-61 1 29 1 10 1-29 1 40 1-45 1-1 1 46 1-29 1-19 1 31 1-6 1-11 1-13 1 11 1-7 1 15 1-7 1-17 1 28 1-29 1 27 1 20 1-32 1 5 1-39 1 10 1 3 1 3 1 20 1-15 1-12 1 4 1-10 1-6 1 1 1-26 1 38 1-24 1-9 1-11 1 24 1-36 1 30 1-1 1-16 1-8 1 33 1-39 1-20 1 36 1-21 1-42 1 50 1-20 1 6 1-3 1-10 1 16 1-45 1-4 1-6 1 37 1 8 1-10 1-33 1 49 1 2 1-22 1 9 1-10 1-4 1 1 1-17 1 4 1 24 1-26 1-9 1 13 1-20 1 17 1 22 1-7 1-10 1-35 1-31 1 27 1 2 1-4 1-10 1 20 1-36 1 21 1-13 1-11 1-13 1-11 1 18 1 7 1-9 1 19 1-56 1 45 1 14 1 1 1-41 1 5 1 2 1 50 1-16 1-16 1-10 1 2 1 6 1-11 1 10 1 12 1-35 1 2 1-4 1-12 1-11 1-31 1 19 1-37 1-7 1-11 1 15 1-25 1-32 1-6 1-29 1 32 1 41 1-69 1 9 1 19 1 4 1-40 1 37 1-35 1-13 1-31 1 25 1 33 1-31 1-17 1 5 1-9 1-1 1-14 1 18 1-43 1-5 1 10 1 17 1-5 1-15 1 13 1-9 1-63 1 14 1 3 1-15 1 23 1 14 1-30 1-24 1 33 1-3 1-5 1 6 1-5 1 12 1-12 1-1 1 42 1-8 1 4 1-12 1 11 1-17 1-29 1 12 1-6 1-5 1-1 1-22 1 24 1-29 1-3 1 15 1-44 1 50 1-5 1-30 1-29 1 23 1 3 1 17 1-20 1-5 1 41 1 7 1-37 1-29 1-16 1 38 1-41 1-13 1-5 1 17 1-28 1 28 1-9 1-9 1 31 1-46 1-7 1-7 1-5 1 15 1-24 1 26 1 18 1-18 1-64 1 13 1 40 1-2 1-46 1 32 1-8 1 27 1-35 1-15 1 27 1-15 1-33 1-31 1-15 1-6 1-27 1 33 1 38 1 1 1 46 1-3 1-8 1 12 1-7 1 46 1-50 1-18 1-9 1-8 1 6 1-45 1 10 1-30 1-33 1-5 1-2 1 24 1-3 1-61 1-14 1 17 1-7 1-35 1 16 1-34 1-9 1 0 1 2 1-30 1 0 1-36 1 29 1-8 1-45 1 18 1-36 1-25 1-22 1 4 1 9 1 36 1 43 1 19 1 5 1 33 1 1 1 22 1-16 1 21 1 38 1 14 1-15 1 29 1-39 1-46 1-10 1-35 1-41 1-22 1-1 1-49 1-2 1-31 1-30 1-37 1-29 1 35 1-14 1-61 1-51 1-25 1-40 1-22 1-71 1-21 1-9 1-13 1 27 1 55 1 9 1 13 1-15 1 41 1-42 1-7 1-44 1-38 1 27 1-18 1-53 1 11 1-4 1 47 1-31 1 79 1 1 1 35 1-12 1-85 1-67 1-88 1-43 1-19 1-61 1-44 1-10 1 6 1 9 1 13 1 41 1-106 1-123 1-110 1-165 1-71 1 35 1 42 1 30 1 33 1 29 1 20 1 65 1 54 1 32 1 19 1 72 1 80 1-138 1-156 1-128 1-63 1 41 1 44 1 57 1 37 1 87 1-36 1-156 1-151 1-79 1-32 1-22 1-36 1-40 1-29 1-49 1-27 1-64 1-17 1-18 1-45 1 88 1 102 1-24 1-74 1-13 1-104 1-39" fill="none" stroke="#1a1a1a" stroke-width="3.5" stroke-linejoin="round" stroke-linecap="round" vector-effect="non-scaling-stroke"/>
<text transform="translate(627.8 1018.5) scale(1 1.035)" font-size="26.5">1000</text>
<text transform="translate(642.6 1095.5) scale(1 1.035)" font-size="26.5">750</text>
<text transform="translate(642.6 1171.9) scale(1 1.035)" font-size="26.5">500</text>
<text transform="translate(642.6 1248.7) scale(1 1.035)" font-size="26.5">250</text>
<text transform="translate(633.7 1403) scale(1 1.035)" font-size="26.5">-250</text>
<text transform="translate(474.6 1307.1) scale(1 1.035)" font-size="26.5">-100</text>
<text transform="translate(581.9 1307.1) scale(1 1.035)" font-size="26.5">-50</text>
<text transform="translate(703.1 1344.3) scale(1 1.035)" font-size="26.5">0</text>
<text transform="translate(778.5 1344.3) scale(1 1.035)" font-size="26.5">50</text>
<text transform="translate(865.6 1344.3) scale(1 1.035)" font-size="26.5">100</text>
<text transform="translate(771.7 1379.7)" font-size="34.5">V (mV)</text>
<text transform="translate(631.3 1169.6) rotate(-90)" font-size="34.5">I (pA)</text>
<text transform="translate(906.6 1017.6)" font-size="25">b</text>
<text transform="translate(907.2 1268.2)" font-size="25">a</text>
<line x1="963" y1="1313.7" x2="1364.6" y2="1313.7" stroke="#1a1a1a" stroke-width="2.2"/>
<line x1="1164.4" y1="1009.8" x2="1164.4" y2="1389.3" stroke="#1a1a1a" stroke-width="2.2"/>
<line x1="963" y1="1312.6" x2="963" y2="1320.2" stroke="#1a1a1a" stroke-width="1.9800000000000002"/>
<line x1="1064.3" y1="1312.6" x2="1064.3" y2="1320.2" stroke="#1a1a1a" stroke-width="1.9800000000000002"/>
<line x1="1264.2" y1="1312.6" x2="1264.2" y2="1320.2" stroke="#1a1a1a" stroke-width="1.9800000000000002"/>
<line x1="1364.6" y1="1312.6" x2="1364.6" y2="1320.2" stroke="#1a1a1a" stroke-width="1.9800000000000002"/>
<line x1="1158.4" y1="1010.9" x2="1164.4" y2="1010.9" stroke="#1a1a1a" stroke-width="1.9800000000000002"/>
<line x1="1158.4" y1="1085.8" x2="1164.4" y2="1085.8" stroke="#1a1a1a" stroke-width="1.9800000000000002"/>
<line x1="1158.4" y1="1161.9" x2="1164.4" y2="1161.9" stroke="#1a1a1a" stroke-width="1.9800000000000002"/>
<line x1="1158.4" y1="1237.2" x2="1164.4" y2="1237.2" stroke="#1a1a1a" stroke-width="1.9800000000000002"/>
<line x1="1158.4" y1="1388.2" x2="1164.4" y2="1388.2" stroke="#1a1a1a" stroke-width="1.9800000000000002"/>
<path transform="translate(963 0) scale(0.95861 .1)" d="M0 13235l1-6 1-2 1 11 1-12 1 10 1-2 1-3 1 2 1-10 1 6 1 6 1 1 1-7 1 3 1 1 1-6 1 2 1 1 1 6 1-2 1-10 1 0 1 6 1-1 1-2 1 0 1-6 1-3 1 3 1 2 1 1 1-6 1 6 1-6 1-1 1-1 1-1 1 2 1 4 1-12 1 8 1-1 1-2 1 0 1-5 1-3 1 7 1 4 1 0 1-10 1-7 1 4 1 10 1 1 1-1 1 4 1-3 1 4 1-11 1 2 1-1 1-7 1 6 1 0 1-7 1 1 1 1 1 2 1 7 1-3 1 0 1-6 1 2 1-4 1 6 1-9 1-1 1 18 1-13 1-1 1-3 1 6 1 5 1-18 1 15 1-2 1 0 1-6 1-4 1 7 1-11 1-1 1 0 1 1 1 5 1-7 1 9 1-3 1 2 1-1 1 1 1-4 1-5 1 2 1-7 1 1 1-1 1 9 1-5 1-6 1 3 1 10 1-6 1-2 1 2 1 5 1 3 1-8 1 3 1-4 1-7 1 7 1-10 1 9 1-6 1 7 1-8 1 0 1 3 1 1 1-9 1 0 1 1 1-4 1-5 1 17 1-1 1-7 1-5 1 4 1 3 1 0 1-3 1-3 1-1 1-2 1 14 1-8 1 4 1 0 1-4 1 1 1-2 1-8 1 7 1-5 1-6 1 3 1 0 1-12 1 8 1 8 1-3 1 3 1-2 1 3 1-9 1 2 1-2 1-3 1 1 1 6 1 1 1-2 1 3 1-7 1 1 1-1 1-1 1-7 1 5 1 11 1-8 1 4 1-1 1-11 1 2 1-3 1 4 1 8 1-10 1-6 1 5 1-4 1 3 1 1 1 0 1-1 1 2 1 1 1 5 1-2 1 0 1-4 1-7 1 1 1 2 1-3 1-5 1-2 1 3 1 9 1 4 1-4 1-5 1 6 1 2 1-6 1 0 1-5 1-8 1 5 1-4 1 8 1 3 1-4 1-8 1 7 1 3 1-4 1 0 1 7 1-4 1-11 1 6 1-4 1 3 1-13 1 19 1-3 1-11 1 4 1 4 1-3 1 6 1-9 1 3 1-1 1 4 1-5 1 5 1-16 1 0 1 3 1 4 1 7 1 5 1-13 1 3 1-7 1 7 1-2 1 0 1 1 1 5 1-10 1 0 1 1 1-13 1 11 1 1 1-7 1-1 1 2 1-11 1 10 1-1 1 8 1 2 1-11 1 7 1-2 1-2 1-4 1 11 1-12 1 2 1-2 1 1 1 6 1-8 1 2 1 11 1-10 1-8 1 3 1 11 1-13 1 2 1 1 1-2 1 1 1 2 1 0 1-5 1 0 1 2 1-2 1-6 1 1 1 7 1-10 1 1 1-2 1 7 1 0 1 2 1-16 1 2 1 8 1-3 1 2 1-8 1 7 1-3 1-8 1 1 1 5 1 11 1-10 1 2 1-8 1 5 1 0 1-2 1 0 1-10 1 9 1 2 1-7 1-5 1 8 1 0 1 2 1 2 1-17 1 4 1 7 1-1 1-3 1 6 1-9 1-1 1 2 1 2 1-2 1-1 1 0 1-6 1 10 1-3 1-6 1 1 1-1 1 4 1-1 1 1 1-12 1 14 1-2 1 4 1 3 1-8 1-2 1-5 1 12 1-4 1 4 1-7 1-3 1 2 1-2 1 4 1-8 1-5 1 5 1-1 1-2 1 2 1-5 1 10 1-3 1 5 1-4 1-7 1-8 1 10 1 2 1 0 1-15 1 4 1 3 1 0 1 5 1-1 1-11 1 6 1 5 1 0 1-6 1-3 1 2 1-6 1 2 1 6 1-7 1-2 1 3 1 6" fill="none" stroke="#787878" stroke-width="5.0" stroke-linejoin="round" stroke-linecap="round" vector-effect="non-scaling-stroke"/>
<path transform="translate(963 0) scale(0.95861 .1)" d="M0 13292l1-1 1-4 1 3 1-3 1 3 1-3 1-12 1 10 1 3 1-1 1-1 1-1 1 4 1-7 1-4 1-1 1 1 1-2 1 5 1-8 1 6 1-4 1 3 1-1 1 0 1 3 1-4 1-2 1-5 1-2 1-2 1-4 1 1 1 6 1-2 1-2 1-2 1 5 1 3 1-4 1 7 1-9 1-6 1 6 1-9 1 2 1-4 1 3 1 6 1-7 1 1 1 3 1-1 1-3 1 0 1-1 1 3 1 4 1-1 1-10 1-3 1 8 1-4 1 0 1-2 1-6 1 3 1-5 1-6 1-3 1 0 1 13 1-2 1-1 1-2 1-2 1 2 1 0 1 5 1-7 1-5 1-5 1 7 1-3 1 0 1 4 1-2 1-4 1 0 1 0 1 7 1-5 1-1 1-4 1-8 1 4 1 4 1-4 1 3 1 3 1-9 1-3 1-1 1 4 1 0 1 3 1 1 1 1 1 0 1-10 1 6 1-5 1-2 1 0 1 4 1-6 1-1 1 7 1-7 1 0 1 3 1-6 1 3 1-1 1 0 1-11 1 9 1 8 1-1 1-7 1-3 1-6 1 5 1-2 1-3 1 0 1 9 1-4 1-1 1-4 1-3 1-7 1 4 1 2 1 0 1 3 1-8 1 7 1-8 1-4 1 4 1 1 1 1 1-8 1-4 1 8 1 8 1-10 1 1 1-6 1-3 1 12 1 0 1-6 1-4 1 2 1 0 1-1 1-5 1 3 1 0 1-2 1 5 1-8 1 0 1 1 1-3 1 6 1-1 1 1 1-9 1 1 1 2 1-1 1-2 1-1 1-4 1 9 1-10 1-3 1 6 1-2 1 3 1-4 1 6 1-5 1-8 1 3 1-3 1 11 1-9 1-2 1-1 1 2 1 6 1-7 1 3 1-8 1 3 1-10 1 2 1 10 1-2 1-3 1-8 1 3 1 8 1-9 1-4 1 9 1-7 1-8 1 7 1 3 1-2 1-1 1 0 1-3 1-5 1 10 1-4 1 4 1-16 1 11 1-2 1 0 1 0 1-10 1 10 1-3 1 2 1-1 1 5 1-2 1-7 1 1 1 6 1-5 1 2 1-7 1-2 1 5 1-8 1 0 1 3 1-5 1 6 1 7 1-5 1-1 1-8 1 0 1-3 1-2 1-10 1 12 1-2 1 4 1 0 1-5 1 2 1 3 1-2 1-2 1-9 1-2 1 7 1-7 1 4 1 0 1 5 1 4 1-11 1 9 1-11 1-3 1 5 1-1 1 1 1 1 1-1 1-5 1-8 1 8 1-9 1 5 1 4 1-2 1-7 1 2 1-3 1 1 1 6 1-3 1 4 1-6 1-5 1 0 1 14 1 1 1-8 1-2 1-5 1 4 1-3 1-3 1 2 1 8 1-8 1 2 1-5 1 1 1-6 1 6 1-6 1 3 1-7 1 2 1 0 1-4 1 0 1 0 1 4 1-7 1 9 1 3 1-4 1-9 1-2 1 6 1 11 1-9 1-2 1-8 1-2 1 2 1 6 1-7 1 6 1-14 1 1 1 6 1 4 1-6 1 6 1 0 1 2 1 1 1-9 1-1 1 0 1 9 1-3 1-2 1-5 1-4 1 1 1-2 1 3 1 13 1-9 1-6 1-12 1 6 1-2 1 8 1-8 1-2 1 9 1 3 1-9 1-1 1 4 1-4 1-2 1 0 1 1 1-3 1-6 1 4 1 2 1-3 1-5 1 6 1-3 1 4 1 0 1-5 1-1 1-4 1 1 1 2 1-3 1 3 1-6 1-3 1 3 1 3 1 0 1 1 1-2 1-2 1-2 1 6 1-2 1 3 1-2 1-12 1-1" fill="none" stroke="#1a1a1a" stroke-width="5.6" stroke-linejoin="round" stroke-linecap="round" vector-effect="non-scaling-stroke"/>
<text transform="translate(1093.2 1018.5) scale(1 1.035)" font-size="26.5">1000</text>
<text transform="translate(1108 1093.4) scale(1 1.035)" font-size="26.5">750</text>
<text transform="translate(1108 1169.2) scale(1 1.035)" font-size="26.5">500</text>
<text transform="translate(1108 1244.8) scale(1 1.035)" font-size="26.5">250</text>
<text transform="translate(1099.1 1396.1) scale(1 1.035)" font-size="26.5">-250</text>
<text transform="translate(957.7 1307.1) scale(1 1.035)" font-size="26.5">-100</text>
<text transform="translate(1049.4 1307.1) scale(1 1.035)" font-size="26.5">-50</text>
<text transform="translate(1169.2 1348.2) scale(1 1.035)" font-size="26.5">0</text>
<text transform="translate(1253.9 1348.2) scale(1 1.035)" font-size="26.5">50</text>
<text transform="translate(1348.8 1348.2) scale(1 1.035)" font-size="26.5">100</text>
<text transform="translate(1247.2 1376.1)" font-size="34.5">V (mV)</text>
<text transform="translate(1096.7 1170.6) rotate(-90)" font-size="34.5">I (pA)</text>
<text transform="translate(1369.2 1301.5)" font-size="25">b</text>
<text transform="translate(1369.8 1322.7)" font-size="25">a</text>
<text transform="translate(1412.3 537.6)" font-size="55.5">(h)</text>
<rect x="1538.7" y="519.5" width="23.1" height="23.1" fill="#fff" stroke="#1a1a1a" stroke-width="2.7"/>
<rect x="1537.5" y="547.5" width="25.5" height="24.8" fill="#000"/>
<rect x="1538.7" y="577" width="23.1" height="23.3" fill="#a6a6a6" stroke="#1a1a1a" stroke-width="2.7"/>
<text transform="translate(1570.8 539.4)" font-size="27.6">control</text>
<text transform="translate(1571.1 569.4)" font-size="27.6">+herbal</text>
<text transform="translate(1666.7 569.4)" font-size="27.6">component</text>
<text transform="translate(1570.5 599.8)" font-size="27.6">+herbal</text>
<text transform="translate(1666.7 599.8)" font-size="27.6">component</text>
<text transform="translate(1809.2 599.8)" font-size="27.6">+TEA</text>
<rect x="1532.5" y="813" width="24.7" height="95.5" fill="#fff" stroke="#1a1a1a" stroke-width="2.9"/>
<rect x="1562.1" y="753.1" width="27.6" height="155.4" fill="#202020"/>
<rect x="1595" y="802.2" width="24.1" height="106.3" fill="#a6a6a6" stroke="#1a1a1a" stroke-width="2.9"/>
<rect x="1650.4" y="807.5" width="24.4" height="101" fill="#fff" stroke="#1a1a1a" stroke-width="2.9"/>
<rect x="1679.9" y="677.2" width="27.1" height="231.3" fill="#202020"/>
<rect x="1712.2" y="811.8" width="24.6" height="96.8" fill="#a6a6a6" stroke="#1a1a1a" stroke-width="2.9"/>
<rect x="1768.2" y="806.8" width="23.9" height="101.8" fill="#fff" stroke="#1a1a1a" stroke-width="2.9"/>
<rect x="1797.7" y="752.6" width="27.1" height="155.9" fill="#202020"/>
<rect x="1830" y="803.5" width="24.1" height="105" fill="#a6a6a6" stroke="#1a1a1a" stroke-width="2.9"/>
<line x1="1544.8" y1="807.8" x2="1544.8" y2="818.3" stroke="#1a1a1a" stroke-width="3.0"/>
<line x1="1538.5" y1="809.1" x2="1551" y2="809.1" stroke="#1a1a1a" stroke-width="3.0"/>
<line x1="1538.5" y1="817" x2="1551" y2="817" stroke="#1a1a1a" stroke-width="3.0"/>
<line x1="1575.9" y1="738.4" x2="1575.9" y2="754.1" stroke="#1a1a1a" stroke-width="3.0"/>
<line x1="1569.7" y1="739.7" x2="1582.2" y2="739.7" stroke="#1a1a1a" stroke-width="3.0"/>
<line x1="1607" y1="794" x2="1607" y2="810.3" stroke="#1a1a1a" stroke-width="3.0"/>
<line x1="1600.8" y1="795.3" x2="1613.2" y2="795.3" stroke="#1a1a1a" stroke-width="3.0"/>
<line x1="1600.8" y1="809" x2="1613.2" y2="809" stroke="#1a1a1a" stroke-width="3.0"/>
<line x1="1662.6" y1="785.7" x2="1662.6" y2="828.3" stroke="#1a1a1a" stroke-width="3.0"/>
<line x1="1656.3" y1="787" x2="1668.8" y2="787" stroke="#1a1a1a" stroke-width="3.0"/>
<line x1="1656.3" y1="827" x2="1668.8" y2="827" stroke="#1a1a1a" stroke-width="3.0"/>
<line x1="1693.5" y1="636.9" x2="1693.5" y2="678.2" stroke="#1a1a1a" stroke-width="3.0"/>
<line x1="1687.2" y1="638.2" x2="1699.8" y2="638.2" stroke="#1a1a1a" stroke-width="3.0"/>
<line x1="1724.5" y1="790.2" x2="1724.5" y2="832.3" stroke="#1a1a1a" stroke-width="3.0"/>
<line x1="1718.2" y1="791.5" x2="1730.8" y2="791.5" stroke="#1a1a1a" stroke-width="3.0"/>
<line x1="1718.2" y1="831" x2="1730.8" y2="831" stroke="#1a1a1a" stroke-width="3.0"/>
<line x1="1780.2" y1="797.8" x2="1780.2" y2="814.8" stroke="#1a1a1a" stroke-width="3.0"/>
<line x1="1774" y1="799.1" x2="1786.5" y2="799.1" stroke="#1a1a1a" stroke-width="3.0"/>
<line x1="1774" y1="813.5" x2="1786.5" y2="813.5" stroke="#1a1a1a" stroke-width="3.0"/>
<line x1="1811.2" y1="733.8" x2="1811.2" y2="753.6" stroke="#1a1a1a" stroke-width="3.0"/>
<line x1="1805" y1="735.1" x2="1817.5" y2="735.1" stroke="#1a1a1a" stroke-width="3.0"/>
<line x1="1842.1" y1="794.7" x2="1842.1" y2="811.5" stroke="#1a1a1a" stroke-width="3.0"/>
<line x1="1835.8" y1="796" x2="1848.3" y2="796" stroke="#1a1a1a" stroke-width="3.0"/>
<line x1="1835.8" y1="810.2" x2="1848.3" y2="810.2" stroke="#1a1a1a" stroke-width="3.0"/>
<line x1="1510.2" y1="908.5" x2="1869.9" y2="908.5" stroke="#1a1a1a" stroke-width="3.2"/>
<line x1="1517.5" y1="566.2" x2="1517.5" y2="910.1" stroke="#1a1a1a" stroke-width="3.2"/>
<line x1="1510" y1="874.4" x2="1517.5" y2="874.4" stroke="#1a1a1a" stroke-width="2.9"/>
<line x1="1510" y1="840.3" x2="1517.5" y2="840.3" stroke="#1a1a1a" stroke-width="2.9"/>
<line x1="1510" y1="806.3" x2="1517.5" y2="806.3" stroke="#1a1a1a" stroke-width="2.9"/>
<line x1="1510" y1="772.2" x2="1517.5" y2="772.2" stroke="#1a1a1a" stroke-width="2.9"/>
<line x1="1510" y1="738.1" x2="1517.5" y2="738.1" stroke="#1a1a1a" stroke-width="2.9"/>
<line x1="1510" y1="704" x2="1517.5" y2="704" stroke="#1a1a1a" stroke-width="2.9"/>
<line x1="1510" y1="669.9" x2="1517.5" y2="669.9" stroke="#1a1a1a" stroke-width="2.9"/>
<line x1="1510" y1="635.9" x2="1517.5" y2="635.9" stroke="#1a1a1a" stroke-width="2.9"/>
<line x1="1510" y1="601.8" x2="1517.5" y2="601.8" stroke="#1a1a1a" stroke-width="2.9"/>
<line x1="1510" y1="567.7" x2="1517.5" y2="567.7" stroke="#1a1a1a" stroke-width="2.9"/>
<text transform="translate(1476.5 577.2) scale(1 1.035)" font-size="26.5">50</text>
<text transform="translate(1476.5 645.4) scale(1 1.035)" font-size="26.5">40</text>
<text transform="translate(1476.5 713.5) scale(1 1.035)" font-size="26.5">30</text>
<text transform="translate(1476.5 782) scale(1 1.035)" font-size="26.5">20</text>
<text transform="translate(1476.5 850.3) scale(1 1.035)" font-size="26.5">10</text>
<text transform="translate(1491.2 918.1) scale(1 1.035)" font-size="26.5">0</text>
<text transform="translate(1464.2 784.2) rotate(-90)" font-size="34.5">I (pA/pF)</text>
<line x1="1529.8" y1="731.8" x2="1590.5" y2="731.8" stroke="#1a1a1a" stroke-width="2.9"/>
<text transform="translate(1556.9 737.9)" font-size="25">*</text>
<line x1="1647" y1="630.7" x2="1710.1" y2="630.7" stroke="#1a1a1a" stroke-width="2.9"/>
<text transform="translate(1672.9 633)" font-size="25">*</text>
<line x1="1763" y1="726.6" x2="1823" y2="726.6" stroke="#1a1a1a" stroke-width="2.9"/>
<text transform="translate(1789.6 730.3)" font-size="25">*</text>
<text transform="translate(1601.3 788.7)" font-size="24">†</text>
<text transform="translate(1718.3 788.7)" font-size="24">†</text>
<text transform="translate(1835.3 791.9)" font-size="24">†</text>
<text transform="translate(1579.1 933.7) rotate(-45) scale(1 1.035)" font-size="34.5" text-anchor="end">KYN</text>
<text transform="translate(1695.9 933.7) rotate(-45) scale(1 1.035)" font-size="34.5" text-anchor="end">TON</text>
<text transform="translate(1812.5 933) rotate(-45) scale(1 1.035)" font-size="34.5" text-anchor="end">DIO</text>
<text transform="translate(1412.4 1040.9)" font-size="55.5">(i)</text>
<rect x="1522" y="1056.6" width="22.6" height="23" fill="#fff" stroke="#1a1a1a" stroke-width="2.7"/>
<rect x="1520.7" y="1087.2" width="25.2" height="24.8" fill="#000"/>
<text transform="translate(1553 1079.8)" font-size="27.6">control+BAPTA</text>
<text transform="translate(1553.2 1111.1)" font-size="27.6">+herbal component+BAPTA</text>
<rect x="1535.5" y="1378.3" width="35.1" height="18.6" fill="#fff" stroke="#1a1a1a" stroke-width="3.0"/>
<rect x="1577.2" y="1272" width="37.1" height="124.9" fill="#202020"/>
<rect x="1654.6" y="1377.5" width="34.6" height="19.4" fill="#fff" stroke="#1a1a1a" stroke-width="3.0"/>
<rect x="1695.7" y="1193.1" width="37.6" height="203.8" fill="#202020"/>
<rect x="1773.2" y="1376.8" width="34.6" height="20.1" fill="#fff" stroke="#1a1a1a" stroke-width="3.0"/>
<rect x="1814.8" y="1371.5" width="36.8" height="25.4" fill="#202020"/>
<line x1="1553.4" y1="1373.5" x2="1553.4" y2="1383.6" stroke="#1a1a1a" stroke-width="2.9"/>
<line x1="1548.2" y1="1374.8" x2="1558.7" y2="1374.8" stroke="#1a1a1a" stroke-width="2.9"/>
<line x1="1548.2" y1="1382.3" x2="1558.7" y2="1382.3" stroke="#1a1a1a" stroke-width="2.9"/>
<line x1="1596" y1="1255.7" x2="1596" y2="1273" stroke="#1a1a1a" stroke-width="2.9"/>
<line x1="1590.8" y1="1257" x2="1601.2" y2="1257" stroke="#1a1a1a" stroke-width="2.9"/>
<line x1="1671.9" y1="1372.3" x2="1671.9" y2="1379.8" stroke="#1a1a1a" stroke-width="2.9"/>
<line x1="1666.7" y1="1373.5" x2="1677.2" y2="1373.5" stroke="#1a1a1a" stroke-width="2.9"/>
<line x1="1666.7" y1="1378.5" x2="1677.2" y2="1378.5" stroke="#1a1a1a" stroke-width="2.9"/>
<line x1="1714.8" y1="1150.6" x2="1714.8" y2="1194.1" stroke="#1a1a1a" stroke-width="2.9"/>
<line x1="1709.5" y1="1151.8" x2="1720" y2="1151.8" stroke="#1a1a1a" stroke-width="2.9"/>
<line x1="1790.5" y1="1374" x2="1790.5" y2="1381.6" stroke="#1a1a1a" stroke-width="2.9"/>
<line x1="1785.2" y1="1375.2" x2="1795.8" y2="1375.2" stroke="#1a1a1a" stroke-width="2.9"/>
<line x1="1785.2" y1="1380.3" x2="1795.8" y2="1380.3" stroke="#1a1a1a" stroke-width="2.9"/>
<line x1="1833.1" y1="1368" x2="1833.1" y2="1372.5" stroke="#1a1a1a" stroke-width="2.9"/>
<line x1="1827.8" y1="1369.2" x2="1838.3" y2="1369.2" stroke="#1a1a1a" stroke-width="2.9"/>
<line x1="1509" y1="1396.9" x2="1871.7" y2="1396.9" stroke="#1a1a1a" stroke-width="3.3"/>
<line x1="1514.8" y1="1053.3" x2="1514.8" y2="1398.5" stroke="#1a1a1a" stroke-width="3.3"/>
<line x1="1508.3" y1="1362.7" x2="1514.8" y2="1362.7" stroke="#1a1a1a" stroke-width="2.9"/>
<line x1="1508.3" y1="1328.5" x2="1514.8" y2="1328.5" stroke="#1a1a1a" stroke-width="2.9"/>
<line x1="1508.3" y1="1294.3" x2="1514.8" y2="1294.3" stroke="#1a1a1a" stroke-width="2.9"/>
<line x1="1508.3" y1="1260.1" x2="1514.8" y2="1260.1" stroke="#1a1a1a" stroke-width="2.9"/>
<line x1="1508.3" y1="1225.9" x2="1514.8" y2="1225.9" stroke="#1a1a1a" stroke-width="2.9"/>
<line x1="1508.3" y1="1191.7" x2="1514.8" y2="1191.7" stroke="#1a1a1a" stroke-width="2.9"/>
<line x1="1508.3" y1="1157.5" x2="1514.8" y2="1157.5" stroke="#1a1a1a" stroke-width="2.9"/>
<line x1="1508.3" y1="1123.3" x2="1514.8" y2="1123.3" stroke="#1a1a1a" stroke-width="2.9"/>
<line x1="1508.3" y1="1089.1" x2="1514.8" y2="1089.1" stroke="#1a1a1a" stroke-width="2.9"/>
<line x1="1508.3" y1="1054.9" x2="1514.8" y2="1054.9" stroke="#1a1a1a" stroke-width="2.9"/>
<text transform="translate(1476.7 1062.6) scale(1 1.035)" font-size="26.8">50</text>
<text transform="translate(1476.7 1131.2) scale(1 1.035)" font-size="26.8">40</text>
<text transform="translate(1476.7 1200.2) scale(1 1.035)" font-size="26.8">30</text>
<text transform="translate(1476.7 1268.7) scale(1 1.035)" font-size="26.8">20</text>
<text transform="translate(1476.7 1337.4) scale(1 1.035)" font-size="26.8">10</text>
<text transform="translate(1491.6 1405.8) scale(1 1.035)" font-size="26.8">0</text>
<text transform="translate(1464.6 1300.9) rotate(-90)" font-size="34.5">I (pA/pF)</text>
<line x1="1532.8" y1="1245.5" x2="1615" y2="1245.5" stroke="#1a1a1a" stroke-width="2.9"/>
<text transform="translate(1566.1 1248.3)" font-size="25">*</text>
<line x1="1645" y1="1142" x2="1733.8" y2="1142" stroke="#1a1a1a" stroke-width="2.9"/>
<text transform="translate(1685.6 1145.2)" font-size="25">*</text>
<text transform="translate(1568 1421.8) rotate(-45) scale(1 1.035)" font-size="34.5" text-anchor="end">KYN</text>
<text transform="translate(1697.6 1421.8) rotate(-45) scale(1 1.035)" font-size="34.5" text-anchor="end">TON</text>
<text transform="translate(1822.2 1419.8) rotate(-45) scale(1 1.035)" font-size="34.5" text-anchor="end">DIO</text>
</svg>
</body></html>
